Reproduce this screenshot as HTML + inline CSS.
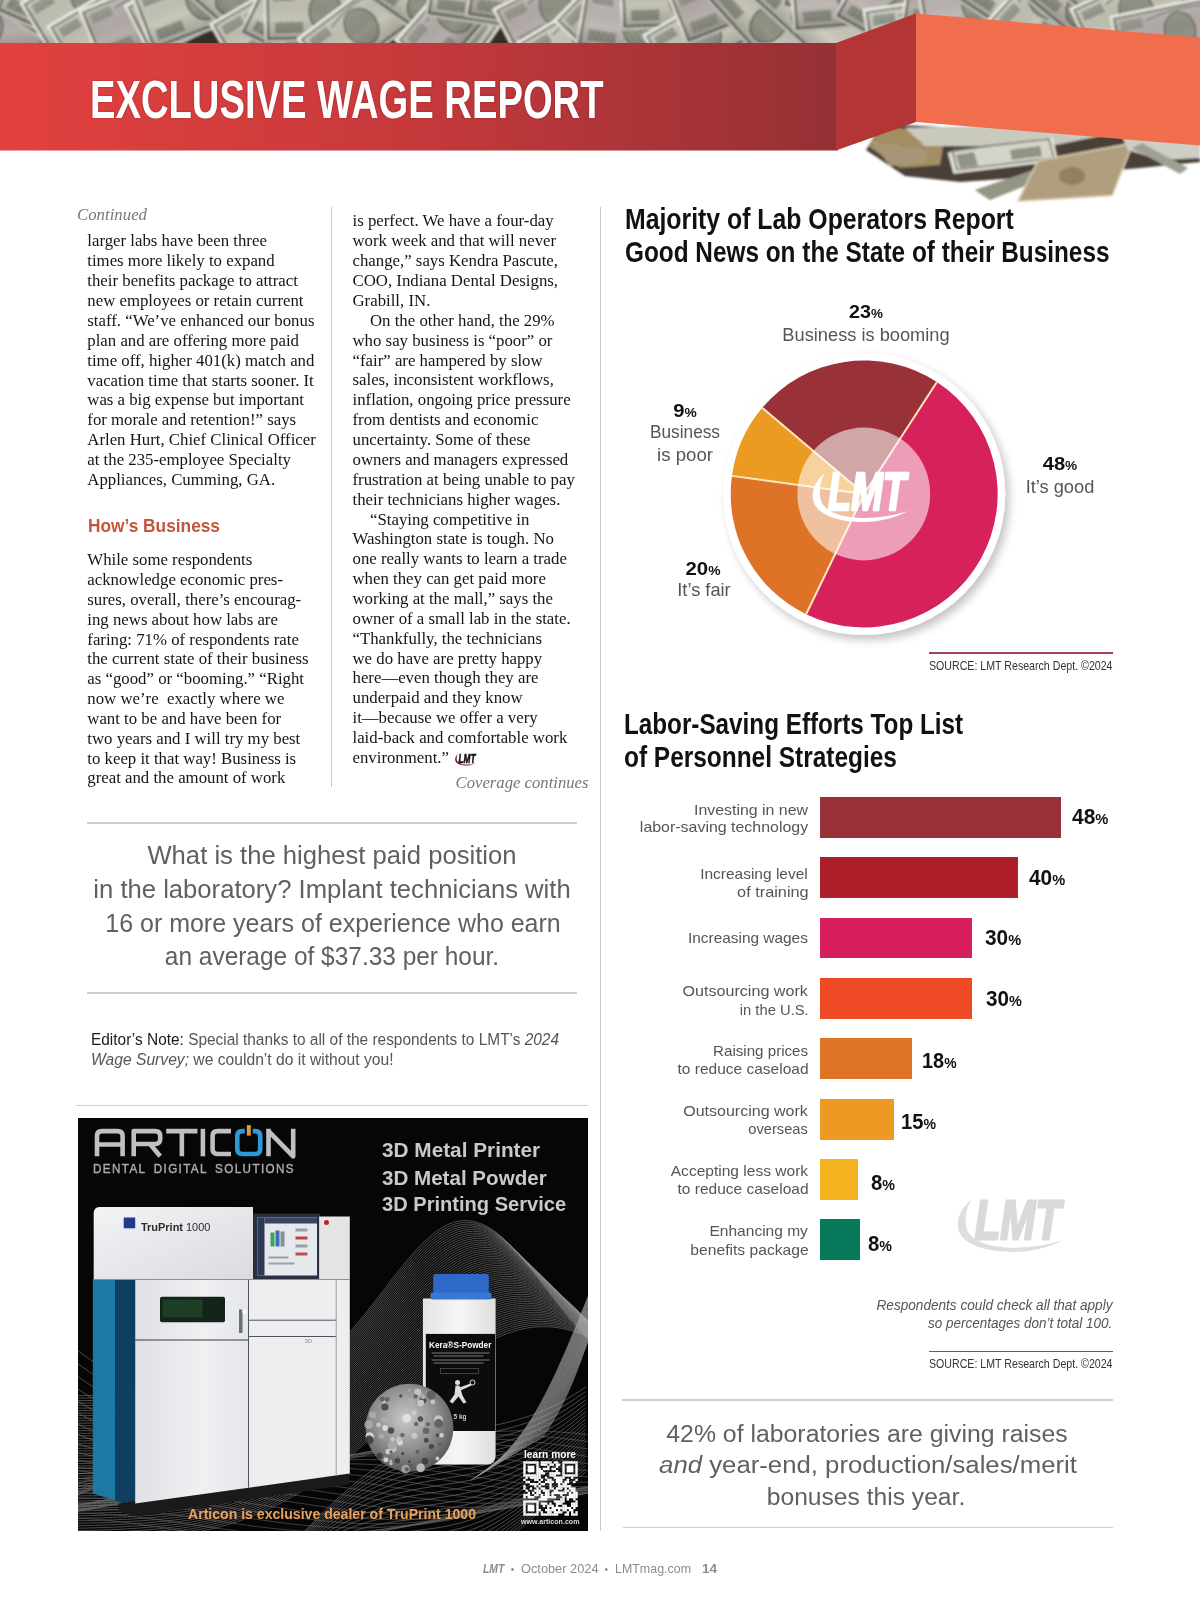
<!DOCTYPE html>
<html><head><meta charset="utf-8"><style>
html,body{margin:0;padding:0;}
body{width:1200px;height:1600px;position:relative;overflow:hidden;background:#fff;}
.t{position:absolute;white-space:pre;}
.S{font-family:"Liberation Sans", sans-serif;}
.R{font-family:"Liberation Serif", serif;}
.a{position:absolute;}
</style></head><body>
<svg class="a" style="left:0;top:0" width="1200" height="210" viewBox="0 0 1200 210">
<defs>
<linearGradient id="band" x1="0" x2="1" y1="0" y2="0">
<stop offset="0" stop-color="#e2413f"/><stop offset="0.45" stop-color="#c93a3c"/><stop offset="1" stop-color="#953035"/>
</linearGradient>
<filter id="mblur" x="-5%" y="-20%" width="110%" height="140%"><feGaussianBlur stdDeviation="0.9"/></filter>
<clipPath id="strip"><rect x="0" y="0" width="1200" height="60"/></clipPath>
<pattern id="eng" width="3" height="3" patternUnits="userSpaceOnUse" patternTransform="rotate(30)"><rect width="3" height="1" fill="#8f9283" fill-opacity="0.55"/></pattern>
<linearGradient id="shade" x1="0" x2="0" y1="0" y2="1"><stop offset="0" stop-color="#fff" stop-opacity="0.25"/><stop offset="0.6" stop-color="#000" stop-opacity="0"/><stop offset="1" stop-color="#000" stop-opacity="0.22"/></linearGradient>
<pattern id="eng2" width="2.2" height="2.2" patternUnits="userSpaceOnUse" patternTransform="rotate(-20)"><rect width="2.2" height="2.2" fill="#b6b7a9"/><rect width="2.2" height="1" fill="#5f6256"/></pattern>
<pattern id="eng3" width="2.5" height="2.5" patternUnits="userSpaceOnUse" patternTransform="rotate(15)"><rect width="2.5" height="2.5" fill="#c2b18e"/><rect width="2.5" height="0.9" fill="#6f5f43"/></pattern>
</defs>
<g clip-path="url(#strip)"><g filter="url(#mblur)"><rect x="0" y="0" width="1200" height="60" fill="#352e28"/><g transform="translate(-31.0 15.5) rotate(42.4)"><rect x="-66.8" y="-31.8" width="133.6" height="63.6" fill="#e8e7df"/><rect x="-62.8" y="-27.8" width="125.6" height="55.6" fill="#d8d7cb" stroke="#6f7264" stroke-width="2.5"/><rect x="-62.8" y="-27.8" width="125.6" height="55.6" fill="url(#eng)"/><ellipse cx="-6.7" cy="0" rx="17.2" ry="21.0" fill="url(#eng2)" stroke="#6f7264" stroke-width="1.8"/><rect x="38.8" y="-23.8" width="18" height="47.6" fill="url(#eng2)"/><rect x="-57.8" y="-23.8" width="22" height="10" fill="url(#eng2)"/><rect x="-55.8" y="11.8" width="28" height="11" fill="url(#eng2)"/><path d="M-31.8,-19.8 Q0,-29.8 31.8,-19.8" fill="none" stroke="#6f7264" stroke-width="1.5"/><rect x="-66.8" y="-31.8" width="133.6" height="63.6" fill="url(#shade)"/></g><g transform="translate(-5.2 25.8) rotate(-2.4)"><rect x="-71.9" y="-28.0" width="143.8" height="55.9" fill="#e8e7df"/><rect x="-67.9" y="-24.0" width="135.8" height="47.9" fill="#bfb5b5" stroke="#6f7264" stroke-width="2.5"/><rect x="-67.9" y="-24.0" width="135.8" height="47.9" fill="url(#eng)"/><ellipse cx="-7.2" cy="0" rx="15.1" ry="18.5" fill="url(#eng2)" stroke="#6f7264" stroke-width="1.8"/><rect x="43.9" y="-20.0" width="18" height="39.9" fill="url(#eng2)"/><rect x="-62.9" y="-20.0" width="22" height="10" fill="url(#eng2)"/><rect x="-60.9" y="8.0" width="28" height="11" fill="url(#eng2)"/><path d="M-36.9,-16.0 Q0,-26.0 36.9,-16.0" fill="none" stroke="#6f7264" stroke-width="1.5"/><rect x="-71.9" y="-28.0" width="143.8" height="55.9" fill="url(#shade)"/></g><g transform="translate(28.1 -4.2) rotate(31.0)"><rect x="-69.5" y="-30.5" width="139.0" height="61.0" fill="#e8e7df"/><rect x="-65.5" y="-26.5" width="131.0" height="53.0" fill="#d0cfc1" stroke="#6f7264" stroke-width="2.5"/><rect x="-65.5" y="-26.5" width="131.0" height="53.0" fill="url(#eng)"/><ellipse cx="-7.0" cy="0" rx="16.5" ry="20.1" fill="url(#eng2)" stroke="#6f7264" stroke-width="1.8"/><rect x="41.5" y="-22.5" width="18" height="45.0" fill="url(#eng2)"/><rect x="-60.5" y="-22.5" width="22" height="10" fill="url(#eng2)"/><rect x="-58.5" y="10.5" width="28" height="11" fill="url(#eng2)"/><path d="M-34.5,-18.5 Q0,-28.5 34.5,-18.5" fill="none" stroke="#6f7264" stroke-width="1.5"/><rect x="-69.5" y="-30.5" width="139.0" height="61.0" fill="url(#shade)"/></g><g transform="translate(60.9 11.0) rotate(23.9)"><rect x="-62.4" y="-27.6" width="124.7" height="55.2" fill="#e8e7df"/><rect x="-58.4" y="-23.6" width="116.7" height="47.2" fill="#d0cfc1" stroke="#6f7264" stroke-width="2.5"/><rect x="-58.4" y="-23.6" width="116.7" height="47.2" fill="url(#eng)"/><ellipse cx="-6.2" cy="0" rx="14.9" ry="18.2" fill="url(#eng2)" stroke="#6f7264" stroke-width="1.8"/><rect x="34.4" y="-19.6" width="18" height="39.2" fill="url(#eng2)"/><rect x="-53.4" y="-19.6" width="22" height="10" fill="url(#eng2)"/><rect x="-51.4" y="7.6" width="28" height="11" fill="url(#eng2)"/><path d="M-27.4,-15.6 Q0,-25.6 27.4,-15.6" fill="none" stroke="#6f7264" stroke-width="1.5"/><rect x="-62.4" y="-27.6" width="124.7" height="55.2" fill="url(#shade)"/></g><g transform="translate(94.6 -5.5) rotate(-31.0)"><rect x="-69.0" y="-31.4" width="138.0" height="62.8" fill="#e8e7df"/><rect x="-65.0" y="-27.4" width="130.0" height="54.8" fill="#cfd0c2" stroke="#6f7264" stroke-width="2.5"/><rect x="-65.0" y="-27.4" width="130.0" height="54.8" fill="url(#eng)"/><ellipse cx="-6.9" cy="0" rx="17.0" ry="20.7" fill="url(#eng2)" stroke="#6f7264" stroke-width="1.8"/><rect x="41.0" y="-23.4" width="18" height="46.8" fill="url(#eng2)"/><rect x="-60.0" y="-23.4" width="22" height="10" fill="url(#eng2)"/><rect x="-58.0" y="11.4" width="28" height="11" fill="url(#eng2)"/><path d="M-34.0,-19.4 Q0,-29.4 34.0,-19.4" fill="none" stroke="#6f7264" stroke-width="1.5"/><rect x="-69.0" y="-31.4" width="138.0" height="62.8" fill="url(#shade)"/></g><g transform="translate(121.5 16.8) rotate(-30.5)"><rect x="-69.6" y="-30.0" width="139.2" height="60.0" fill="#e8e7df"/><rect x="-65.6" y="-26.0" width="131.2" height="52.0" fill="#cfd0c2" stroke="#6f7264" stroke-width="2.5"/><rect x="-65.6" y="-26.0" width="131.2" height="52.0" fill="url(#eng)"/><ellipse cx="-7.0" cy="0" rx="16.2" ry="19.8" fill="url(#eng2)" stroke="#6f7264" stroke-width="1.8"/><rect x="41.6" y="-22.0" width="18" height="44.0" fill="url(#eng2)"/><rect x="-60.6" y="-22.0" width="22" height="10" fill="url(#eng2)"/><rect x="-58.6" y="10.0" width="28" height="11" fill="url(#eng2)"/><path d="M-34.6,-18.0 Q0,-28.0 34.6,-18.0" fill="none" stroke="#6f7264" stroke-width="1.5"/><rect x="-69.6" y="-30.0" width="139.2" height="60.0" fill="url(#shade)"/></g><g transform="translate(159.2 11.2) rotate(-22.2)"><rect x="-74.9" y="-31.7" width="149.9" height="63.4" fill="#e8e7df"/><rect x="-70.9" y="-27.7" width="141.9" height="55.4" fill="#bfb5b5" stroke="#6f7264" stroke-width="2.5"/><rect x="-70.9" y="-27.7" width="141.9" height="55.4" fill="url(#eng)"/><ellipse cx="-7.5" cy="0" rx="17.1" ry="20.9" fill="url(#eng2)" stroke="#6f7264" stroke-width="1.8"/><rect x="46.9" y="-23.7" width="18" height="47.4" fill="url(#eng2)"/><rect x="-65.9" y="-23.7" width="22" height="10" fill="url(#eng2)"/><rect x="-63.9" y="11.7" width="28" height="11" fill="url(#eng2)"/><path d="M-39.9,-19.7 Q0,-29.7 39.9,-19.7" fill="none" stroke="#6f7264" stroke-width="1.5"/><rect x="-74.9" y="-31.7" width="149.9" height="63.4" fill="url(#shade)"/></g><g transform="translate(191.2 5.2) rotate(-27.0)"><rect x="-60.4" y="-30.3" width="120.9" height="60.6" fill="#e8e7df"/><rect x="-56.4" y="-26.3" width="112.9" height="52.6" fill="#c9c1c0" stroke="#6f7264" stroke-width="2.5"/><rect x="-56.4" y="-26.3" width="112.9" height="52.6" fill="url(#eng)"/><ellipse cx="-6.0" cy="0" rx="16.4" ry="20.0" fill="url(#eng2)" stroke="#6f7264" stroke-width="1.8"/><rect x="32.4" y="-22.3" width="18" height="44.6" fill="url(#eng2)"/><rect x="-51.4" y="-22.3" width="22" height="10" fill="url(#eng2)"/><rect x="-49.4" y="10.3" width="28" height="11" fill="url(#eng2)"/><path d="M-25.4,-18.3 Q0,-28.3 25.4,-18.3" fill="none" stroke="#6f7264" stroke-width="1.5"/><rect x="-60.4" y="-30.3" width="120.9" height="60.6" fill="url(#shade)"/></g><g transform="translate(210.2 -3.5) rotate(-20.9)"><rect x="-74.4" y="-31.7" width="148.7" height="63.5" fill="#e8e7df"/><rect x="-70.4" y="-27.7" width="140.7" height="55.5" fill="#d3d3c6" stroke="#6f7264" stroke-width="2.5"/><rect x="-70.4" y="-27.7" width="140.7" height="55.5" fill="url(#eng)"/><ellipse cx="-7.4" cy="0" rx="17.1" ry="20.9" fill="url(#eng2)" stroke="#6f7264" stroke-width="1.8"/><rect x="46.4" y="-23.7" width="18" height="47.5" fill="url(#eng2)"/><rect x="-65.4" y="-23.7" width="22" height="10" fill="url(#eng2)"/><rect x="-63.4" y="11.7" width="28" height="11" fill="url(#eng2)"/><path d="M-39.4,-19.7 Q0,-29.7 39.4,-19.7" fill="none" stroke="#6f7264" stroke-width="1.5"/><rect x="-74.4" y="-31.7" width="148.7" height="63.5" fill="url(#shade)"/></g><g transform="translate(239.0 0.8) rotate(41.0)"><rect x="-65.6" y="-31.0" width="131.3" height="62.1" fill="#e8e7df"/><rect x="-61.6" y="-27.0" width="123.3" height="54.1" fill="#d8d7cb" stroke="#6f7264" stroke-width="2.5"/><rect x="-61.6" y="-27.0" width="123.3" height="54.1" fill="url(#eng)"/><ellipse cx="-6.6" cy="0" rx="16.8" ry="20.5" fill="url(#eng2)" stroke="#6f7264" stroke-width="1.8"/><rect x="37.6" y="-23.0" width="18" height="46.1" fill="url(#eng2)"/><rect x="-56.6" y="-23.0" width="22" height="10" fill="url(#eng2)"/><rect x="-54.6" y="11.0" width="28" height="11" fill="url(#eng2)"/><path d="M-30.6,-19.0 Q0,-29.0 30.6,-19.0" fill="none" stroke="#6f7264" stroke-width="1.5"/><rect x="-65.6" y="-31.0" width="131.3" height="62.1" fill="url(#shade)"/></g><g transform="translate(278.4 15.8) rotate(-30.2)"><rect x="-64.0" y="-27.9" width="128.1" height="55.9" fill="#e8e7df"/><rect x="-60.0" y="-23.9" width="120.1" height="47.9" fill="#d0cfc1" stroke="#6f7264" stroke-width="2.5"/><rect x="-60.0" y="-23.9" width="120.1" height="47.9" fill="url(#eng)"/><ellipse cx="-6.4" cy="0" rx="15.1" ry="18.4" fill="url(#eng2)" stroke="#6f7264" stroke-width="1.8"/><rect x="36.0" y="-19.9" width="18" height="39.9" fill="url(#eng2)"/><rect x="-55.0" y="-19.9" width="22" height="10" fill="url(#eng2)"/><rect x="-53.0" y="7.9" width="28" height="11" fill="url(#eng2)"/><path d="M-29.0,-15.9 Q0,-25.9 29.0,-15.9" fill="none" stroke="#6f7264" stroke-width="1.5"/><rect x="-64.0" y="-27.9" width="128.1" height="55.9" fill="url(#shade)"/></g><g transform="translate(307.7 32.5) rotate(25.8)"><rect x="-62.0" y="-31.0" width="124.0" height="62.1" fill="#e8e7df"/><rect x="-58.0" y="-27.0" width="116.0" height="54.1" fill="#d3d3c6" stroke="#6f7264" stroke-width="2.5"/><rect x="-58.0" y="-27.0" width="116.0" height="54.1" fill="url(#eng)"/><ellipse cx="-6.2" cy="0" rx="16.8" ry="20.5" fill="url(#eng2)" stroke="#6f7264" stroke-width="1.8"/><rect x="34.0" y="-23.0" width="18" height="46.1" fill="url(#eng2)"/><rect x="-53.0" y="-23.0" width="22" height="10" fill="url(#eng2)"/><rect x="-51.0" y="11.0" width="28" height="11" fill="url(#eng2)"/><path d="M-27.0,-19.0 Q0,-29.0 27.0,-19.0" fill="none" stroke="#6f7264" stroke-width="1.5"/><rect x="-62.0" y="-31.0" width="124.0" height="62.1" fill="url(#shade)"/></g><g transform="translate(332.2 11.5) rotate(-1.3)"><rect x="-68.4" y="-29.7" width="136.8" height="59.5" fill="#e8e7df"/><rect x="-64.4" y="-25.7" width="128.8" height="51.5" fill="#d0cfc1" stroke="#6f7264" stroke-width="2.5"/><rect x="-64.4" y="-25.7" width="128.8" height="51.5" fill="url(#eng)"/><ellipse cx="-6.8" cy="0" rx="16.1" ry="19.6" fill="url(#eng2)" stroke="#6f7264" stroke-width="1.8"/><rect x="40.4" y="-21.7" width="18" height="43.5" fill="url(#eng2)"/><rect x="-59.4" y="-21.7" width="22" height="10" fill="url(#eng2)"/><rect x="-57.4" y="9.7" width="28" height="11" fill="url(#eng2)"/><path d="M-33.4,-17.7 Q0,-27.7 33.4,-17.7" fill="none" stroke="#6f7264" stroke-width="1.5"/><rect x="-68.4" y="-29.7" width="136.8" height="59.5" fill="url(#shade)"/></g><g transform="translate(366.8 22.7) rotate(-36.9)"><rect x="-65.8" y="-29.5" width="131.5" height="58.9" fill="#e8e7df"/><rect x="-61.8" y="-25.5" width="123.5" height="50.9" fill="#d0cfc1" stroke="#6f7264" stroke-width="2.5"/><rect x="-61.8" y="-25.5" width="123.5" height="50.9" fill="url(#eng)"/><ellipse cx="-6.6" cy="0" rx="15.9" ry="19.5" fill="url(#eng2)" stroke="#6f7264" stroke-width="1.8"/><rect x="37.8" y="-21.5" width="18" height="42.9" fill="url(#eng2)"/><rect x="-56.8" y="-21.5" width="22" height="10" fill="url(#eng2)"/><rect x="-54.8" y="9.5" width="28" height="11" fill="url(#eng2)"/><path d="M-30.8,-17.5 Q0,-27.5 30.8,-17.5" fill="none" stroke="#6f7264" stroke-width="1.5"/><rect x="-65.8" y="-29.5" width="131.5" height="58.9" fill="url(#shade)"/></g><g transform="translate(413.8 -8.0) rotate(36.4)"><rect x="-64.6" y="-31.9" width="129.1" height="63.8" fill="#e8e7df"/><rect x="-60.6" y="-27.9" width="121.1" height="55.8" fill="#bfb5b5" stroke="#6f7264" stroke-width="2.5"/><rect x="-60.6" y="-27.9" width="121.1" height="55.8" fill="url(#eng)"/><ellipse cx="-6.5" cy="0" rx="17.2" ry="21.1" fill="url(#eng2)" stroke="#6f7264" stroke-width="1.8"/><rect x="36.6" y="-23.9" width="18" height="47.8" fill="url(#eng2)"/><rect x="-55.6" y="-23.9" width="22" height="10" fill="url(#eng2)"/><rect x="-53.6" y="11.9" width="28" height="11" fill="url(#eng2)"/><path d="M-29.6,-19.9 Q0,-29.9 29.6,-19.9" fill="none" stroke="#6f7264" stroke-width="1.5"/><rect x="-64.6" y="-31.9" width="129.1" height="63.8" fill="url(#shade)"/></g><g transform="translate(429.2 8.6) rotate(35.4)"><rect x="-68.7" y="-27.7" width="137.3" height="55.4" fill="#e8e7df"/><rect x="-64.7" y="-23.7" width="129.3" height="47.4" fill="#d0cfc1" stroke="#6f7264" stroke-width="2.5"/><rect x="-64.7" y="-23.7" width="129.3" height="47.4" fill="url(#eng)"/><ellipse cx="-6.9" cy="0" rx="15.0" ry="18.3" fill="url(#eng2)" stroke="#6f7264" stroke-width="1.8"/><rect x="40.7" y="-19.7" width="18" height="39.4" fill="url(#eng2)"/><rect x="-59.7" y="-19.7" width="22" height="10" fill="url(#eng2)"/><rect x="-57.7" y="7.7" width="28" height="11" fill="url(#eng2)"/><path d="M-33.7,-15.7 Q0,-25.7 33.7,-15.7" fill="none" stroke="#6f7264" stroke-width="1.5"/><rect x="-68.7" y="-27.7" width="137.3" height="55.4" fill="url(#shade)"/></g><g transform="translate(458.9 10.5) rotate(-49.0)"><rect x="-64.9" y="-29.0" width="129.9" height="58.0" fill="#e8e7df"/><rect x="-60.9" y="-25.0" width="121.9" height="50.0" fill="#bfb5b5" stroke="#6f7264" stroke-width="2.5"/><rect x="-60.9" y="-25.0" width="121.9" height="50.0" fill="url(#eng)"/><ellipse cx="-6.5" cy="0" rx="15.7" ry="19.1" fill="url(#eng2)" stroke="#6f7264" stroke-width="1.8"/><rect x="36.9" y="-21.0" width="18" height="42.0" fill="url(#eng2)"/><rect x="-55.9" y="-21.0" width="22" height="10" fill="url(#eng2)"/><rect x="-53.9" y="9.0" width="28" height="11" fill="url(#eng2)"/><path d="M-29.9,-17.0 Q0,-27.0 29.9,-17.0" fill="none" stroke="#6f7264" stroke-width="1.5"/><rect x="-64.9" y="-29.0" width="129.9" height="58.0" fill="url(#shade)"/></g><g transform="translate(488.5 -4.2) rotate(8.3)"><rect x="-60.2" y="-29.3" width="120.5" height="58.7" fill="#e8e7df"/><rect x="-56.2" y="-25.3" width="112.5" height="50.7" fill="#cfd0c2" stroke="#6f7264" stroke-width="2.5"/><rect x="-56.2" y="-25.3" width="112.5" height="50.7" fill="url(#eng)"/><ellipse cx="-6.0" cy="0" rx="15.8" ry="19.4" fill="url(#eng2)" stroke="#6f7264" stroke-width="1.8"/><rect x="32.2" y="-21.3" width="18" height="42.7" fill="url(#eng2)"/><rect x="-51.2" y="-21.3" width="22" height="10" fill="url(#eng2)"/><rect x="-49.2" y="9.3" width="28" height="11" fill="url(#eng2)"/><path d="M-25.2,-17.3 Q0,-27.3 25.2,-17.3" fill="none" stroke="#6f7264" stroke-width="1.5"/><rect x="-60.2" y="-29.3" width="120.5" height="58.7" fill="url(#shade)"/></g><g transform="translate(530.4 -2.7) rotate(8.7)"><rect x="-62.0" y="-29.4" width="124.1" height="58.9" fill="#e8e7df"/><rect x="-58.0" y="-25.4" width="116.1" height="50.9" fill="#bfb5b5" stroke="#6f7264" stroke-width="2.5"/><rect x="-58.0" y="-25.4" width="116.1" height="50.9" fill="url(#eng)"/><ellipse cx="-6.2" cy="0" rx="15.9" ry="19.4" fill="url(#eng2)" stroke="#6f7264" stroke-width="1.8"/><rect x="34.0" y="-21.4" width="18" height="42.9" fill="url(#eng2)"/><rect x="-53.0" y="-21.4" width="22" height="10" fill="url(#eng2)"/><rect x="-51.0" y="9.4" width="28" height="11" fill="url(#eng2)"/><path d="M-27.0,-17.4 Q0,-27.4 27.0,-17.4" fill="none" stroke="#6f7264" stroke-width="1.5"/><rect x="-62.0" y="-29.4" width="124.1" height="58.9" fill="url(#shade)"/></g><g transform="translate(561.5 5.1) rotate(-27.2)"><rect x="-63.7" y="-28.4" width="127.5" height="56.9" fill="#e8e7df"/><rect x="-59.7" y="-24.4" width="119.5" height="48.9" fill="#bfb5b5" stroke="#6f7264" stroke-width="2.5"/><rect x="-59.7" y="-24.4" width="119.5" height="48.9" fill="url(#eng)"/><ellipse cx="-6.4" cy="0" rx="15.4" ry="18.8" fill="url(#eng2)" stroke="#6f7264" stroke-width="1.8"/><rect x="35.7" y="-20.4" width="18" height="40.9" fill="url(#eng2)"/><rect x="-54.7" y="-20.4" width="22" height="10" fill="url(#eng2)"/><rect x="-52.7" y="8.4" width="28" height="11" fill="url(#eng2)"/><path d="M-28.7,-16.4 Q0,-26.4 28.7,-16.4" fill="none" stroke="#6f7264" stroke-width="1.5"/><rect x="-63.7" y="-28.4" width="127.5" height="56.9" fill="url(#shade)"/></g><g transform="translate(594.8 31.5) rotate(-30.3)"><rect x="-73.2" y="-30.5" width="146.5" height="61.0" fill="#e8e7df"/><rect x="-69.2" y="-26.5" width="138.5" height="53.0" fill="#d8d7cb" stroke="#6f7264" stroke-width="2.5"/><rect x="-69.2" y="-26.5" width="138.5" height="53.0" fill="url(#eng)"/><ellipse cx="-7.3" cy="0" rx="16.5" ry="20.1" fill="url(#eng2)" stroke="#6f7264" stroke-width="1.8"/><rect x="45.2" y="-22.5" width="18" height="45.0" fill="url(#eng2)"/><rect x="-64.2" y="-22.5" width="22" height="10" fill="url(#eng2)"/><rect x="-62.2" y="10.5" width="28" height="11" fill="url(#eng2)"/><path d="M-38.2,-18.5 Q0,-28.5 38.2,-18.5" fill="none" stroke="#6f7264" stroke-width="1.5"/><rect x="-73.2" y="-30.5" width="146.5" height="61.0" fill="url(#shade)"/></g><g transform="translate(619.4 -3.6) rotate(-46.1)"><rect x="-63.6" y="-31.0" width="127.2" height="62.0" fill="#e8e7df"/><rect x="-59.6" y="-27.0" width="119.2" height="54.0" fill="#c9c1c0" stroke="#6f7264" stroke-width="2.5"/><rect x="-59.6" y="-27.0" width="119.2" height="54.0" fill="url(#eng)"/><ellipse cx="-6.4" cy="0" rx="16.8" ry="20.5" fill="url(#eng2)" stroke="#6f7264" stroke-width="1.8"/><rect x="35.6" y="-23.0" width="18" height="46.0" fill="url(#eng2)"/><rect x="-54.6" y="-23.0" width="22" height="10" fill="url(#eng2)"/><rect x="-52.6" y="11.0" width="28" height="11" fill="url(#eng2)"/><path d="M-28.6,-19.0 Q0,-29.0 28.6,-19.0" fill="none" stroke="#6f7264" stroke-width="1.5"/><rect x="-63.6" y="-31.0" width="127.2" height="62.0" fill="url(#shade)"/></g><g transform="translate(647.1 26.6) rotate(9.6)"><rect x="-67.8" y="-32.1" width="135.6" height="64.3" fill="#e8e7df"/><rect x="-63.8" y="-28.1" width="127.6" height="56.3" fill="#c9c1c0" stroke="#6f7264" stroke-width="2.5"/><rect x="-63.8" y="-28.1" width="127.6" height="56.3" fill="url(#eng)"/><ellipse cx="-6.8" cy="0" rx="17.4" ry="21.2" fill="url(#eng2)" stroke="#6f7264" stroke-width="1.8"/><rect x="39.8" y="-24.1" width="18" height="48.3" fill="url(#eng2)"/><rect x="-58.8" y="-24.1" width="22" height="10" fill="url(#eng2)"/><rect x="-56.8" y="12.1" width="28" height="11" fill="url(#eng2)"/><path d="M-32.8,-20.1 Q0,-30.1 32.8,-20.1" fill="none" stroke="#6f7264" stroke-width="1.5"/><rect x="-67.8" y="-32.1" width="135.6" height="64.3" fill="url(#shade)"/></g><g transform="translate(692.5 -2.7) rotate(-2.1)"><rect x="-72.8" y="-30.6" width="145.6" height="61.1" fill="#e8e7df"/><rect x="-68.8" y="-26.6" width="137.6" height="53.1" fill="#d0cfc1" stroke="#6f7264" stroke-width="2.5"/><rect x="-68.8" y="-26.6" width="137.6" height="53.1" fill="url(#eng)"/><ellipse cx="-7.3" cy="0" rx="16.5" ry="20.2" fill="url(#eng2)" stroke="#6f7264" stroke-width="1.8"/><rect x="44.8" y="-22.6" width="18" height="45.1" fill="url(#eng2)"/><rect x="-63.8" y="-22.6" width="22" height="10" fill="url(#eng2)"/><rect x="-61.8" y="10.6" width="28" height="11" fill="url(#eng2)"/><path d="M-37.8,-18.6 Q0,-28.6 37.8,-18.6" fill="none" stroke="#6f7264" stroke-width="1.5"/><rect x="-72.8" y="-30.6" width="145.6" height="61.1" fill="url(#shade)"/></g><g transform="translate(709.6 30.5) rotate(-29.6)"><rect x="-61.0" y="-29.6" width="122.1" height="59.1" fill="#e8e7df"/><rect x="-57.0" y="-25.6" width="114.1" height="51.1" fill="#d3d3c6" stroke="#6f7264" stroke-width="2.5"/><rect x="-57.0" y="-25.6" width="114.1" height="51.1" fill="url(#eng)"/><ellipse cx="-6.1" cy="0" rx="16.0" ry="19.5" fill="url(#eng2)" stroke="#6f7264" stroke-width="1.8"/><rect x="33.0" y="-21.6" width="18" height="43.1" fill="url(#eng2)"/><rect x="-52.0" y="-21.6" width="22" height="10" fill="url(#eng2)"/><rect x="-50.0" y="9.6" width="28" height="11" fill="url(#eng2)"/><path d="M-26.0,-17.6 Q0,-27.6 26.0,-17.6" fill="none" stroke="#6f7264" stroke-width="1.5"/><rect x="-61.0" y="-29.6" width="122.1" height="59.1" fill="url(#shade)"/></g><g transform="translate(740.0 -6.0) rotate(-21.8)"><rect x="-68.6" y="-28.2" width="137.2" height="56.3" fill="#e8e7df"/><rect x="-64.6" y="-24.2" width="129.2" height="48.3" fill="#bfb5b5" stroke="#6f7264" stroke-width="2.5"/><rect x="-64.6" y="-24.2" width="129.2" height="48.3" fill="url(#eng)"/><ellipse cx="-6.9" cy="0" rx="15.2" ry="18.6" fill="url(#eng2)" stroke="#6f7264" stroke-width="1.8"/><rect x="40.6" y="-20.2" width="18" height="40.3" fill="url(#eng2)"/><rect x="-59.6" y="-20.2" width="22" height="10" fill="url(#eng2)"/><rect x="-57.6" y="8.2" width="28" height="11" fill="url(#eng2)"/><path d="M-33.6,-16.2 Q0,-26.2 33.6,-16.2" fill="none" stroke="#6f7264" stroke-width="1.5"/><rect x="-68.6" y="-28.2" width="137.2" height="56.3" fill="url(#shade)"/></g><g transform="translate(773.2 29.4) rotate(48.0)"><rect x="-71.0" y="-30.1" width="142.0" height="60.2" fill="#e8e7df"/><rect x="-67.0" y="-26.1" width="134.0" height="52.2" fill="#d0cfc1" stroke="#6f7264" stroke-width="2.5"/><rect x="-67.0" y="-26.1" width="134.0" height="52.2" fill="url(#eng)"/><ellipse cx="-7.1" cy="0" rx="16.3" ry="19.9" fill="url(#eng2)" stroke="#6f7264" stroke-width="1.8"/><rect x="43.0" y="-22.1" width="18" height="44.2" fill="url(#eng2)"/><rect x="-62.0" y="-22.1" width="22" height="10" fill="url(#eng2)"/><rect x="-60.0" y="10.1" width="28" height="11" fill="url(#eng2)"/><path d="M-36.0,-18.1 Q0,-28.1 36.0,-18.1" fill="none" stroke="#6f7264" stroke-width="1.5"/><rect x="-71.0" y="-30.1" width="142.0" height="60.2" fill="url(#shade)"/></g><g transform="translate(815.9 16.8) rotate(42.4)"><rect x="-73.7" y="-31.0" width="147.3" height="62.0" fill="#e8e7df"/><rect x="-69.7" y="-27.0" width="139.3" height="54.0" fill="#d8d7cb" stroke="#6f7264" stroke-width="2.5"/><rect x="-69.7" y="-27.0" width="139.3" height="54.0" fill="url(#eng)"/><ellipse cx="-7.4" cy="0" rx="16.7" ry="20.5" fill="url(#eng2)" stroke="#6f7264" stroke-width="1.8"/><rect x="45.7" y="-23.0" width="18" height="46.0" fill="url(#eng2)"/><rect x="-64.7" y="-23.0" width="22" height="10" fill="url(#eng2)"/><rect x="-62.7" y="11.0" width="28" height="11" fill="url(#eng2)"/><path d="M-38.7,-19.0 Q0,-29.0 38.7,-19.0" fill="none" stroke="#6f7264" stroke-width="1.5"/><rect x="-73.7" y="-31.0" width="147.3" height="62.0" fill="url(#shade)"/></g><g transform="translate(847.3 -7.1) rotate(13.6)"><rect x="-61.0" y="-29.1" width="122.0" height="58.1" fill="#e8e7df"/><rect x="-57.0" y="-25.1" width="114.0" height="50.1" fill="#d8d7cb" stroke="#6f7264" stroke-width="2.5"/><rect x="-57.0" y="-25.1" width="114.0" height="50.1" fill="url(#eng)"/><ellipse cx="-6.1" cy="0" rx="15.7" ry="19.2" fill="url(#eng2)" stroke="#6f7264" stroke-width="1.8"/><rect x="33.0" y="-21.1" width="18" height="42.1" fill="url(#eng2)"/><rect x="-52.0" y="-21.1" width="22" height="10" fill="url(#eng2)"/><rect x="-50.0" y="9.1" width="28" height="11" fill="url(#eng2)"/><path d="M-26.0,-17.1 Q0,-27.1 26.0,-17.1" fill="none" stroke="#6f7264" stroke-width="1.5"/><rect x="-61.0" y="-29.1" width="122.0" height="58.1" fill="url(#shade)"/></g><g transform="translate(861.7 -5.0) rotate(-4.7)"><rect x="-71.1" y="-32.0" width="142.1" height="64.0" fill="#e8e7df"/><rect x="-67.1" y="-28.0" width="134.1" height="56.0" fill="#c9c1c0" stroke="#6f7264" stroke-width="2.5"/><rect x="-67.1" y="-28.0" width="134.1" height="56.0" fill="url(#eng)"/><ellipse cx="-7.1" cy="0" rx="17.3" ry="21.1" fill="url(#eng2)" stroke="#6f7264" stroke-width="1.8"/><rect x="43.1" y="-24.0" width="18" height="48.0" fill="url(#eng2)"/><rect x="-62.1" y="-24.0" width="22" height="10" fill="url(#eng2)"/><rect x="-60.1" y="12.0" width="28" height="11" fill="url(#eng2)"/><path d="M-36.1,-20.0 Q0,-30.0 36.1,-20.0" fill="none" stroke="#6f7264" stroke-width="1.5"/><rect x="-71.1" y="-32.0" width="142.1" height="64.0" fill="url(#shade)"/></g><g transform="translate(904.7 21.6) rotate(29.3)"><rect x="-65.3" y="-30.9" width="130.6" height="61.9" fill="#e8e7df"/><rect x="-61.3" y="-26.9" width="122.6" height="53.9" fill="#c9c1c0" stroke="#6f7264" stroke-width="2.5"/><rect x="-61.3" y="-26.9" width="122.6" height="53.9" fill="url(#eng)"/><ellipse cx="-6.5" cy="0" rx="16.7" ry="20.4" fill="url(#eng2)" stroke="#6f7264" stroke-width="1.8"/><rect x="37.3" y="-22.9" width="18" height="45.9" fill="url(#eng2)"/><rect x="-56.3" y="-22.9" width="22" height="10" fill="url(#eng2)"/><rect x="-54.3" y="10.9" width="28" height="11" fill="url(#eng2)"/><path d="M-30.3,-18.9 Q0,-28.9 30.3,-18.9" fill="none" stroke="#6f7264" stroke-width="1.5"/><rect x="-65.3" y="-30.9" width="130.6" height="61.9" fill="url(#shade)"/></g><g transform="translate(939.0 28.6) rotate(-8.3)"><rect x="-73.0" y="-30.4" width="145.9" height="60.7" fill="#e8e7df"/><rect x="-69.0" y="-26.4" width="137.9" height="52.7" fill="#d3d3c6" stroke="#6f7264" stroke-width="2.5"/><rect x="-69.0" y="-26.4" width="137.9" height="52.7" fill="url(#eng)"/><ellipse cx="-7.3" cy="0" rx="16.4" ry="20.0" fill="url(#eng2)" stroke="#6f7264" stroke-width="1.8"/><rect x="45.0" y="-22.4" width="18" height="44.7" fill="url(#eng2)"/><rect x="-64.0" y="-22.4" width="22" height="10" fill="url(#eng2)"/><rect x="-62.0" y="10.4" width="28" height="11" fill="url(#eng2)"/><path d="M-38.0,-18.4 Q0,-28.4 38.0,-18.4" fill="none" stroke="#6f7264" stroke-width="1.5"/><rect x="-73.0" y="-30.4" width="145.9" height="60.7" fill="url(#shade)"/></g><g transform="translate(964.5 8.1) rotate(8.3)"><rect x="-61.1" y="-28.0" width="122.2" height="55.9" fill="#e8e7df"/><rect x="-57.1" y="-24.0" width="114.2" height="47.9" fill="#bfb5b5" stroke="#6f7264" stroke-width="2.5"/><rect x="-57.1" y="-24.0" width="114.2" height="47.9" fill="url(#eng)"/><ellipse cx="-6.1" cy="0" rx="15.1" ry="18.4" fill="url(#eng2)" stroke="#6f7264" stroke-width="1.8"/><rect x="33.1" y="-20.0" width="18" height="39.9" fill="url(#eng2)"/><rect x="-52.1" y="-20.0" width="22" height="10" fill="url(#eng2)"/><rect x="-50.1" y="8.0" width="28" height="11" fill="url(#eng2)"/><path d="M-26.1,-16.0 Q0,-26.0 26.1,-16.0" fill="none" stroke="#6f7264" stroke-width="1.5"/><rect x="-61.1" y="-28.0" width="122.2" height="55.9" fill="url(#shade)"/></g><g transform="translate(985.3 2.8) rotate(-8.4)"><rect x="-65.8" y="-31.2" width="131.7" height="62.4" fill="#e8e7df"/><rect x="-61.8" y="-27.2" width="123.7" height="54.4" fill="#c9c1c0" stroke="#6f7264" stroke-width="2.5"/><rect x="-61.8" y="-27.2" width="123.7" height="54.4" fill="url(#eng)"/><ellipse cx="-6.6" cy="0" rx="16.8" ry="20.6" fill="url(#eng2)" stroke="#6f7264" stroke-width="1.8"/><rect x="37.8" y="-23.2" width="18" height="46.4" fill="url(#eng2)"/><rect x="-56.8" y="-23.2" width="22" height="10" fill="url(#eng2)"/><rect x="-54.8" y="11.2" width="28" height="11" fill="url(#eng2)"/><path d="M-30.8,-19.2 Q0,-29.2 30.8,-19.2" fill="none" stroke="#6f7264" stroke-width="1.5"/><rect x="-65.8" y="-31.2" width="131.7" height="62.4" fill="url(#shade)"/></g><g transform="translate(1025.6 10.5) rotate(33.8)"><rect x="-67.8" y="-30.1" width="135.6" height="60.1" fill="#e8e7df"/><rect x="-63.8" y="-26.1" width="127.6" height="52.1" fill="#d3d3c6" stroke="#6f7264" stroke-width="2.5"/><rect x="-63.8" y="-26.1" width="127.6" height="52.1" fill="url(#eng)"/><ellipse cx="-6.8" cy="0" rx="16.2" ry="19.8" fill="url(#eng2)" stroke="#6f7264" stroke-width="1.8"/><rect x="39.8" y="-22.1" width="18" height="44.1" fill="url(#eng2)"/><rect x="-58.8" y="-22.1" width="22" height="10" fill="url(#eng2)"/><rect x="-56.8" y="10.1" width="28" height="11" fill="url(#eng2)"/><path d="M-32.8,-18.1 Q0,-28.1 32.8,-18.1" fill="none" stroke="#6f7264" stroke-width="1.5"/><rect x="-67.8" y="-30.1" width="135.6" height="60.1" fill="url(#shade)"/></g><g transform="translate(1051.2 -4.3) rotate(-47.8)"><rect x="-61.7" y="-31.4" width="123.4" height="62.8" fill="#e8e7df"/><rect x="-57.7" y="-27.4" width="115.4" height="54.8" fill="#d0cfc1" stroke="#6f7264" stroke-width="2.5"/><rect x="-57.7" y="-27.4" width="115.4" height="54.8" fill="url(#eng)"/><ellipse cx="-6.2" cy="0" rx="17.0" ry="20.7" fill="url(#eng2)" stroke="#6f7264" stroke-width="1.8"/><rect x="33.7" y="-23.4" width="18" height="46.8" fill="url(#eng2)"/><rect x="-52.7" y="-23.4" width="22" height="10" fill="url(#eng2)"/><rect x="-50.7" y="11.4" width="28" height="11" fill="url(#eng2)"/><path d="M-26.7,-19.4 Q0,-29.4 26.7,-19.4" fill="none" stroke="#6f7264" stroke-width="1.5"/><rect x="-61.7" y="-31.4" width="123.4" height="62.8" fill="url(#shade)"/></g><g transform="translate(1089.2 12.4) rotate(39.6)"><rect x="-64.5" y="-30.9" width="129.0" height="61.8" fill="#e8e7df"/><rect x="-60.5" y="-26.9" width="121.0" height="53.8" fill="#c9c1c0" stroke="#6f7264" stroke-width="2.5"/><rect x="-60.5" y="-26.9" width="121.0" height="53.8" fill="url(#eng)"/><ellipse cx="-6.5" cy="0" rx="16.7" ry="20.4" fill="url(#eng2)" stroke="#6f7264" stroke-width="1.8"/><rect x="36.5" y="-22.9" width="18" height="45.8" fill="url(#eng2)"/><rect x="-55.5" y="-22.9" width="22" height="10" fill="url(#eng2)"/><rect x="-53.5" y="10.9" width="28" height="11" fill="url(#eng2)"/><path d="M-29.5,-18.9 Q0,-28.9 29.5,-18.9" fill="none" stroke="#6f7264" stroke-width="1.5"/><rect x="-64.5" y="-30.9" width="129.0" height="61.8" fill="url(#shade)"/></g><g transform="translate(1111.1 -0.9) rotate(40.6)"><rect x="-74.0" y="-30.0" width="147.9" height="60.0" fill="#e8e7df"/><rect x="-70.0" y="-26.0" width="139.9" height="52.0" fill="#d0cfc1" stroke="#6f7264" stroke-width="2.5"/><rect x="-70.0" y="-26.0" width="139.9" height="52.0" fill="url(#eng)"/><ellipse cx="-7.4" cy="0" rx="16.2" ry="19.8" fill="url(#eng2)" stroke="#6f7264" stroke-width="1.8"/><rect x="46.0" y="-22.0" width="18" height="44.0" fill="url(#eng2)"/><rect x="-65.0" y="-22.0" width="22" height="10" fill="url(#eng2)"/><rect x="-63.0" y="10.0" width="28" height="11" fill="url(#eng2)"/><path d="M-39.0,-18.0 Q0,-28.0 39.0,-18.0" fill="none" stroke="#6f7264" stroke-width="1.5"/><rect x="-74.0" y="-30.0" width="147.9" height="60.0" fill="url(#shade)"/></g><g transform="translate(1142.8 9.0) rotate(-24.9)"><rect x="-66.5" y="-31.5" width="132.9" height="63.1" fill="#e8e7df"/><rect x="-62.5" y="-27.5" width="124.9" height="55.1" fill="#d0cfc1" stroke="#6f7264" stroke-width="2.5"/><rect x="-62.5" y="-27.5" width="124.9" height="55.1" fill="url(#eng)"/><ellipse cx="-6.6" cy="0" rx="17.0" ry="20.8" fill="url(#eng2)" stroke="#6f7264" stroke-width="1.8"/><rect x="38.5" y="-23.5" width="18" height="47.1" fill="url(#eng2)"/><rect x="-57.5" y="-23.5" width="22" height="10" fill="url(#eng2)"/><rect x="-55.5" y="11.5" width="28" height="11" fill="url(#eng2)"/><path d="M-31.5,-19.5 Q0,-29.5 31.5,-19.5" fill="none" stroke="#6f7264" stroke-width="1.5"/><rect x="-66.5" y="-31.5" width="132.9" height="63.1" fill="url(#shade)"/></g><g transform="translate(1187.3 29.0) rotate(-11.6)"><rect x="-73.8" y="-28.5" width="147.6" height="57.1" fill="#e8e7df"/><rect x="-69.8" y="-24.5" width="139.6" height="49.1" fill="#bfb5b5" stroke="#6f7264" stroke-width="2.5"/><rect x="-69.8" y="-24.5" width="139.6" height="49.1" fill="url(#eng)"/><ellipse cx="-7.4" cy="0" rx="15.4" ry="18.8" fill="url(#eng2)" stroke="#6f7264" stroke-width="1.8"/><rect x="45.8" y="-20.5" width="18" height="41.1" fill="url(#eng2)"/><rect x="-64.8" y="-20.5" width="22" height="10" fill="url(#eng2)"/><rect x="-62.8" y="8.5" width="28" height="11" fill="url(#eng2)"/><path d="M-38.8,-16.5 Q0,-26.5 38.8,-16.5" fill="none" stroke="#6f7264" stroke-width="1.5"/><rect x="-73.8" y="-28.5" width="147.6" height="57.1" fill="url(#shade)"/></g></g></g>
<g filter="url(#mblur)"><polygon points="866,150 882,124 1200,140 1200,162 1140,168 1060,175 960,182 905,176" fill="#4a4038"/><polygon points="868,146 884,126 945,134 940,165 900,168" fill="#a38d64"/><polygon points="872,142 930,150 925,163 890,166" fill="url(#eng3)"/><polygon points="905,128 1060,124 1130,130 1050,146 925,146" fill="#d6d5ca"/><polygon points="905,128 1060,124 1130,130 1050,146 925,146" fill="url(#eng)"/><polygon points="947.8,152.5 953.5,173.7 1058,161 1052.6,137" fill="#e3e2d8"/><polygon points="952,150 957,170 1054,158 1049,139" fill="url(#eng)" stroke="#6f7264" stroke-width="1.5"/><polygon points="956,155 960,168 978,166 974,152" fill="url(#eng2)"/><polygon points="1010,150 1040,146 1042,156 1012,160" fill="url(#eng2)"/><polygon points="975,190 1045,166 1060,172 990,200" fill="#9a9c86"/><polygon points="975,190 1045,166 1060,172 990,200" fill="url(#eng2)" opacity="0.6"/><polygon points="1018.6,200.7 1112,195 1132,144 1038.5,161" fill="#c5b28e" stroke="#e3d6bb" stroke-width="2.5"/><polygon points="1018.6,200.7 1112,195 1132,144 1038.5,161" fill="url(#eng3)" opacity="0.7"/><ellipse cx="1072" cy="176" rx="13" ry="9" fill="#7d6d50" fill-opacity="0.6"/><polygon points="1120,132 1200,140 1200,158 1160,160 1128,150" fill="#dcdbd3"/><polygon points="1120,132 1200,140 1200,158 1160,160 1128,150" fill="url(#eng)"/><polygon points="1132,148 1180,174 1188,168 1142,143" fill="#9da092"/></g>
<rect x="0" y="43" width="838" height="107.5" fill="url(#band)"/>
<polygon points="836,43 916,13.4 916,122 836,150.5" fill="#b33536"/>
<polygon points="916,13.4 1200,37.5 1200,145.6 916,122" fill="#f06e4d"/>
</svg>
<div class="a" style="left:330.5px;top:207px;width:1.5px;height:580px;background:#c9c9c9"></div>
<div class="a" style="left:599.5px;top:207px;width:1.5px;height:1324px;background:#c9c9c9"></div>
<div class="a" style="left:87px;top:822.3px;width:490px;height:1.5px;background:#cfcfcf"></div>
<div class="a" style="left:87px;top:992.3px;width:490px;height:1.5px;background:#cfcfcf"></div>
<div class="a" style="left:76px;top:1104.8px;width:512px;height:1.5px;background:#cfcfcf"></div>
<div class="a" style="left:622px;top:1399.3px;width:491px;height:1.5px;background:#cfcfcf"></div>
<div class="a" style="left:623px;top:1526.8px;width:490px;height:1.5px;background:#cfcfcf"></div>
<div class="a" style="left:929px;top:652px;width:184px;height:1.6px;background:#a3405a"></div>
<div class="a" style="left:929px;top:1350.5px;width:184px;height:1.6px;background:#a3405a"></div>
<svg class="a" style="left:0;top:0" width="1200" height="700" viewBox="0 0 1200 700">
<defs><filter id="sh" x="-20%" y="-20%" width="140%" height="140%"><feGaussianBlur in="SourceAlpha" stdDeviation="5"/><feOffset dx="4" dy="5"/><feComponentTransfer><feFuncA type="linear" slope="0.24"/></feComponentTransfer><feMerge><feMergeNode/><feMergeNode in="SourceGraphic"/></feMerge></filter></defs>
<circle cx="864.2" cy="494" r="141.0" fill="#fff" filter="url(#sh)"/>
<path d="M864.2,494 L936.91,382.04 A133.5,133.5 0 0 1 806.10,614.19 Z" fill="#d6215b"/><path d="M864.2,494 L806.10,614.19 A133.5,133.5 0 0 1 731.94,475.88 Z" fill="#de7328"/><path d="M864.2,494 L731.94,475.88 A133.5,133.5 0 0 1 762.23,407.83 Z" fill="#eb9a22"/><path d="M864.2,494 L762.23,407.83 A133.5,133.5 0 0 1 936.91,382.04 Z" fill="#983238"/>
<line x1="864.2" y1="494" x2="936.91" y2="382.04" stroke="#fbe7c0" stroke-width="2"/><line x1="864.2" y1="494" x2="806.10" y2="614.19" stroke="#fbe7c0" stroke-width="2"/><line x1="864.2" y1="494" x2="731.94" y2="475.88" stroke="#fbe7c0" stroke-width="2"/><line x1="864.2" y1="494" x2="762.23" y2="407.83" stroke="#fbe7c0" stroke-width="2"/>
<circle cx="863.8" cy="494" r="66.4" fill="#fff" fill-opacity="0.56"/>
<g transform="translate(812 473) scale(1.0000 1.0000)" opacity="1"><path d="M13,0 C3,8 -2,20 2,30 C8,44 30,49 50,49 C70,49 85,44 96,38 C84,42 68,45 52,45 C30,45 14,39 9.5,29 C6,19 8,8 13,0 Z" fill="#fff"/><text x="16" y="37" font-family="Liberation Sans" font-weight="700" font-style="italic" font-size="53" textLength="78" lengthAdjust="spacingAndGlyphs" fill="#fff" stroke="#fff" stroke-width="2.6" stroke-linejoin="round" transform="translate(0 0)">LMT</text></g>
</svg>
<div class="a" style="left:819.5px;top:797.0px;width:241.0px;height:40.7px;background:#983238"></div>
<div class="a" style="left:819.5px;top:857.3px;width:198.5px;height:40.7px;background:#ae1f2a"></div>
<div class="a" style="left:819.5px;top:917.8px;width:152.5px;height:40.7px;background:#d61f5b"></div>
<div class="a" style="left:819.5px;top:978.0px;width:152.5px;height:40.7px;background:#ef4b26"></div>
<div class="a" style="left:819.5px;top:1038.2px;width:92.8px;height:40.7px;background:#df7328"></div>
<div class="a" style="left:819.5px;top:1099.0px;width:74.4px;height:40.7px;background:#ec9a22"></div>
<div class="a" style="left:819.5px;top:1159.2px;width:38.9px;height:40.7px;background:#f5b320"></div>
<div class="a" style="left:819.5px;top:1219.4px;width:40.0px;height:40.7px;background:#077a5c"></div>
<svg class="a" style="left:0;top:0" width="1200" height="1600" viewBox="0 0 1200 1600"><g transform="translate(957 1200) scale(1.1042 1.0612)" opacity="1"><path d="M13,0 C3,8 -2,20 2,30 C8,44 30,49 50,49 C70,49 85,44 96,38 C84,42 68,45 52,45 C30,45 14,39 9.5,29 C6,19 8,8 13,0 Z" fill="#dedede"/><text x="16" y="37" font-family="Liberation Sans" font-weight="700" font-style="italic" font-size="53" textLength="78" lengthAdjust="spacingAndGlyphs" fill="#d9d9d9" stroke="#d9d9d9" stroke-width="2.6" stroke-linejoin="round" transform="translate(0 0)">LMT</text></g><g transform="translate(455 754) scale(0.2188 0.2347)" opacity="1"><path d="M13,0 C3,8 -2,20 2,30 C8,44 30,49 50,49 C70,49 85,44 96,38 C84,42 68,45 52,45 C30,45 14,39 9.5,29 C6,19 8,8 13,0 Z" fill="#7a1a30"/><text x="16" y="37" font-family="Liberation Sans" font-weight="700" font-style="italic" font-size="53" textLength="78" lengthAdjust="spacingAndGlyphs" fill="#111" stroke="#111" stroke-width="2.6" stroke-linejoin="round" transform="translate(0 0)">LMT</text></g></svg>
<svg class="a" style="left:77.5px;top:1117.5px" width="510" height="413" viewBox="77.5 1117.5 510 413">
<defs>
<clipPath id="adc"><rect x="77.5" y="1117.5" width="510" height="413"/></clipPath>
<linearGradient id="bodyg" x1="0" x2="1"><stop offset="0" stop-color="#dfe1e4"/><stop offset="0.6" stop-color="#eef0f2"/><stop offset="1" stop-color="#e4e6e9"/></linearGradient>
<linearGradient id="topg" x1="0" x2="1" y1="0" y2="1"><stop offset="0" stop-color="#f2f3f5"/><stop offset="1" stop-color="#d9dbde"/></linearGradient>
<radialGradient id="disc" cx="0.45" cy="0.4" r="0.6"><stop offset="0" stop-color="#c9c9c9"/><stop offset="0.6" stop-color="#8e8e8e"/><stop offset="1" stop-color="#5a5a5a"/></radialGradient>
<linearGradient id="bottleg" x1="0" x2="1"><stop offset="0" stop-color="#e4e4e2"/><stop offset="0.5" stop-color="#f6f6f4"/><stop offset="1" stop-color="#dededc"/></linearGradient>
</defs>
<rect x="77.5" y="1117.5" width="510" height="413" fill="#060606"/>
<g clip-path="url(#adc)" fill="none" stroke="#8a8a8a" stroke-width="0.7" stroke-opacity="0.75"><polyline points="77,1395.0 82,1395.0 87,1395.0 92,1395.0 97,1395.0 102,1395.0 107,1395.0 112,1395.0 117,1395.0 122,1395.0 127,1395.0 132,1395.0 137,1394.9 142,1394.9 147,1394.9 152,1394.9 157,1394.9 162,1394.8 167,1394.8 172,1394.7 177,1394.7 182,1394.6 187,1394.5 192,1394.4 197,1394.2 202,1394.1 207,1393.9 212,1393.6 217,1393.3 222,1393.0 227,1392.6 232,1392.1 237,1391.6 242,1390.9 247,1390.2 252,1389.3 257,1388.4 262,1387.2 267,1386.0 272,1384.5 277,1382.9 282,1381.1 287,1379.1 292,1376.8 297,1374.3 302,1371.5 307,1368.5 312,1365.2 317,1361.6 322,1357.7 327,1353.5 332,1349.1 337,1344.3 342,1339.3 347,1333.9 352,1328.4 357,1322.6 362,1316.5 367,1310.3 372,1304.0 377,1297.6 382,1291.1 387,1284.5 392,1278.0 397,1271.6 402,1265.4 407,1259.3 412,1253.5 417,1248.0 422,1242.8 427,1238.1 432,1233.8 437,1230.1 442,1226.9 447,1224.2 452,1222.2 457,1220.8 462,1220.1 467,1220.1 472,1220.6 477,1221.9 482,1223.8 487,1226.3 492,1229.4 497,1233.0 502,1237.2 507,1241.9 512,1246.9 517,1252.4 522,1258.1 527,1264.1 532,1270.4 537,1276.7 542,1283.2 547,1289.7 552,1296.3 557,1302.7 562,1309.1 567,1315.3 572,1321.4 577,1327.2 582,1332.8 587,1338.2 592,1343.3"/><polyline points="77,1397.5 82,1397.5 87,1397.5 92,1397.5 97,1397.5 102,1397.5 107,1397.5 112,1397.5 117,1397.5 122,1397.5 127,1397.5 132,1397.5 137,1397.5 142,1397.4 147,1397.4 152,1397.4 157,1397.4 162,1397.3 167,1397.3 172,1397.2 177,1397.2 182,1397.1 187,1397.0 192,1396.8 197,1396.7 202,1396.5 207,1396.3 212,1396.0 217,1395.7 222,1395.4 227,1394.9 232,1394.4 237,1393.9 242,1393.2 247,1392.4 252,1391.6 257,1390.6 262,1389.4 267,1388.1 272,1386.6 277,1385.0 282,1383.1 287,1381.1 292,1378.8 297,1376.3 302,1373.5 307,1370.4 312,1367.1 317,1363.5 322,1359.6 327,1355.5 332,1351.0 337,1346.3 342,1341.3 347,1336.0 352,1330.4 357,1324.7 362,1318.7 367,1312.6 372,1306.3 377,1299.9 382,1293.5 387,1287.0 392,1280.5 397,1274.2 402,1268.0 407,1261.9 412,1256.1 417,1250.6 422,1245.5 427,1240.7 432,1236.4 437,1232.6 442,1229.3 447,1226.6 452,1224.4 457,1222.9 462,1222.0 467,1221.8 472,1222.2 477,1223.3 482,1225.0 487,1227.3 492,1230.1 497,1233.6 502,1237.5 507,1242.0 512,1246.8 517,1252.1 522,1257.7 527,1263.6 532,1269.6 537,1275.9 542,1282.3 547,1288.7 552,1295.2 557,1301.6 562,1308.0 567,1314.3 572,1320.3 577,1326.3 582,1332.0 587,1337.4 592,1342.6"/><polyline points="77,1400.0 82,1400.0 87,1400.0 92,1400.0 97,1400.0 102,1400.0 107,1400.0 112,1400.0 117,1400.0 122,1400.0 127,1400.0 132,1400.0 137,1400.0 142,1400.0 147,1399.9 152,1399.9 157,1399.9 162,1399.8 167,1399.8 172,1399.7 177,1399.6 182,1399.5 187,1399.4 192,1399.3 197,1399.1 202,1398.9 207,1398.7 212,1398.4 217,1398.1 222,1397.7 227,1397.3 232,1396.8 237,1396.2 242,1395.5 247,1394.7 252,1393.8 257,1392.8 262,1391.6 267,1390.2 272,1388.7 277,1387.1 282,1385.2 287,1383.1 292,1380.8 297,1378.2 302,1375.4 307,1372.4 312,1369.1 317,1365.5 322,1361.6 327,1357.4 332,1353.0 337,1348.2 342,1343.3 347,1338.0 352,1332.5 357,1326.8 362,1320.9 367,1314.8 372,1308.6 377,1302.2 382,1295.8 387,1289.4 392,1283.1 397,1276.7 402,1270.6 407,1264.6 412,1258.8 417,1253.3 422,1248.1 427,1243.3 432,1239.0 437,1235.1 442,1231.7 447,1228.9 452,1226.7 457,1225.0 462,1224.0 467,1223.6 472,1223.8 477,1224.7 482,1226.2 487,1228.3 492,1231.0 497,1234.2 502,1237.9 507,1242.2 512,1246.9 517,1251.9 522,1257.3 527,1263.0 532,1269.0 537,1275.1 542,1281.4 547,1287.8 552,1294.2 557,1300.6 562,1307.0 567,1313.2 572,1319.3 577,1325.3 582,1331.1 587,1336.6 592,1341.9"/><polyline points="77,1402.6 82,1402.6 87,1402.6 92,1402.6 97,1402.5 102,1402.5 107,1402.5 112,1402.5 117,1402.5 122,1402.5 127,1402.5 132,1402.5 137,1402.5 142,1402.5 147,1402.4 152,1402.4 157,1402.4 162,1402.3 167,1402.3 172,1402.2 177,1402.1 182,1402.0 187,1401.9 192,1401.7 197,1401.6 202,1401.4 207,1401.1 212,1400.8 217,1400.5 222,1400.1 227,1399.6 232,1399.1 237,1398.5 242,1397.8 247,1396.9 252,1396.0 257,1394.9 262,1393.7 267,1392.4 272,1390.8 277,1389.1 282,1387.2 287,1385.1 292,1382.8 297,1380.2 302,1377.4 307,1374.3 312,1371.0 317,1367.4 322,1363.5 327,1359.4 332,1354.9 337,1350.2 342,1345.3 347,1340.0 352,1334.6 357,1328.9 362,1323.0 367,1317.0 372,1310.8 377,1304.6 382,1298.2 387,1291.9 392,1285.5 397,1279.3 402,1273.1 407,1267.2 412,1261.4 417,1255.9 422,1250.8 427,1245.9 432,1241.6 437,1237.6 442,1234.2 447,1231.3 452,1228.9 457,1227.2 462,1226.0 467,1225.4 472,1225.5 477,1226.2 482,1227.5 487,1229.4 492,1231.9 497,1234.9 502,1238.4 507,1242.5 512,1247.0 517,1251.8 522,1257.1 527,1262.6 532,1268.4 537,1274.5 542,1280.6 547,1286.9 552,1293.3 557,1299.6 562,1305.9 567,1312.2 572,1318.3 577,1324.3 582,1330.2 587,1335.8 592,1341.2"/><polyline points="77,1405.1 82,1405.1 87,1405.1 92,1405.1 97,1405.1 102,1405.1 107,1405.1 112,1405.1 117,1405.0 122,1405.0 127,1405.0 132,1405.0 137,1405.0 142,1405.0 147,1404.9 152,1404.9 157,1404.9 162,1404.8 167,1404.7 172,1404.7 177,1404.6 182,1404.5 187,1404.3 192,1404.2 197,1404.0 202,1403.8 207,1403.5 212,1403.2 217,1402.9 222,1402.4 227,1402.0 232,1401.4 237,1400.8 242,1400.0 247,1399.2 252,1398.2 257,1397.1 262,1395.9 267,1394.5 272,1392.9 277,1391.2 282,1389.3 287,1387.1 292,1384.8 297,1382.2 302,1379.4 307,1376.3 312,1372.9 317,1369.3 322,1365.5 327,1361.3 332,1356.9 337,1352.2 342,1347.3 347,1342.1 352,1336.7 357,1331.0 362,1325.2 367,1319.2 372,1313.1 377,1306.9 382,1300.6 387,1294.3 392,1288.0 397,1281.8 402,1275.7 407,1269.8 412,1264.0 417,1258.6 422,1253.4 427,1248.6 432,1244.1 437,1240.2 442,1236.7 447,1233.7 452,1231.2 457,1229.3 462,1228.0 467,1227.3 472,1227.2 477,1227.7 482,1228.9 487,1230.6 492,1232.8 497,1235.7 502,1239.0 507,1242.9 512,1247.1 517,1251.8 522,1256.9 527,1262.3 532,1268.0 537,1273.8 542,1279.9 547,1286.1 552,1292.4 557,1298.7 562,1304.9 567,1311.2 572,1317.3 577,1323.4 582,1329.2 587,1334.9 592,1340.4"/><polyline points="77,1407.6 82,1407.6 87,1407.6 92,1407.6 97,1407.6 102,1407.6 107,1407.6 112,1407.6 117,1407.6 122,1407.5 127,1407.5 132,1407.5 137,1407.5 142,1407.5 147,1407.4 152,1407.4 157,1407.4 162,1407.3 167,1407.2 172,1407.1 177,1407.1 182,1406.9 187,1406.8 192,1406.6 197,1406.4 202,1406.2 207,1405.9 212,1405.6 217,1405.2 222,1404.8 227,1404.3 232,1403.7 237,1403.0 242,1402.3 247,1401.4 252,1400.4 257,1399.3 262,1398.0 267,1396.6 272,1395.0 277,1393.3 282,1391.3 287,1389.2 292,1386.8 297,1384.2 302,1381.3 307,1378.2 312,1374.9 317,1371.3 322,1367.4 327,1363.3 332,1358.9 337,1354.2 342,1349.3 347,1344.1 352,1338.7 357,1333.2 362,1327.4 367,1321.5 372,1315.4 377,1309.2 382,1303.0 387,1296.7 392,1290.5 397,1284.3 402,1278.3 407,1272.4 412,1266.6 417,1261.2 422,1256.0 427,1251.2 432,1246.7 437,1242.7 442,1239.1 447,1236.1 452,1233.5 457,1231.5 462,1230.1 467,1229.3 472,1229.0 477,1229.3 482,1230.3 487,1231.8 492,1233.9 497,1236.5 502,1239.7 507,1243.3 512,1247.4 517,1251.9 522,1256.8 527,1262.0 532,1267.5 537,1273.3 542,1279.2 547,1285.3 552,1291.5 557,1297.7 562,1304.0 567,1310.2 572,1316.4 577,1322.4 582,1328.3 587,1334.1 592,1339.6"/><polyline points="77,1410.1 82,1410.1 87,1410.1 92,1410.1 97,1410.1 102,1410.1 107,1410.1 112,1410.1 117,1410.1 122,1410.1 127,1410.0 132,1410.0 137,1410.0 142,1410.0 147,1409.9 152,1409.9 157,1409.8 162,1409.8 167,1409.7 172,1409.6 177,1409.5 182,1409.4 187,1409.2 192,1409.1 197,1408.9 202,1408.6 207,1408.3 212,1408.0 217,1407.6 222,1407.1 227,1406.6 232,1406.0 237,1405.3 242,1404.5 247,1403.6 252,1402.6 257,1401.5 262,1400.2 267,1398.7 272,1397.1 277,1395.3 282,1393.4 287,1391.2 292,1388.8 297,1386.2 302,1383.3 307,1380.2 312,1376.8 317,1373.2 322,1369.4 327,1365.2 332,1360.8 337,1356.2 342,1351.3 347,1346.2 352,1340.8 357,1335.3 362,1329.6 367,1323.7 372,1317.7 377,1311.5 382,1305.4 387,1299.2 392,1293.0 397,1286.9 402,1280.8 407,1274.9 412,1269.3 417,1263.8 422,1258.6 427,1253.8 432,1249.3 437,1245.2 442,1241.6 447,1238.5 452,1235.8 457,1233.7 462,1232.2 467,1231.2 472,1230.8 477,1231.0 482,1231.8 487,1233.1 492,1235.0 497,1237.4 502,1240.4 507,1243.8 512,1247.8 517,1252.1 522,1256.8 527,1261.9 532,1267.2 537,1272.8 542,1278.6 547,1284.6 552,1290.7 557,1296.9 562,1303.1 567,1309.3 572,1315.4 577,1321.5 582,1327.4 587,1333.2 592,1338.8"/><polyline points="77,1412.6 82,1412.6 87,1412.6 92,1412.6 97,1412.6 102,1412.6 107,1412.6 112,1412.6 117,1412.6 122,1412.6 127,1412.6 132,1412.5 137,1412.5 142,1412.5 147,1412.4 152,1412.4 157,1412.3 162,1412.3 167,1412.2 172,1412.1 177,1412.0 182,1411.8 187,1411.7 192,1411.5 197,1411.3 202,1411.0 207,1410.7 212,1410.4 217,1409.9 222,1409.5 227,1408.9 232,1408.3 237,1407.6 242,1406.8 247,1405.9 252,1404.8 257,1403.6 262,1402.3 267,1400.9 272,1399.2 277,1397.4 282,1395.4 287,1393.2 292,1390.8 297,1388.1 302,1385.3 307,1382.2 312,1378.8 317,1375.2 322,1371.3 327,1367.2 332,1362.8 337,1358.2 342,1353.3 347,1348.2 352,1342.9 357,1337.4 362,1331.7 367,1325.9 372,1319.9 377,1313.9 382,1307.7 387,1301.6 392,1295.5 397,1289.4 402,1283.4 407,1277.5 412,1271.9 417,1266.4 422,1261.2 427,1256.4 432,1251.9 437,1247.8 442,1244.1 447,1240.9 452,1238.2 457,1236.0 462,1234.3 467,1233.2 472,1232.7 477,1232.7 482,1233.3 487,1234.5 492,1236.2 497,1238.4 502,1241.2 507,1244.5 512,1248.2 517,1252.3 522,1256.9 527,1261.8 532,1267.0 537,1272.4 542,1278.1 547,1284.0 552,1290.0 557,1296.1 562,1302.2 567,1308.4 572,1314.5 577,1320.6 582,1326.5 587,1332.3 592,1338.0"/><polyline points="77,1415.2 82,1415.1 87,1415.1 92,1415.1 97,1415.1 102,1415.1 107,1415.1 112,1415.1 117,1415.1 122,1415.1 127,1415.1 132,1415.0 137,1415.0 142,1415.0 147,1414.9 152,1414.9 157,1414.8 162,1414.8 167,1414.7 172,1414.6 177,1414.4 182,1414.3 187,1414.1 192,1413.9 197,1413.7 202,1413.4 207,1413.1 212,1412.7 217,1412.3 222,1411.8 227,1411.2 232,1410.6 237,1409.9 242,1409.0 247,1408.1 252,1407.0 257,1405.8 262,1404.5 267,1403.0 272,1401.3 277,1399.5 282,1397.4 287,1395.2 292,1392.8 297,1390.1 302,1387.2 307,1384.1 312,1380.7 317,1377.1 322,1373.3 327,1369.2 332,1364.8 337,1360.2 342,1355.3 347,1350.3 352,1345.0 357,1339.5 362,1333.9 367,1328.1 372,1322.2 377,1316.2 382,1310.1 387,1304.0 392,1297.9 397,1291.9 402,1285.9 407,1280.1 412,1274.5 417,1269.0 422,1263.9 427,1259.0 432,1254.5 437,1250.3 442,1246.6 447,1243.3 452,1240.5 457,1238.2 462,1236.4 467,1235.2 472,1234.5 477,1234.4 482,1234.9 487,1235.9 492,1237.4 497,1239.5 502,1242.1 507,1245.1 512,1248.7 517,1252.7 522,1257.0 527,1261.8 532,1266.8 537,1272.1 542,1277.7 547,1283.4 552,1289.3 557,1295.3 562,1301.4 567,1307.5 572,1313.6 577,1319.7 582,1325.6 587,1331.5 592,1337.2"/><polyline points="77,1417.7 82,1417.7 87,1417.7 92,1417.7 97,1417.7 102,1417.6 107,1417.6 112,1417.6 117,1417.6 122,1417.6 127,1417.6 132,1417.5 137,1417.5 142,1417.5 147,1417.4 152,1417.4 157,1417.3 162,1417.2 167,1417.1 172,1417.0 177,1416.9 182,1416.7 187,1416.6 192,1416.3 197,1416.1 202,1415.8 207,1415.5 212,1415.1 217,1414.6 222,1414.1 227,1413.5 232,1412.9 237,1412.1 242,1411.3 247,1410.3 252,1409.2 257,1408.0 262,1406.6 267,1405.1 272,1403.4 277,1401.5 282,1399.5 287,1397.2 292,1394.8 297,1392.1 302,1389.2 307,1386.1 312,1382.7 317,1379.1 322,1375.2 327,1371.1 332,1366.8 337,1362.2 342,1357.4 347,1352.3 352,1347.1 357,1341.7 362,1336.1 367,1330.3 372,1324.5 377,1318.5 382,1312.5 387,1306.4 392,1300.4 397,1294.4 402,1288.5 407,1282.7 412,1277.0 417,1271.6 422,1266.5 427,1261.6 432,1257.0 437,1252.9 442,1249.1 447,1245.8 452,1242.9 457,1240.5 462,1238.6 467,1237.3 472,1236.5 477,1236.2 482,1236.5 487,1237.3 492,1238.7 497,1240.6 502,1243.0 507,1245.9 512,1249.3 517,1253.1 522,1257.3 527,1261.8 532,1266.7 537,1271.9 542,1277.3 547,1282.9 552,1288.7 557,1294.7 562,1300.7 567,1306.7 572,1312.8 577,1318.8 582,1324.7 587,1330.6 592,1336.3"/><polyline points="77,1420.2 82,1420.2 87,1420.2 92,1420.2 97,1420.2 102,1420.2 107,1420.1 112,1420.1 117,1420.1 122,1420.1 127,1420.1 132,1420.0 137,1420.0 142,1420.0 147,1419.9 152,1419.9 157,1419.8 162,1419.7 167,1419.6 172,1419.5 177,1419.4 182,1419.2 187,1419.0 192,1418.8 197,1418.5 202,1418.2 207,1417.9 212,1417.4 217,1417.0 222,1416.5 227,1415.8 232,1415.2 237,1414.4 242,1413.5 247,1412.5 252,1411.4 257,1410.1 262,1408.7 267,1407.2 272,1405.5 277,1403.6 282,1401.5 287,1399.3 292,1396.8 297,1394.1 302,1391.2 307,1388.0 312,1384.7 317,1381.0 322,1377.2 327,1373.1 332,1368.8 337,1364.2 342,1359.4 347,1354.4 352,1349.2 357,1343.8 362,1338.2 367,1332.5 372,1326.7 377,1320.8 382,1314.8 387,1308.8 392,1302.8 397,1296.9 402,1291.0 407,1285.2 412,1279.6 417,1274.2 422,1269.1 427,1264.2 432,1259.6 437,1255.4 442,1251.6 447,1248.2 452,1245.3 457,1242.8 462,1240.8 467,1239.3 472,1238.4 477,1238.0 482,1238.2 487,1238.8 492,1240.0 497,1241.8 502,1244.0 507,1246.7 512,1249.9 517,1253.5 522,1257.6 527,1261.9 532,1266.7 537,1271.7 542,1277.0 547,1282.5 552,1288.2 557,1294.0 562,1299.9 567,1305.9 572,1311.9 577,1317.9 582,1323.9 587,1329.8 592,1335.5"/><polyline points="77,1422.7 82,1422.7 87,1422.7 92,1422.7 97,1422.7 102,1422.7 107,1422.7 112,1422.6 117,1422.6 122,1422.6 127,1422.6 132,1422.6 137,1422.5 142,1422.5 147,1422.4 152,1422.4 157,1422.3 162,1422.2 167,1422.1 172,1421.9 177,1421.8 182,1421.6 187,1421.4 192,1421.2 197,1420.9 202,1420.6 207,1420.2 212,1419.8 217,1419.3 222,1418.8 227,1418.1 232,1417.4 237,1416.6 242,1415.7 247,1414.7 252,1413.6 257,1412.3 262,1410.9 267,1409.3 272,1407.6 277,1405.7 282,1403.6 287,1401.3 292,1398.8 297,1396.1 302,1393.2 307,1390.0 312,1386.6 317,1383.0 322,1379.2 327,1375.1 332,1370.8 337,1366.2 342,1361.4 347,1356.5 352,1351.3 357,1345.9 362,1340.4 367,1334.8 372,1329.0 377,1323.1 382,1317.2 387,1311.2 392,1305.3 397,1299.3 402,1293.5 407,1287.8 412,1282.2 417,1276.8 422,1271.7 427,1266.8 432,1262.2 437,1258.0 442,1254.1 447,1250.7 452,1247.6 457,1245.1 462,1243.0 467,1241.5 472,1240.4 477,1239.9 482,1239.9 487,1240.4 492,1241.4 497,1243.0 502,1245.1 507,1247.6 512,1250.6 517,1254.1 522,1257.9 527,1262.2 532,1266.7 537,1271.6 542,1276.8 547,1282.1 552,1287.7 557,1293.5 562,1299.3 567,1305.2 572,1311.2 577,1317.1 582,1323.1 587,1328.9 592,1334.7"/><polyline points="77,1425.2 82,1425.2 87,1425.2 92,1425.2 97,1425.2 102,1425.2 107,1425.2 112,1425.2 117,1425.1 122,1425.1 127,1425.1 132,1425.1 137,1425.0 142,1425.0 147,1424.9 152,1424.8 157,1424.8 162,1424.7 167,1424.5 172,1424.4 177,1424.2 182,1424.1 187,1423.8 192,1423.6 197,1423.3 202,1423.0 207,1422.6 212,1422.2 217,1421.7 222,1421.1 227,1420.4 232,1419.7 237,1418.9 242,1417.9 247,1416.9 252,1415.7 257,1414.4 262,1413.0 267,1411.4 272,1409.6 277,1407.7 282,1405.6 287,1403.3 292,1400.8 297,1398.1 302,1395.1 307,1392.0 312,1388.6 317,1385.0 322,1381.1 327,1377.1 332,1372.8 337,1368.2 342,1363.5 347,1358.5 352,1353.4 357,1348.1 362,1342.6 367,1337.0 372,1331.2 377,1325.4 382,1319.5 387,1313.6 392,1307.7 397,1301.8 402,1296.0 407,1290.3 412,1284.8 417,1279.4 422,1274.2 427,1269.4 432,1264.8 437,1260.5 442,1256.6 447,1253.1 452,1250.0 457,1247.4 462,1245.2 467,1243.6 472,1242.4 477,1241.8 482,1241.6 487,1242.0 492,1242.9 497,1244.3 502,1246.2 507,1248.6 512,1251.4 517,1254.7 522,1258.4 527,1262.4 532,1266.9 537,1271.6 542,1276.6 547,1281.9 552,1287.3 557,1292.9 562,1298.7 567,1304.5 572,1310.4 577,1316.4 582,1322.3 587,1328.1 592,1333.9"/><polyline points="77,1427.7 82,1427.7 87,1427.7 92,1427.7 97,1427.7 102,1427.7 107,1427.7 112,1427.7 117,1427.6 122,1427.6 127,1427.6 132,1427.6 137,1427.5 142,1427.5 147,1427.4 152,1427.3 157,1427.2 162,1427.1 167,1427.0 172,1426.9 177,1426.7 182,1426.5 187,1426.3 192,1426.0 197,1425.7 202,1425.4 207,1425.0 212,1424.5 217,1424.0 222,1423.4 227,1422.7 232,1422.0 237,1421.1 242,1420.2 247,1419.1 252,1417.9 257,1416.6 262,1415.1 267,1413.5 272,1411.7 277,1409.8 282,1407.6 287,1405.3 292,1402.8 297,1400.1 302,1397.1 307,1393.9 312,1390.6 317,1386.9 322,1383.1 327,1379.0 332,1374.8 337,1370.2 342,1365.5 347,1360.6 352,1355.5 357,1350.2 362,1344.8 367,1339.2 372,1333.5 377,1327.7 382,1321.9 387,1316.0 392,1310.1 397,1304.3 402,1298.5 407,1292.8 412,1287.3 417,1282.0 422,1276.8 427,1271.9 432,1267.3 437,1263.1 442,1259.1 447,1255.6 452,1252.4 457,1249.7 462,1247.5 467,1245.7 472,1244.4 477,1243.7 482,1243.4 487,1243.6 492,1244.4 497,1245.6 502,1247.4 507,1249.6 512,1252.3 517,1255.4 522,1258.9 527,1262.8 532,1267.1 537,1271.6 542,1276.5 547,1281.6 552,1287.0 557,1292.5 562,1298.2 567,1303.9 572,1309.8 577,1315.6 582,1321.5 587,1327.3 592,1333.1"/><polyline points="77,1430.3 82,1430.2 87,1430.2 92,1430.2 97,1430.2 102,1430.2 107,1430.2 112,1430.2 117,1430.2 122,1430.1 127,1430.1 132,1430.0 137,1430.0 142,1429.9 147,1429.9 152,1429.8 157,1429.7 162,1429.6 167,1429.5 172,1429.3 177,1429.1 182,1428.9 187,1428.7 192,1428.4 197,1428.1 202,1427.7 207,1427.3 212,1426.8 217,1426.3 222,1425.7 227,1425.0 232,1424.2 237,1423.3 242,1422.4 247,1421.3 252,1420.1 257,1418.7 262,1417.2 267,1415.6 272,1413.8 277,1411.8 282,1409.7 287,1407.3 292,1404.8 297,1402.0 302,1399.1 307,1395.9 312,1392.5 317,1388.9 322,1385.1 327,1381.0 332,1376.8 337,1372.3 342,1367.6 347,1362.7 352,1357.6 357,1352.3 362,1346.9 367,1341.4 372,1335.8 377,1330.0 382,1324.2 387,1318.4 392,1312.6 397,1306.8 402,1301.0 407,1295.4 412,1289.9 417,1284.5 422,1279.4 427,1274.5 432,1269.9 437,1265.6 442,1261.6 447,1258.0 452,1254.9 457,1252.1 462,1249.8 467,1247.9 472,1246.5 477,1245.6 482,1245.2 487,1245.3 492,1245.9 497,1247.0 502,1248.6 507,1250.7 512,1253.2 517,1256.1 522,1259.5 527,1263.2 532,1267.3 537,1271.8 542,1276.5 547,1281.5 552,1286.7 557,1292.1 562,1297.7 567,1303.3 572,1309.1 577,1314.9 582,1320.8 587,1326.6 592,1332.4"/><polyline points="77,1432.8 82,1432.8 87,1432.8 92,1432.7 97,1432.7 102,1432.7 107,1432.7 112,1432.7 117,1432.7 122,1432.6 127,1432.6 132,1432.5 137,1432.5 142,1432.4 147,1432.4 152,1432.3 157,1432.2 162,1432.0 167,1431.9 172,1431.7 177,1431.6 182,1431.3 187,1431.1 192,1430.8 197,1430.5 202,1430.1 207,1429.7 212,1429.2 217,1428.6 222,1428.0 227,1427.3 232,1426.5 237,1425.6 242,1424.6 247,1423.5 252,1422.2 257,1420.9 262,1419.3 267,1417.7 272,1415.9 277,1413.9 282,1411.7 287,1409.3 292,1406.8 297,1404.0 302,1401.1 307,1397.9 312,1394.5 317,1390.9 322,1387.1 327,1383.0 332,1378.8 337,1374.3 342,1369.6 347,1364.7 352,1359.7 357,1354.5 362,1349.1 367,1343.6 372,1338.0 377,1332.3 382,1326.6 387,1320.8 392,1315.0 397,1309.2 402,1303.5 407,1297.9 412,1292.4 417,1287.1 422,1282.0 427,1277.1 432,1272.5 437,1268.2 442,1264.2 447,1260.5 452,1257.3 457,1254.4 462,1252.0 467,1250.1 472,1248.6 477,1247.6 482,1247.1 487,1247.0 492,1247.5 497,1248.5 502,1249.9 507,1251.8 512,1254.1 517,1256.9 522,1260.1 527,1263.7 532,1267.7 537,1271.9 542,1276.5 547,1281.4 552,1286.5 557,1291.8 562,1297.2 567,1302.8 572,1308.5 577,1314.3 582,1320.1 587,1325.9 592,1331.6"/><polyline points="77,1435.3 82,1435.3 87,1435.3 92,1435.3 97,1435.2 102,1435.2 107,1435.2 112,1435.2 117,1435.2 122,1435.1 127,1435.1 132,1435.0 137,1435.0 142,1434.9 147,1434.8 152,1434.7 157,1434.6 162,1434.5 167,1434.4 172,1434.2 177,1434.0 182,1433.8 187,1433.5 192,1433.2 197,1432.9 202,1432.5 207,1432.0 212,1431.5 217,1430.9 222,1430.3 227,1429.5 232,1428.7 237,1427.8 242,1426.8 247,1425.6 252,1424.4 257,1423.0 262,1421.5 267,1419.8 272,1417.9 277,1415.9 282,1413.7 287,1411.4 292,1408.8 297,1406.0 302,1403.1 307,1399.9 312,1396.5 317,1392.9 322,1389.1 327,1385.0 332,1380.8 337,1376.3 342,1371.7 347,1366.8 352,1361.8 357,1356.6 362,1351.3 367,1345.8 372,1340.3 377,1334.6 382,1328.9 387,1323.1 392,1317.4 397,1311.7 402,1306.0 407,1300.4 412,1295.0 417,1289.7 422,1284.6 427,1279.7 432,1275.0 437,1270.7 442,1266.7 447,1263.0 452,1259.7 457,1256.8 462,1254.3 467,1252.3 472,1250.7 477,1249.6 482,1249.0 487,1248.8 492,1249.1 497,1249.9 502,1251.2 507,1253.0 512,1255.2 517,1257.8 522,1260.8 527,1264.3 532,1268.1 537,1272.2 542,1276.6 547,1281.4 552,1286.3 557,1291.5 562,1296.9 567,1302.4 572,1308.0 577,1313.7 582,1319.4 587,1325.2 592,1330.9"/><polyline points="77,1437.8 82,1437.8 87,1437.8 92,1437.8 97,1437.8 102,1437.7 107,1437.7 112,1437.7 117,1437.7 122,1437.6 127,1437.6 132,1437.5 137,1437.5 142,1437.4 147,1437.3 152,1437.2 157,1437.1 162,1437.0 167,1436.8 172,1436.6 177,1436.4 182,1436.2 187,1435.9 192,1435.6 197,1435.2 202,1434.8 207,1434.4 212,1433.8 217,1433.2 222,1432.6 227,1431.8 232,1431.0 237,1430.0 242,1429.0 247,1427.8 252,1426.5 257,1425.1 262,1423.6 267,1421.9 272,1420.0 277,1418.0 282,1415.8 287,1413.4 292,1410.8 297,1408.0 302,1405.0 307,1401.9 312,1398.5 317,1394.9 322,1391.0 327,1387.0 332,1382.8 337,1378.3 342,1373.7 347,1368.9 352,1363.9 357,1358.8 362,1353.5 367,1348.0 372,1342.5 377,1336.9 382,1331.2 387,1325.5 392,1319.8 397,1314.1 402,1308.5 407,1302.9 412,1297.5 417,1292.2 422,1287.1 427,1282.2 432,1277.6 437,1273.2 442,1269.2 447,1265.5 452,1262.1 457,1259.2 462,1256.6 467,1254.5 472,1252.8 477,1251.6 482,1250.9 487,1250.6 492,1250.8 497,1251.5 502,1252.6 507,1254.2 512,1256.2 517,1258.7 522,1261.6 527,1264.9 532,1268.5 537,1272.5 542,1276.8 547,1281.4 552,1286.2 557,1291.3 562,1296.6 567,1302.0 572,1307.5 577,1313.1 582,1318.8 587,1324.5 592,1330.2"/><polyline points="77,1440.3 82,1440.3 87,1440.3 92,1440.3 97,1440.3 102,1440.2 107,1440.2 112,1440.2 117,1440.2 122,1440.1 127,1440.1 132,1440.0 137,1440.0 142,1439.9 147,1439.8 152,1439.7 157,1439.6 162,1439.4 167,1439.3 172,1439.1 177,1438.8 182,1438.6 187,1438.3 192,1438.0 197,1437.6 202,1437.2 207,1436.7 212,1436.1 217,1435.5 222,1434.8 227,1434.1 232,1433.2 237,1432.3 242,1431.2 247,1430.0 252,1428.7 257,1427.3 262,1425.7 267,1424.0 272,1422.1 277,1420.0 282,1417.8 287,1415.4 292,1412.8 297,1410.0 302,1407.0 307,1403.8 312,1400.4 317,1396.8 322,1393.0 327,1389.0 332,1384.8 337,1380.4 342,1375.8 347,1371.0 352,1366.0 357,1360.9 362,1355.6 367,1350.3 372,1344.8 377,1339.2 382,1333.6 387,1327.9 392,1322.2 397,1316.6 402,1311.0 407,1305.4 412,1300.0 417,1294.8 422,1289.7 427,1284.8 432,1280.2 437,1275.8 442,1271.7 447,1268.0 452,1264.6 457,1261.6 462,1259.0 467,1256.8 472,1255.0 477,1253.7 482,1252.8 487,1252.4 492,1252.5 497,1253.0 502,1254.0 507,1255.5 512,1257.4 517,1259.7 522,1262.4 527,1265.5 532,1269.0 537,1272.9 542,1277.0 547,1281.5 552,1286.2 557,1291.2 562,1296.3 567,1301.6 572,1307.1 577,1312.6 582,1318.2 587,1323.9 592,1329.6"/><polyline points="77,1442.8 82,1442.8 87,1442.8 92,1442.8 97,1442.8 102,1442.8 107,1442.7 112,1442.7 117,1442.7 122,1442.6 127,1442.6 132,1442.5 137,1442.4 142,1442.4 147,1442.3 152,1442.1 157,1442.0 162,1441.9 167,1441.7 172,1441.5 177,1441.3 182,1441.0 187,1440.7 192,1440.4 197,1440.0 202,1439.5 207,1439.0 212,1438.5 217,1437.8 222,1437.1 227,1436.3 232,1435.4 237,1434.5 242,1433.4 247,1432.2 252,1430.8 257,1429.4 262,1427.8 267,1426.0 272,1424.1 277,1422.1 282,1419.8 287,1417.4 292,1414.8 297,1412.0 302,1409.0 307,1405.8 312,1402.4 317,1398.8 322,1395.0 327,1391.0 332,1386.8 337,1382.4 342,1377.8 347,1373.1 352,1368.1 357,1363.0 362,1357.8 367,1352.5 372,1347.0 377,1341.5 382,1335.9 387,1330.3 392,1324.6 397,1319.0 402,1313.4 407,1307.9 412,1302.6 417,1297.3 422,1292.2 427,1287.4 432,1282.7 437,1278.3 442,1274.2 447,1270.5 452,1267.0 457,1264.0 462,1261.3 467,1259.0 472,1257.2 477,1255.8 482,1254.8 487,1254.3 492,1254.2 497,1254.6 502,1255.5 507,1256.8 512,1258.6 517,1260.7 522,1263.3 527,1266.3 532,1269.6 537,1273.3 542,1277.4 547,1281.7 552,1286.3 557,1291.1 562,1296.1 567,1301.3 572,1306.7 577,1312.1 582,1317.7 587,1323.3 592,1328.9"/><polyline points="77,1445.3 82,1445.3 87,1445.3 92,1445.3 97,1445.3 102,1445.3 107,1445.2 112,1445.2 117,1445.2 122,1445.1 127,1445.1 132,1445.0 137,1444.9 142,1444.8 147,1444.7 152,1444.6 157,1444.5 162,1444.3 167,1444.1 172,1443.9 177,1443.7 182,1443.4 187,1443.1 192,1442.7 197,1442.3 202,1441.9 207,1441.4 212,1440.8 217,1440.1 222,1439.4 227,1438.6 232,1437.7 237,1436.7 242,1435.6 247,1434.3 252,1433.0 257,1431.5 262,1429.9 267,1428.1 272,1426.2 277,1424.1 282,1421.9 287,1419.4 292,1416.8 297,1414.0 302,1411.0 307,1407.8 312,1404.4 317,1400.8 322,1397.0 327,1393.0 332,1388.8 337,1384.5 342,1379.9 347,1375.1 352,1370.2 357,1365.2 362,1360.0 367,1354.7 372,1349.3 377,1343.8 382,1338.2 387,1332.6 392,1327.0 397,1321.4 402,1315.9 407,1310.4 412,1305.1 417,1299.8 422,1294.8 427,1289.9 432,1285.3 437,1280.9 442,1276.8 447,1273.0 452,1269.5 457,1266.4 462,1263.6 467,1261.3 472,1259.4 477,1257.9 482,1256.8 487,1256.2 492,1256.0 497,1256.3 502,1257.0 507,1258.2 512,1259.8 517,1261.8 522,1264.2 527,1267.1 532,1270.3 537,1273.8 542,1277.7 547,1281.9 552,1286.4 557,1291.1 562,1296.0 567,1301.1 572,1306.3 577,1311.7 582,1317.2 587,1322.8 592,1328.4"/><polyline points="77,1447.9 82,1447.8 87,1447.8 92,1447.8 97,1447.8 102,1447.8 107,1447.7 112,1447.7 117,1447.7 122,1447.6 127,1447.5 132,1447.5 137,1447.4 142,1447.3 147,1447.2 152,1447.1 157,1446.9 162,1446.8 167,1446.6 172,1446.3 177,1446.1 182,1445.8 187,1445.5 192,1445.1 197,1444.7 202,1444.2 207,1443.7 212,1443.1 217,1442.4 222,1441.7 227,1440.8 232,1439.9 237,1438.9 242,1437.8 247,1436.5 252,1435.1 257,1433.6 262,1432.0 267,1430.2 272,1428.3 277,1426.2 282,1423.9 287,1421.5 292,1418.8 297,1416.0 302,1413.0 307,1409.8 312,1406.4 317,1402.8 322,1399.0 327,1395.0 332,1390.9 337,1386.5 342,1381.9 347,1377.2 352,1372.4 357,1367.3 362,1362.2 367,1356.9 372,1351.5 377,1346.0 382,1340.5 387,1335.0 392,1329.4 397,1323.9 402,1318.4 407,1312.9 412,1307.6 417,1302.4 422,1297.3 427,1292.5 432,1287.8 437,1283.4 442,1279.3 447,1275.4 452,1271.9 457,1268.8 462,1266.0 467,1263.6 472,1261.6 477,1260.0 482,1258.8 487,1258.1 492,1257.8 497,1258.0 502,1258.6 507,1259.6 512,1261.1 517,1263.0 522,1265.2 527,1267.9 532,1271.0 537,1274.4 542,1278.1 547,1282.2 552,1286.5 557,1291.1 562,1295.9 567,1300.9 572,1306.1 577,1311.4 582,1316.8 587,1322.3 592,1327.8"/><polyline points="77,1450.4 82,1450.4 87,1450.3 92,1450.3 97,1450.3 102,1450.3 107,1450.2 112,1450.2 117,1450.2 122,1450.1 127,1450.0 132,1450.0 137,1449.9 142,1449.8 147,1449.7 152,1449.5 157,1449.4 162,1449.2 167,1449.0 172,1448.8 177,1448.5 182,1448.2 187,1447.9 192,1447.5 197,1447.0 202,1446.6 207,1446.0 212,1445.4 217,1444.7 222,1443.9 227,1443.1 232,1442.1 237,1441.1 242,1439.9 247,1438.7 252,1437.3 257,1435.8 262,1434.1 267,1432.3 272,1430.3 277,1428.2 282,1425.9 287,1423.5 292,1420.8 297,1418.0 302,1415.0 307,1411.8 312,1408.4 317,1404.8 322,1401.0 327,1397.1 332,1392.9 337,1388.5 342,1384.0 347,1379.3 352,1374.5 357,1369.5 362,1364.3 367,1359.1 372,1353.8 377,1348.3 382,1342.8 387,1337.3 392,1331.8 397,1326.3 402,1320.8 407,1315.4 412,1310.1 417,1304.9 422,1299.9 427,1295.0 432,1290.4 437,1285.9 442,1281.8 447,1277.9 452,1274.4 457,1271.2 462,1268.3 467,1265.9 472,1263.8 477,1262.1 482,1260.9 487,1260.0 492,1259.6 497,1259.7 502,1260.2 507,1261.1 512,1262.4 517,1264.1 522,1266.3 527,1268.8 532,1271.8 537,1275.0 542,1278.6 547,1282.5 552,1286.7 557,1291.2 562,1295.9 567,1300.8 572,1305.8 577,1311.1 582,1316.4 587,1321.8 592,1327.3"/><polyline points="77,1452.9 82,1452.9 87,1452.8 92,1452.8 97,1452.8 102,1452.8 107,1452.7 112,1452.7 117,1452.6 122,1452.6 127,1452.5 132,1452.4 137,1452.3 142,1452.2 147,1452.1 152,1452.0 157,1451.8 162,1451.6 167,1451.4 172,1451.2 177,1450.9 182,1450.6 187,1450.2 192,1449.8 197,1449.4 202,1448.9 207,1448.3 212,1447.7 217,1447.0 222,1446.2 227,1445.3 232,1444.4 237,1443.3 242,1442.1 247,1440.8 252,1439.4 257,1437.9 262,1436.2 267,1434.4 272,1432.4 277,1430.3 282,1428.0 287,1425.5 292,1422.8 297,1420.0 302,1417.0 307,1413.8 312,1410.4 317,1406.8 322,1403.0 327,1399.1 332,1394.9 337,1390.6 342,1386.1 347,1381.4 352,1376.6 357,1371.6 362,1366.5 367,1361.3 372,1356.0 377,1350.6 382,1345.2 387,1339.7 392,1334.2 397,1328.7 402,1323.3 407,1317.9 412,1312.6 417,1307.4 422,1302.4 427,1297.5 432,1292.9 437,1288.5 442,1284.3 447,1280.4 452,1276.9 457,1273.6 462,1270.7 467,1268.2 472,1266.0 477,1264.3 482,1262.9 487,1262.0 492,1261.5 497,1261.4 502,1261.8 507,1262.6 512,1263.8 517,1265.4 522,1267.4 527,1269.8 532,1272.6 537,1275.7 542,1279.2 547,1282.9 552,1287.0 557,1291.3 562,1295.9 567,1300.7 572,1305.7 577,1310.8 582,1316.0 587,1321.4 592,1326.8"/><polyline points="77,1455.4 82,1455.4 87,1455.4 92,1455.3 97,1455.3 102,1455.3 107,1455.2 112,1455.2 117,1455.1 122,1455.1 127,1455.0 132,1454.9 137,1454.8 142,1454.7 147,1454.6 152,1454.4 157,1454.3 162,1454.1 167,1453.8 172,1453.6 177,1453.3 182,1453.0 187,1452.6 192,1452.2 197,1451.7 202,1451.2 207,1450.6 212,1450.0 217,1449.3 222,1448.5 227,1447.6 232,1446.6 237,1445.5 242,1444.3 247,1443.0 252,1441.6 257,1440.0 262,1438.3 267,1436.5 272,1434.5 277,1432.3 282,1430.0 287,1427.5 292,1424.9 297,1422.0 302,1419.0 307,1415.8 312,1412.4 317,1408.8 322,1405.0 327,1401.1 332,1396.9 337,1392.6 342,1388.1 347,1383.5 352,1378.7 357,1373.8 362,1368.7 367,1363.5 372,1358.2 377,1352.9 382,1347.5 387,1342.0 392,1336.6 397,1331.1 402,1325.7 407,1320.4 412,1315.1 417,1309.9 422,1304.9 427,1300.1 432,1295.4 437,1291.0 442,1286.8 447,1282.9 452,1279.3 457,1276.0 462,1273.1 467,1270.5 472,1268.3 477,1266.4 482,1265.0 487,1264.0 492,1263.4 497,1263.2 502,1263.4 507,1264.1 512,1265.2 517,1266.7 522,1268.5 527,1270.8 532,1273.4 537,1276.4 542,1279.8 547,1283.4 552,1287.4 557,1291.6 562,1296.0 567,1300.7 572,1305.6 577,1310.6 582,1315.8 587,1321.0 592,1326.4"/><polyline points="77,1457.9 82,1457.9 87,1457.9 92,1457.8 97,1457.8 102,1457.8 107,1457.7 112,1457.7 117,1457.6 122,1457.6 127,1457.5 132,1457.4 137,1457.3 142,1457.2 147,1457.0 152,1456.9 157,1456.7 162,1456.5 167,1456.3 172,1456.0 177,1455.7 182,1455.4 187,1455.0 192,1454.6 197,1454.1 202,1453.5 207,1452.9 212,1452.3 217,1451.5 222,1450.7 227,1449.8 232,1448.8 237,1447.7 242,1446.5 247,1445.1 252,1443.7 257,1442.1 262,1440.4 267,1438.5 272,1436.5 277,1434.4 282,1432.0 287,1429.5 292,1426.9 297,1424.0 302,1421.0 307,1417.8 312,1414.4 317,1410.8 322,1407.1 327,1403.1 332,1399.0 337,1394.7 342,1390.2 347,1385.6 352,1380.8 357,1375.9 362,1370.9 367,1365.7 372,1360.5 377,1355.2 382,1349.8 387,1344.4 392,1338.9 397,1333.5 402,1328.1 407,1322.8 412,1317.6 417,1312.4 422,1307.4 427,1302.6 432,1298.0 437,1293.5 442,1289.3 447,1285.4 452,1281.8 457,1278.5 462,1275.5 467,1272.8 472,1270.5 477,1268.6 482,1267.1 487,1266.0 492,1265.3 497,1265.0 502,1265.1 507,1265.7 512,1266.6 517,1268.0 522,1269.7 527,1271.9 532,1274.4 537,1277.2 542,1280.4 547,1283.9 552,1287.7 557,1291.8 562,1296.2 567,1300.7 572,1305.5 577,1310.4 582,1315.5 587,1320.7 592,1326.0"/><polyline points="77,1460.4 82,1460.4 87,1460.4 92,1460.3 97,1460.3 102,1460.3 107,1460.2 112,1460.2 117,1460.1 122,1460.0 127,1460.0 132,1459.9 137,1459.8 142,1459.6 147,1459.5 152,1459.3 157,1459.1 162,1458.9 167,1458.7 172,1458.4 177,1458.1 182,1457.7 187,1457.4 192,1456.9 197,1456.4 202,1455.9 207,1455.2 212,1454.6 217,1453.8 222,1453.0 227,1452.0 232,1451.0 237,1449.9 242,1448.6 247,1447.3 252,1445.8 257,1444.2 262,1442.5 267,1440.6 272,1438.6 277,1436.4 282,1434.1 287,1431.6 292,1428.9 297,1426.0 302,1423.0 307,1419.8 312,1416.4 317,1412.8 322,1409.1 327,1405.1 332,1401.0 337,1396.7 342,1392.3 347,1387.7 352,1382.9 357,1378.1 362,1373.0 367,1367.9 372,1362.7 377,1357.4 382,1352.1 387,1346.7 392,1341.3 397,1335.9 402,1330.6 407,1325.3 412,1320.1 417,1314.9 422,1310.0 427,1305.1 432,1300.5 437,1296.1 442,1291.9 447,1287.9 452,1284.3 457,1280.9 462,1277.8 467,1275.1 472,1272.8 477,1270.8 482,1269.2 487,1268.0 492,1267.2 497,1266.8 502,1266.9 507,1267.3 512,1268.1 517,1269.3 522,1271.0 527,1273.0 532,1275.3 537,1278.1 542,1281.1 547,1284.5 552,1288.2 557,1292.2 562,1296.4 567,1300.8 572,1305.5 577,1310.3 582,1315.3 587,1320.4 592,1325.7"/><polyline points="77,1462.9 82,1462.9 87,1462.9 92,1462.8 97,1462.8 102,1462.8 107,1462.7 112,1462.7 117,1462.6 122,1462.5 127,1462.4 132,1462.3 137,1462.2 142,1462.1 147,1461.9 152,1461.8 157,1461.6 162,1461.3 167,1461.1 172,1460.8 177,1460.5 182,1460.1 187,1459.7 192,1459.3 197,1458.7 202,1458.2 207,1457.5 212,1456.8 217,1456.1 222,1455.2 227,1454.3 232,1453.2 237,1452.1 242,1450.8 247,1449.4 252,1448.0 257,1446.3 262,1444.6 267,1442.7 272,1440.7 277,1438.5 282,1436.1 287,1433.6 292,1430.9 297,1428.0 302,1425.0 307,1421.8 312,1418.4 317,1414.8 322,1411.1 327,1407.2 332,1403.1 337,1398.8 342,1394.4 347,1389.8 352,1385.1 357,1380.2 362,1375.2 367,1370.1 372,1365.0 377,1359.7 382,1354.4 387,1349.1 392,1343.7 397,1338.3 402,1333.0 407,1327.7 412,1322.5 417,1317.4 422,1312.5 427,1307.7 432,1303.0 437,1298.6 442,1294.4 447,1290.4 452,1286.7 457,1283.3 462,1280.2 467,1277.5 472,1275.1 477,1273.0 482,1271.4 487,1270.1 492,1269.2 497,1268.7 502,1268.6 507,1268.9 512,1269.6 517,1270.7 522,1272.2 527,1274.1 532,1276.3 537,1278.9 542,1281.9 547,1285.1 552,1288.7 557,1292.5 562,1296.6 567,1301.0 572,1305.5 577,1310.3 582,1315.2 587,1320.2 592,1325.4"/><polyline points="77,1465.4 82,1465.4 87,1465.4 92,1465.3 97,1465.3 102,1465.3 107,1465.2 112,1465.2 117,1465.1 122,1465.0 127,1464.9 132,1464.8 137,1464.7 142,1464.5 147,1464.4 152,1464.2 157,1464.0 162,1463.8 167,1463.5 172,1463.2 177,1462.9 182,1462.5 187,1462.1 192,1461.6 197,1461.1 202,1460.5 207,1459.8 212,1459.1 217,1458.3 222,1457.4 227,1456.5 232,1455.4 237,1454.3 242,1453.0 247,1451.6 252,1450.1 257,1448.5 262,1446.7 267,1444.8 272,1442.7 277,1440.5 282,1438.1 287,1435.6 292,1432.9 297,1430.1 302,1427.0 307,1423.8 312,1420.4 317,1416.8 322,1413.1 327,1409.2 332,1405.1 337,1400.9 342,1396.4 347,1391.9 352,1387.2 357,1382.4 362,1377.4 367,1372.3 372,1367.2 377,1362.0 382,1356.7 387,1351.4 392,1346.1 397,1340.7 402,1335.4 407,1330.2 412,1325.0 417,1319.9 422,1315.0 427,1310.2 432,1305.5 437,1301.1 442,1296.9 447,1292.9 452,1289.2 457,1285.8 462,1282.6 467,1279.8 472,1277.4 477,1275.3 482,1273.5 487,1272.2 492,1271.2 497,1270.6 502,1270.4 507,1270.6 512,1271.2 517,1272.2 522,1273.6 527,1275.3 532,1277.4 537,1279.9 542,1282.7 547,1285.8 552,1289.3 557,1293.0 562,1297.0 567,1301.2 572,1305.6 577,1310.3 582,1315.1 587,1320.0 592,1325.1"/><polyline points="77,1467.9 82,1467.9 87,1467.9 92,1467.8 97,1467.8 102,1467.8 107,1467.7 112,1467.6 117,1467.6 122,1467.5 127,1467.4 132,1467.3 137,1467.1 142,1467.0 147,1466.8 152,1466.6 157,1466.4 162,1466.2 167,1465.9 172,1465.6 177,1465.3 182,1464.9 187,1464.4 192,1463.9 197,1463.4 202,1462.8 207,1462.1 212,1461.4 217,1460.6 222,1459.7 227,1458.7 232,1457.6 237,1456.4 242,1455.1 247,1453.7 252,1452.2 257,1450.6 262,1448.8 267,1446.9 272,1444.8 277,1442.6 282,1440.2 287,1437.6 292,1434.9 297,1432.1 302,1429.0 307,1425.8 312,1422.4 317,1418.9 322,1415.1 327,1411.2 332,1407.1 337,1402.9 342,1398.5 347,1394.0 352,1389.3 357,1384.5 362,1379.6 367,1374.6 372,1369.4 377,1364.3 382,1359.0 387,1353.7 392,1348.4 397,1343.1 402,1337.9 407,1332.6 412,1327.5 417,1322.4 422,1317.5 427,1312.7 432,1308.1 437,1303.6 442,1299.4 447,1295.4 452,1291.7 457,1288.2 462,1285.0 467,1282.2 472,1279.7 477,1277.5 482,1275.7 487,1274.3 492,1273.2 497,1272.5 502,1272.2 507,1272.3 512,1272.8 517,1273.7 522,1274.9 527,1276.5 532,1278.5 537,1280.9 542,1283.5 547,1286.6 552,1289.9 557,1293.5 562,1297.3 567,1301.4 572,1305.8 577,1310.3 582,1315.0 587,1319.9 592,1324.9"/><polyline points="77,1470.4 82,1470.4 87,1470.4 92,1470.3 97,1470.3 102,1470.3 107,1470.2 112,1470.1 117,1470.0 122,1470.0 127,1469.9 132,1469.7 137,1469.6 142,1469.4 147,1469.3 152,1469.1 157,1468.8 162,1468.6 167,1468.3 172,1468.0 177,1467.6 182,1467.2 187,1466.8 192,1466.3 197,1465.7 202,1465.1 207,1464.4 212,1463.7 217,1462.8 222,1461.9 227,1460.9 232,1459.8 237,1458.6 242,1457.3 247,1455.9 252,1454.3 257,1452.7 262,1450.9 267,1448.9 272,1446.8 277,1444.6 282,1442.2 287,1439.7 292,1437.0 297,1434.1 302,1431.0 307,1427.8 312,1424.4 317,1420.9 322,1417.2 327,1413.3 332,1409.2 337,1405.0 342,1400.6 347,1396.1 352,1391.4 357,1386.7 362,1381.8 367,1376.8 372,1371.7 377,1366.5 382,1361.3 387,1356.1 392,1350.8 397,1345.5 402,1340.3 407,1335.1 412,1330.0 417,1324.9 422,1320.0 427,1315.2 432,1310.6 437,1306.1 442,1301.9 447,1297.9 452,1294.1 457,1290.7 462,1287.5 467,1284.6 472,1282.0 477,1279.8 482,1277.9 487,1276.4 492,1275.2 497,1274.4 502,1274.1 507,1274.0 512,1274.4 517,1275.2 522,1276.3 527,1277.8 532,1279.7 537,1281.9 542,1284.5 547,1287.3 552,1290.5 557,1294.0 562,1297.7 567,1301.7 572,1306.0 577,1310.4 582,1315.0 587,1319.8 592,1324.7"/><polyline points="77,1472.9 82,1472.9 87,1472.9 92,1472.8 97,1472.8 102,1472.7 107,1472.7 112,1472.6 117,1472.5 122,1472.4 127,1472.3 132,1472.2 137,1472.1 142,1471.9 147,1471.7 152,1471.5 157,1471.3 162,1471.0 167,1470.7 172,1470.4 177,1470.0 182,1469.6 187,1469.1 192,1468.6 197,1468.0 202,1467.4 207,1466.7 212,1465.9 217,1465.1 222,1464.1 227,1463.1 232,1462.0 237,1460.8 242,1459.5 247,1458.0 252,1456.5 257,1454.8 262,1453.0 267,1451.0 272,1448.9 277,1446.7 282,1444.3 287,1441.7 292,1439.0 297,1436.1 302,1433.1 307,1429.8 312,1426.5 317,1422.9 322,1419.2 327,1415.3 332,1411.2 337,1407.0 342,1402.7 347,1398.2 352,1393.6 357,1388.8 362,1383.9 367,1379.0 372,1373.9 377,1368.8 382,1363.6 387,1358.4 392,1353.1 397,1347.9 402,1342.7 407,1337.5 412,1332.4 417,1327.4 422,1322.5 427,1317.7 432,1313.1 437,1308.7 442,1304.4 447,1300.4 452,1296.6 457,1293.1 462,1289.9 467,1286.9 472,1284.3 477,1282.0 482,1280.1 487,1278.5 492,1277.3 497,1276.4 502,1275.9 507,1275.8 512,1276.1 517,1276.7 522,1277.7 527,1279.1 532,1280.9 537,1283.0 542,1285.4 547,1288.2 552,1291.2 557,1294.6 562,1298.2 567,1302.1 572,1306.2 577,1310.5 582,1315.1 587,1319.8 592,1324.6"/><polyline points="77,1475.5 82,1475.4 87,1475.4 92,1475.3 97,1475.3 102,1475.2 107,1475.2 112,1475.1 117,1475.0 122,1474.9 127,1474.8 132,1474.7 137,1474.5 142,1474.3 147,1474.1 152,1473.9 157,1473.7 162,1473.4 167,1473.1 172,1472.8 177,1472.4 182,1471.9 187,1471.5 192,1470.9 197,1470.3 202,1469.7 207,1469.0 212,1468.2 217,1467.3 222,1466.4 227,1465.3 232,1464.2 237,1463.0 242,1461.6 247,1460.2 252,1458.6 257,1456.9 262,1455.0 267,1453.1 272,1451.0 277,1448.7 282,1446.3 287,1443.7 292,1441.0 297,1438.1 302,1435.1 307,1431.9 312,1428.5 317,1424.9 322,1421.2 327,1417.3 332,1413.3 337,1409.1 342,1404.8 347,1400.3 352,1395.7 357,1391.0 362,1386.1 367,1381.2 372,1376.1 377,1371.1 382,1365.9 387,1360.7 392,1355.5 397,1350.3 402,1345.1 407,1340.0 412,1334.9 417,1329.9 422,1325.0 427,1320.2 432,1315.6 437,1311.2 442,1306.9 447,1302.9 452,1299.1 457,1295.5 462,1292.3 467,1289.3 472,1286.6 477,1284.3 482,1282.3 487,1280.6 492,1279.3 497,1278.4 502,1277.8 507,1277.6 512,1277.8 517,1278.3 522,1279.2 527,1280.5 532,1282.1 537,1284.1 542,1286.4 547,1289.0 552,1292.0 557,1295.2 562,1298.7 567,1302.5 572,1306.5 577,1310.7 582,1315.2 587,1319.8 592,1324.5"/><polyline points="77,1478.0 82,1477.9 87,1477.9 92,1477.8 97,1477.8 102,1477.7 107,1477.6 112,1477.6 117,1477.5 122,1477.4 127,1477.2 132,1477.1 137,1477.0 142,1476.8 147,1476.6 152,1476.3 157,1476.1 162,1475.8 167,1475.5 172,1475.1 177,1474.7 182,1474.3 187,1473.8 192,1473.3 197,1472.7 202,1472.0 207,1471.3 212,1470.5 217,1469.6 222,1468.6 227,1467.5 232,1466.4 237,1465.1 242,1463.8 247,1462.3 252,1460.7 257,1459.0 262,1457.1 267,1455.2 272,1453.0 277,1450.8 282,1448.3 287,1445.8 292,1443.0 297,1440.1 302,1437.1 307,1433.9 312,1430.5 317,1426.9 322,1423.2 327,1419.4 332,1415.4 337,1411.2 342,1406.9 347,1402.4 352,1397.8 357,1393.1 362,1388.3 367,1383.4 372,1378.4 377,1373.3 382,1368.2 387,1363.0 392,1357.9 397,1352.7 402,1347.5 407,1342.4 412,1337.3 417,1332.4 422,1327.5 427,1322.7 432,1318.1 437,1313.7 442,1309.4 447,1305.4 452,1301.6 457,1298.0 462,1294.7 467,1291.7 472,1289.0 477,1286.6 482,1284.5 487,1282.8 492,1281.4 497,1280.4 502,1279.7 507,1279.4 512,1279.5 517,1279.9 522,1280.7 527,1281.9 532,1283.4 537,1285.3 542,1287.4 547,1290.0 552,1292.8 557,1295.9 562,1299.3 567,1303.0 572,1306.9 577,1311.0 582,1315.3 587,1319.8 592,1324.5"/><polyline points="77,1480.5 82,1480.4 87,1480.4 92,1480.3 97,1480.3 102,1480.2 107,1480.1 112,1480.0 117,1479.9 122,1479.8 127,1479.7 132,1479.6 137,1479.4 142,1479.2 147,1479.0 152,1478.8 157,1478.5 162,1478.2 167,1477.9 172,1477.5 177,1477.1 182,1476.6 187,1476.1 192,1475.6 197,1475.0 202,1474.3 207,1473.5 212,1472.7 217,1471.8 222,1470.8 227,1469.7 232,1468.6 237,1467.3 242,1465.9 247,1464.4 252,1462.8 257,1461.1 262,1459.2 267,1457.2 272,1455.1 277,1452.8 282,1450.4 287,1447.8 292,1445.1 297,1442.2 302,1439.1 307,1435.9 312,1432.5 317,1429.0 322,1425.3 327,1421.4 332,1417.4 337,1413.2 342,1408.9 347,1404.5 352,1399.9 357,1395.3 362,1390.5 367,1385.6 372,1380.6 377,1375.6 382,1370.5 387,1365.4 392,1360.2 397,1355.1 402,1349.9 407,1344.8 412,1339.8 417,1334.8 422,1330.0 427,1325.2 432,1320.6 437,1316.2 442,1311.9 447,1307.9 452,1304.0 457,1300.4 462,1297.1 467,1294.1 472,1291.3 477,1288.9 482,1286.7 487,1285.0 492,1283.5 497,1282.4 502,1281.6 507,1281.3 512,1281.2 517,1281.6 522,1282.3 527,1283.3 532,1284.7 537,1286.5 542,1288.5 547,1290.9 552,1293.6 557,1296.6 562,1299.9 567,1303.5 572,1307.3 577,1311.3 582,1315.5 587,1319.9 592,1324.5"/><polyline points="77,1483.0 82,1482.9 87,1482.9 92,1482.8 97,1482.8 102,1482.7 107,1482.6 112,1482.5 117,1482.4 122,1482.3 127,1482.2 132,1482.0 137,1481.8 142,1481.6 147,1481.4 152,1481.2 157,1480.9 162,1480.6 167,1480.3 172,1479.9 177,1479.5 182,1479.0 187,1478.5 192,1477.9 197,1477.3 202,1476.6 207,1475.8 212,1475.0 217,1474.0 222,1473.0 227,1471.9 232,1470.8 237,1469.5 242,1468.1 247,1466.6 252,1464.9 257,1463.2 262,1461.3 267,1459.3 272,1457.2 277,1454.9 282,1452.4 287,1449.8 292,1447.1 297,1444.2 302,1441.1 307,1437.9 312,1434.5 317,1431.0 322,1427.3 327,1423.5 332,1419.5 337,1415.3 342,1411.0 347,1406.6 352,1402.1 357,1397.4 362,1392.7 367,1387.8 372,1382.8 377,1377.8 382,1372.8 387,1367.7 392,1362.6 397,1357.4 402,1352.3 407,1347.2 412,1342.2 417,1337.3 422,1332.4 427,1327.7 432,1323.1 437,1318.7 442,1314.4 447,1310.4 452,1306.5 457,1302.9 462,1299.5 467,1296.5 472,1293.7 477,1291.2 482,1289.0 487,1287.1 492,1285.6 497,1284.4 502,1283.6 507,1283.1 512,1283.0 517,1283.2 522,1283.8 527,1284.8 532,1286.1 537,1287.7 542,1289.7 547,1291.9 552,1294.5 557,1297.4 562,1300.6 567,1304.0 572,1307.7 577,1311.6 582,1315.8 587,1320.1 592,1324.6"/><polyline points="77,1485.5 82,1485.4 87,1485.4 92,1485.3 97,1485.2 102,1485.2 107,1485.1 112,1485.0 117,1484.9 122,1484.8 127,1484.6 132,1484.5 137,1484.3 142,1484.1 147,1483.9 152,1483.6 157,1483.3 162,1483.0 167,1482.6 172,1482.3 177,1481.8 182,1481.3 187,1480.8 192,1480.2 197,1479.6 202,1478.9 207,1478.1 212,1477.2 217,1476.3 222,1475.3 227,1474.1 232,1472.9 237,1471.6 242,1470.2 247,1468.7 252,1467.1 257,1465.3 262,1463.4 267,1461.4 272,1459.2 277,1456.9 282,1454.5 287,1451.9 292,1449.1 297,1446.2 302,1443.1 307,1439.9 312,1436.6 317,1433.0 322,1429.3 327,1425.5 332,1421.5 337,1417.4 342,1413.1 347,1408.7 352,1404.2 357,1399.6 362,1394.8 367,1390.0 372,1385.1 377,1380.1 382,1375.1 387,1370.0 392,1364.9 397,1359.8 402,1354.7 407,1349.7 412,1344.7 417,1339.7 422,1334.9 427,1330.2 432,1325.6 437,1321.2 442,1316.9 447,1312.8 452,1309.0 457,1305.4 462,1302.0 467,1298.9 472,1296.0 477,1293.5 482,1291.2 487,1289.3 492,1287.7 497,1286.5 502,1285.6 507,1285.0 512,1284.8 517,1284.9 522,1285.4 527,1286.3 532,1287.5 537,1289.0 542,1290.8 547,1293.0 552,1295.5 557,1298.2 562,1301.3 567,1304.6 572,1308.2 577,1312.0 582,1316.0 587,1320.3 592,1324.7"/><polyline points="77,1488.0 82,1487.9 87,1487.9 92,1487.8 97,1487.7 102,1487.7 107,1487.6 112,1487.5 117,1487.3 122,1487.2 127,1487.1 132,1486.9 137,1486.7 142,1486.5 147,1486.3 152,1486.0 157,1485.7 162,1485.4 167,1485.0 172,1484.6 177,1484.2 182,1483.7 187,1483.1 192,1482.5 197,1481.9 202,1481.1 207,1480.3 212,1479.5 217,1478.5 222,1477.5 227,1476.3 232,1475.1 237,1473.8 242,1472.4 247,1470.8 252,1469.2 257,1467.4 262,1465.5 267,1463.4 272,1461.3 277,1459.0 282,1456.5 287,1453.9 292,1451.1 297,1448.2 302,1445.2 307,1442.0 312,1438.6 317,1435.1 322,1431.4 327,1427.6 332,1423.6 337,1419.5 342,1415.2 347,1410.8 352,1406.3 357,1401.7 362,1397.0 367,1392.2 372,1387.3 377,1382.4 382,1377.3 387,1372.3 392,1367.2 397,1362.2 402,1357.1 407,1352.1 412,1347.1 417,1342.2 422,1337.4 427,1332.7 432,1328.1 437,1323.7 442,1319.4 447,1315.3 452,1311.5 457,1307.8 462,1304.4 467,1301.3 472,1298.4 477,1295.8 482,1293.5 487,1291.5 492,1289.9 497,1288.6 502,1287.6 507,1286.9 512,1286.6 517,1286.7 522,1287.1 527,1287.8 532,1288.9 537,1290.3 542,1292.0 547,1294.1 552,1296.5 557,1299.1 562,1302.1 567,1305.3 572,1308.7 577,1312.5 582,1316.4 587,1320.5 592,1324.8"/><polyline points="77,1490.5 82,1490.4 87,1490.3 92,1490.3 97,1490.2 102,1490.1 107,1490.0 112,1489.9 117,1489.8 122,1489.7 127,1489.5 132,1489.3 137,1489.2 142,1488.9 147,1488.7 152,1488.4 157,1488.1 162,1487.8 167,1487.4 172,1487.0 177,1486.5 182,1486.0 187,1485.4 192,1484.8 197,1484.2 202,1483.4 207,1482.6 212,1481.7 217,1480.7 222,1479.7 227,1478.5 232,1477.3 237,1476.0 242,1474.5 247,1473.0 252,1471.3 257,1469.5 262,1467.6 267,1465.5 272,1463.3 277,1461.0 282,1458.5 287,1455.9 292,1453.2 297,1450.3 302,1447.2 307,1444.0 312,1440.6 317,1437.1 322,1433.4 327,1429.6 332,1425.7 337,1421.6 342,1417.3 347,1413.0 352,1408.5 357,1403.9 362,1399.2 367,1394.4 372,1389.5 377,1384.6 382,1379.6 387,1374.6 392,1369.6 397,1364.5 402,1359.5 407,1354.5 412,1349.5 417,1344.7 422,1339.8 427,1335.2 432,1330.6 437,1326.2 442,1321.9 447,1317.8 452,1313.9 457,1310.3 462,1306.8 467,1303.7 472,1300.7 477,1298.1 482,1295.8 487,1293.8 492,1292.0 497,1290.6 502,1289.6 507,1288.9 512,1288.5 517,1288.4 522,1288.7 527,1289.4 532,1290.3 537,1291.6 542,1293.3 547,1295.2 552,1297.5 557,1300.0 562,1302.9 567,1306.0 572,1309.3 577,1312.9 582,1316.8 587,1320.8 592,1325.0"/><polyline points="77,1492.9 82,1492.9 87,1492.8 92,1492.8 97,1492.7 102,1492.6 107,1492.5 112,1492.4 117,1492.3 122,1492.1 127,1492.0 132,1491.8 137,1491.6 142,1491.4 147,1491.1 152,1490.8 157,1490.5 162,1490.2 167,1489.8 172,1489.3 177,1488.9 182,1488.3 187,1487.8 192,1487.1 197,1486.4 202,1485.7 207,1484.8 212,1483.9 217,1483.0 222,1481.9 227,1480.7 232,1479.5 237,1478.1 242,1476.7 247,1475.1 252,1473.4 257,1471.6 262,1469.7 267,1467.6 272,1465.4 277,1463.1 282,1460.6 287,1458.0 292,1455.2 297,1452.3 302,1449.2 307,1446.0 312,1442.6 317,1439.1 322,1435.5 327,1431.7 332,1427.7 337,1423.6 342,1419.4 347,1415.1 352,1410.6 357,1406.0 362,1401.4 367,1396.6 372,1391.8 377,1386.9 382,1381.9 387,1376.9 392,1371.9 397,1366.9 402,1361.9 407,1356.9 412,1352.0 417,1347.1 422,1342.3 427,1337.6 432,1333.1 437,1328.6 442,1324.4 447,1320.3 452,1316.4 457,1312.7 462,1309.3 467,1306.1 472,1303.1 477,1300.4 482,1298.1 487,1296.0 492,1294.2 497,1292.7 502,1291.6 507,1290.8 512,1290.3 517,1290.2 522,1290.4 527,1290.9 532,1291.8 537,1293.0 542,1294.5 547,1296.4 552,1298.5 557,1301.0 562,1303.7 567,1306.7 572,1310.0 577,1313.5 582,1317.2 587,1321.1 592,1325.3"/><polyline points="77,1495.4 82,1495.4 87,1495.3 92,1495.3 97,1495.2 102,1495.1 107,1495.0 112,1494.9 117,1494.7 122,1494.6 127,1494.4 132,1494.2 137,1494.0 142,1493.8 147,1493.5 152,1493.2 157,1492.9 162,1492.5 167,1492.1 172,1491.7 177,1491.2 182,1490.7 187,1490.1 192,1489.4 197,1488.7 202,1487.9 207,1487.1 212,1486.2 217,1485.2 222,1484.1 227,1482.9 232,1481.6 237,1480.3 242,1478.8 247,1477.2 252,1475.5 257,1473.7 262,1471.7 267,1469.7 272,1467.5 277,1465.1 282,1462.6 287,1460.0 292,1457.2 297,1454.3 302,1451.3 307,1448.0 312,1444.7 317,1441.2 322,1437.5 327,1433.7 332,1429.8 337,1425.7 342,1421.5 347,1417.2 352,1412.7 357,1408.2 362,1403.5 367,1398.8 372,1394.0 377,1389.1 382,1384.2 387,1379.2 392,1374.2 397,1369.2 402,1364.3 407,1359.3 412,1354.4 417,1349.5 422,1344.8 427,1340.1 432,1335.5 437,1331.1 442,1326.9 447,1322.8 452,1318.9 457,1315.2 462,1311.7 467,1308.5 472,1305.5 477,1302.8 482,1300.4 487,1298.2 492,1296.4 497,1294.9 502,1293.7 507,1292.8 512,1292.2 517,1292.0 522,1292.1 527,1292.6 532,1293.3 537,1294.4 542,1295.9 547,1297.6 552,1299.6 557,1302.0 562,1304.6 567,1307.5 572,1310.6 577,1314.0 582,1317.7 587,1321.5 592,1325.5"/><polyline points="77,1497.9 82,1497.9 87,1497.8 92,1497.7 97,1497.6 102,1497.6 107,1497.4 112,1497.3 117,1497.2 122,1497.0 127,1496.9 132,1496.7 137,1496.4 142,1496.2 147,1495.9 152,1495.6 157,1495.3 162,1494.9 167,1494.5 172,1494.0 177,1493.5 182,1493.0 187,1492.4 192,1491.7 197,1491.0 202,1490.2 207,1489.4 212,1488.4 217,1487.4 222,1486.3 227,1485.1 232,1483.8 237,1482.4 242,1480.9 247,1479.3 252,1477.6 257,1475.8 262,1473.8 267,1471.7 272,1469.5 277,1467.2 282,1464.7 287,1462.0 292,1459.3 297,1456.4 302,1453.3 307,1450.1 312,1446.7 317,1443.2 322,1439.6 327,1435.8 332,1431.9 337,1427.8 342,1423.6 347,1419.3 352,1414.9 357,1410.4 362,1405.7 367,1401.0 372,1396.2 377,1391.4 382,1386.5 387,1381.5 392,1376.6 397,1371.6 402,1366.6 407,1361.7 412,1356.8 417,1352.0 422,1347.2 427,1342.6 432,1338.0 437,1333.6 442,1329.3 447,1325.2 452,1321.3 457,1317.6 462,1314.1 467,1310.9 472,1307.9 477,1305.1 482,1302.6 487,1300.5 492,1298.6 497,1297.0 502,1295.7 507,1294.8 512,1294.1 517,1293.8 522,1293.9 527,1294.2 532,1294.9 537,1295.9 542,1297.2 547,1298.8 552,1300.8 557,1303.0 562,1305.5 567,1308.3 572,1311.4 577,1314.7 582,1318.2 587,1321.9 592,1325.9"/><polyline points="77,1500.4 82,1500.4 87,1500.3 92,1500.2 97,1500.1 102,1500.0 107,1499.9 112,1499.8 117,1499.6 122,1499.5 127,1499.3 132,1499.1 137,1498.9 142,1498.6 147,1498.3 152,1498.0 157,1497.7 162,1497.3 167,1496.9 172,1496.4 177,1495.9 182,1495.3 187,1494.7 192,1494.0 197,1493.3 202,1492.5 207,1491.6 212,1490.6 217,1489.6 222,1488.5 227,1487.3 232,1486.0 237,1484.6 242,1483.1 247,1481.5 252,1479.7 257,1477.9 262,1475.9 267,1473.8 272,1471.6 277,1469.2 282,1466.7 287,1464.1 292,1461.3 297,1458.4 302,1455.3 307,1452.1 312,1448.8 317,1445.3 322,1441.6 327,1437.8 332,1433.9 337,1429.9 342,1425.7 347,1421.4 352,1417.0 357,1412.5 362,1407.9 367,1403.2 372,1398.5 377,1393.6 382,1388.8 387,1383.8 392,1378.9 397,1374.0 402,1369.0 407,1364.1 412,1359.2 417,1354.4 422,1349.7 427,1345.0 432,1340.5 437,1336.1 442,1331.8 447,1327.7 452,1323.8 457,1320.1 462,1316.6 467,1313.3 472,1310.3 477,1307.5 482,1305.0 487,1302.7 492,1300.8 497,1299.1 502,1297.8 507,1296.8 512,1296.1 517,1295.7 522,1295.6 527,1295.9 532,1296.5 537,1297.4 542,1298.6 547,1300.1 552,1302.0 557,1304.1 562,1306.5 567,1309.2 572,1312.1 577,1315.3 582,1318.7 587,1322.4 592,1326.2"/><polyline points="77,1502.9 82,1502.9 87,1502.8 92,1502.7 97,1502.6 102,1502.5 107,1502.4 112,1502.2 117,1502.1 122,1501.9 127,1501.7 132,1501.5 137,1501.3 142,1501.0 147,1500.7 152,1500.4 157,1500.0 162,1499.7 167,1499.2 172,1498.7 177,1498.2 182,1497.6 187,1497.0 192,1496.3 197,1495.6 202,1494.7 207,1493.8 212,1492.9 217,1491.8 222,1490.7 227,1489.5 232,1488.2 237,1486.7 242,1485.2 247,1483.6 252,1481.8 257,1480.0 262,1478.0 267,1475.9 272,1473.6 277,1471.3 282,1468.8 287,1466.1 292,1463.3 297,1460.4 302,1457.4 307,1454.1 312,1450.8 317,1447.3 322,1443.7 327,1439.9 332,1436.0 337,1432.0 342,1427.8 347,1423.5 352,1419.2 357,1414.7 362,1410.1 367,1405.4 372,1400.7 377,1395.9 382,1391.0 387,1386.1 392,1381.2 397,1376.3 402,1371.4 407,1366.5 412,1361.7 417,1356.9 422,1352.1 427,1347.5 432,1343.0 437,1338.6 442,1334.3 447,1330.2 452,1326.3 457,1322.5 462,1319.0 467,1315.7 472,1312.6 477,1309.8 482,1307.3 487,1305.0 492,1303.0 497,1301.3 502,1299.9 507,1298.8 512,1298.0 517,1297.5 522,1297.4 527,1297.6 532,1298.1 537,1298.9 542,1300.0 547,1301.4 552,1303.2 557,1305.2 562,1307.5 567,1310.1 572,1312.9 577,1316.0 582,1319.3 587,1322.9 592,1326.6"/><polyline points="77,1505.4 82,1505.3 87,1505.3 92,1505.2 97,1505.1 102,1505.0 107,1504.8 112,1504.7 117,1504.5 122,1504.4 127,1504.2 132,1503.9 137,1503.7 142,1503.4 147,1503.1 152,1502.8 157,1502.4 162,1502.0 167,1501.6 172,1501.1 177,1500.5 182,1499.9 187,1499.3 192,1498.6 197,1497.8 202,1497.0 207,1496.1 212,1495.1 217,1494.0 222,1492.9 227,1491.7 232,1490.3 237,1488.9 242,1487.3 247,1485.7 252,1483.9 257,1482.1 262,1480.1 267,1478.0 272,1475.7 277,1473.3 282,1470.8 287,1468.2 292,1465.4 297,1462.5 302,1459.4 307,1456.2 312,1452.8 317,1449.3 322,1445.7 327,1442.0 332,1438.1 337,1434.1 342,1429.9 347,1425.7 352,1421.3 357,1416.8 362,1412.3 367,1407.6 372,1402.9 377,1398.1 382,1393.3 387,1388.4 392,1383.6 397,1378.7 402,1373.8 407,1368.9 412,1364.1 417,1359.3 422,1354.6 427,1350.0 432,1345.4 437,1341.0 442,1336.8 447,1332.7 452,1328.7 457,1325.0 462,1321.4 467,1318.1 472,1315.0 477,1312.2 482,1309.6 487,1307.3 492,1305.2 497,1303.4 502,1302.0 507,1300.8 512,1300.0 517,1299.4 522,1299.2 527,1299.3 532,1299.7 537,1300.4 542,1301.4 547,1302.8 552,1304.4 557,1306.3 562,1308.5 567,1311.0 572,1313.8 577,1316.8 582,1320.0 587,1323.4 592,1327.1"/><polyline points="77,1507.9 82,1507.8 87,1507.7 92,1507.6 97,1507.5 102,1507.4 107,1507.3 112,1507.1 117,1507.0 122,1506.8 127,1506.6 132,1506.4 137,1506.1 142,1505.8 147,1505.5 152,1505.2 157,1504.8 162,1504.4 167,1503.9 172,1503.4 177,1502.9 182,1502.3 187,1501.6 192,1500.9 197,1500.1 202,1499.2 207,1498.3 212,1497.3 217,1496.2 222,1495.1 227,1493.8 232,1492.5 237,1491.0 242,1489.5 247,1487.8 252,1486.1 257,1484.2 262,1482.2 267,1480.0 272,1477.8 277,1475.4 282,1472.9 287,1470.2 292,1467.4 297,1464.5 302,1461.4 307,1458.2 312,1454.9 317,1451.4 322,1447.8 327,1444.0 332,1440.1 337,1436.1 342,1432.0 347,1427.8 352,1423.4 357,1419.0 362,1414.4 367,1409.8 372,1405.1 377,1400.4 382,1395.6 387,1390.7 392,1385.9 397,1381.0 402,1376.1 407,1371.3 412,1366.5 417,1361.7 422,1357.0 427,1352.4 432,1347.9 437,1343.5 442,1339.2 447,1335.1 452,1331.2 457,1327.4 462,1323.9 467,1320.5 472,1317.4 477,1314.5 482,1311.9 487,1309.5 492,1307.4 497,1305.6 502,1304.1 507,1302.9 512,1302.0 517,1301.3 522,1301.0 527,1301.0 532,1301.4 537,1302.0 542,1302.9 547,1304.2 552,1305.7 557,1307.5 562,1309.6 567,1312.0 572,1314.6 577,1317.5 582,1320.7 587,1324.0 592,1327.6"/><polyline points="77,1510.4 82,1510.3 87,1510.2 92,1510.1 97,1510.0 102,1509.9 107,1509.7 112,1509.6 117,1509.4 122,1509.2 127,1509.0 132,1508.8 137,1508.5 142,1508.2 147,1507.9 152,1507.6 157,1507.2 162,1506.7 167,1506.3 172,1505.8 177,1505.2 182,1504.6 187,1503.9 192,1503.2 197,1502.4 202,1501.5 207,1500.6 212,1499.5 217,1498.5 222,1497.3 227,1496.0 232,1494.6 237,1493.2 242,1491.6 247,1489.9 252,1488.2 257,1486.3 262,1484.2 267,1482.1 272,1479.8 277,1477.4 282,1474.9 287,1472.3 292,1469.5 297,1466.5 302,1463.5 307,1460.3 312,1456.9 317,1453.4 322,1449.8 327,1446.1 332,1442.2 337,1438.2 342,1434.1 347,1429.9 352,1425.6 357,1421.1 362,1416.6 367,1412.0 372,1407.4 377,1402.6 382,1397.8 387,1393.0 392,1388.2 397,1383.3 402,1378.5 407,1373.7 412,1368.9 417,1364.1 422,1359.5 427,1354.9 432,1350.4 437,1346.0 442,1341.7 447,1337.6 452,1333.7 457,1329.9 462,1326.3 467,1323.0 472,1319.8 477,1316.9 482,1314.2 487,1311.8 492,1309.7 497,1307.8 502,1306.2 507,1304.9 512,1304.0 517,1303.3 522,1302.9 527,1302.8 532,1303.0 537,1303.6 542,1304.4 547,1305.6 552,1307.0 557,1308.7 562,1310.7 567,1313.0 572,1315.6 577,1318.4 582,1321.4 587,1324.7 592,1328.1"/><polyline points="77,1512.9 82,1512.8 87,1512.7 92,1512.6 97,1512.5 102,1512.3 107,1512.2 112,1512.0 117,1511.9 122,1511.7 127,1511.4 132,1511.2 137,1510.9 142,1510.6 147,1510.3 152,1509.9 157,1509.5 162,1509.1 167,1508.6 172,1508.1 177,1507.5 182,1506.9 187,1506.2 192,1505.4 197,1504.6 202,1503.7 207,1502.8 212,1501.8 217,1500.7 222,1499.5 227,1498.2 232,1496.8 237,1495.3 242,1493.7 247,1492.1 252,1490.3 257,1488.4 262,1486.3 267,1484.2 272,1481.9 277,1479.5 282,1477.0 287,1474.3 292,1471.5 297,1468.6 302,1465.5 307,1462.3 312,1459.0 317,1455.5 322,1451.9 327,1448.2 332,1444.3 337,1440.3 342,1436.2 347,1432.0 352,1427.7 357,1423.3 362,1418.8 367,1414.2 372,1409.6 377,1404.9 382,1400.1 387,1395.3 392,1390.5 397,1385.7 402,1380.9 407,1376.1 412,1371.3 417,1366.6 422,1361.9 427,1357.3 432,1352.8 437,1348.4 442,1344.2 447,1340.1 452,1336.1 457,1332.3 462,1328.8 467,1325.4 472,1322.2 477,1319.3 482,1316.6 487,1314.1 492,1311.9 497,1310.0 502,1308.4 507,1307.0 512,1306.0 517,1305.2 522,1304.8 527,1304.6 532,1304.7 537,1305.2 542,1306.0 547,1307.0 552,1308.3 557,1310.0 562,1311.9 567,1314.1 572,1316.5 577,1319.2 582,1322.2 587,1325.3 592,1328.7"/><polyline points="77,1515.3 82,1515.3 87,1515.2 92,1515.1 97,1514.9 102,1514.8 107,1514.7 112,1514.5 117,1514.3 122,1514.1 127,1513.9 132,1513.6 137,1513.3 142,1513.0 147,1512.7 152,1512.3 157,1511.9 162,1511.4 167,1511.0 172,1510.4 177,1509.8 182,1509.2 187,1508.5 192,1507.7 197,1506.9 202,1506.0 207,1505.0 212,1504.0 217,1502.9 222,1501.6 227,1500.3 232,1499.0 237,1497.5 242,1495.9 247,1494.2 252,1492.4 257,1490.4 262,1488.4 267,1486.2 272,1484.0 277,1481.6 282,1479.0 287,1476.3 292,1473.5 297,1470.6 302,1467.5 307,1464.3 312,1461.0 317,1457.5 322,1454.0 327,1450.2 332,1446.4 337,1442.4 342,1438.3 347,1434.1 352,1429.9 357,1425.5 362,1421.0 367,1416.4 372,1411.8 377,1407.1 382,1402.4 387,1397.6 392,1392.8 397,1388.0 402,1383.2 407,1378.4 412,1373.7 417,1369.0 422,1364.3 427,1359.7 432,1355.3 437,1350.9 442,1346.6 447,1342.5 452,1338.6 457,1334.8 462,1331.2 467,1327.8 472,1324.6 477,1321.6 482,1318.9 487,1316.4 492,1314.2 497,1312.2 502,1310.5 507,1309.1 512,1308.0 517,1307.2 522,1306.6 527,1306.4 532,1306.5 537,1306.8 542,1307.5 547,1308.5 552,1309.7 557,1311.3 562,1313.1 567,1315.2 572,1317.5 577,1320.1 582,1323.0 587,1326.0 592,1329.3"/><polyline points="77,1517.8 82,1517.7 87,1517.6 92,1517.5 97,1517.4 102,1517.3 107,1517.1 112,1516.9 117,1516.7 122,1516.5 127,1516.3 132,1516.0 137,1515.7 142,1515.4 147,1515.1 152,1514.7 157,1514.3 162,1513.8 167,1513.3 172,1512.7 177,1512.1 182,1511.5 187,1510.8 192,1510.0 197,1509.1 202,1508.2 207,1507.3 212,1506.2 217,1505.1 222,1503.8 227,1502.5 232,1501.1 237,1499.6 242,1498.0 247,1496.3 252,1494.5 257,1492.5 262,1490.5 267,1488.3 272,1486.0 277,1483.6 282,1481.1 287,1478.4 292,1475.6 297,1472.7 302,1469.6 307,1466.4 312,1463.1 317,1459.6 322,1456.0 327,1452.3 332,1448.5 337,1444.5 342,1440.4 347,1436.3 352,1432.0 357,1427.6 362,1423.2 367,1418.6 372,1414.0 377,1409.4 382,1404.7 387,1399.9 392,1395.1 397,1390.4 402,1385.6 407,1380.8 412,1376.1 417,1371.4 422,1366.7 427,1362.2 432,1357.7 437,1353.4 442,1349.1 447,1345.0 452,1341.0 457,1337.2 462,1333.6 467,1330.2 472,1327.0 477,1324.0 482,1321.2 487,1318.7 492,1316.4 497,1314.4 502,1312.7 507,1311.2 512,1310.0 517,1309.1 522,1308.5 527,1308.2 532,1308.2 537,1308.5 542,1309.1 547,1310.0 552,1311.1 557,1312.6 562,1314.3 567,1316.3 572,1318.5 577,1321.0 582,1323.8 587,1326.8 592,1330.0"/><polyline points="77,1520.3 82,1520.2 87,1520.1 92,1520.0 97,1519.9 102,1519.7 107,1519.5 112,1519.4 117,1519.2 122,1518.9 127,1518.7 132,1518.4 137,1518.1 142,1517.8 147,1517.4 152,1517.1 157,1516.6 162,1516.1 167,1515.6 172,1515.1 177,1514.4 182,1513.8 187,1513.0 192,1512.3 197,1511.4 202,1510.5 207,1509.5 212,1508.4 217,1507.3 222,1506.0 227,1504.7 232,1503.3 237,1501.8 242,1500.1 247,1498.4 252,1496.6 257,1494.6 262,1492.6 267,1490.4 272,1488.1 277,1485.7 282,1483.1 287,1480.4 292,1477.6 297,1474.7 302,1471.6 307,1468.4 312,1465.1 317,1461.7 322,1458.1 327,1454.4 332,1450.6 337,1446.6 342,1442.6 347,1438.4 352,1434.1 357,1429.8 362,1425.4 367,1420.8 372,1416.3 377,1411.6 382,1406.9 387,1402.2 392,1397.4 397,1392.7 402,1387.9 407,1383.2 412,1378.5 417,1373.8 422,1369.2 427,1364.6 432,1360.2 437,1355.8 442,1351.6 447,1347.5 452,1343.5 457,1339.7 462,1336.1 467,1332.6 472,1329.4 477,1326.4 482,1323.6 487,1321.0 492,1318.7 497,1316.6 502,1314.9 507,1313.3 512,1312.1 517,1311.1 522,1310.5 527,1310.1 532,1310.0 537,1310.2 542,1310.7 547,1311.5 552,1312.6 557,1313.9 562,1315.5 567,1317.4 572,1319.6 577,1322.0 582,1324.7 587,1327.6 592,1330.7"/><polyline points="77,1522.8 82,1522.7 87,1522.6 92,1522.4 97,1522.3 102,1522.2 107,1522.0 112,1521.8 117,1521.6 122,1521.4 127,1521.1 132,1520.8 137,1520.5 142,1520.2 147,1519.8 152,1519.4 157,1519.0 162,1518.5 167,1518.0 172,1517.4 177,1516.7 182,1516.1 187,1515.3 192,1514.5 197,1513.7 202,1512.7 207,1511.7 212,1510.6 217,1509.5 222,1508.2 227,1506.9 232,1505.4 237,1503.9 242,1502.3 247,1500.5 252,1498.7 257,1496.7 262,1494.7 267,1492.5 272,1490.2 277,1487.7 282,1485.2 287,1482.5 292,1479.7 297,1476.7 302,1473.7 307,1470.5 312,1467.2 317,1463.7 322,1460.1 327,1456.5 332,1452.6 337,1448.7 342,1444.7 347,1440.5 352,1436.3 357,1431.9 362,1427.5 367,1423.0 372,1418.5 377,1413.9 382,1409.2 387,1404.5 392,1399.8 397,1395.0 402,1390.3 407,1385.6 412,1380.9 417,1376.2 422,1371.6 427,1367.1 432,1362.6 437,1358.3 442,1354.0 447,1349.9 452,1346.0 457,1342.1 462,1338.5 467,1335.1 472,1331.8 477,1328.8 482,1325.9 487,1323.3 492,1321.0 497,1318.9 502,1317.0 507,1315.5 512,1314.2 517,1313.2 522,1312.4 527,1312.0 532,1311.8 537,1311.9 542,1312.3 547,1313.0 552,1314.0 557,1315.3 562,1316.8 567,1318.6 572,1320.7 577,1323.0 582,1325.6 587,1328.4 592,1331.4"/><polyline points="77,1525.3 82,1525.2 87,1525.0 92,1524.9 97,1524.8 102,1524.6 107,1524.4 112,1524.2 117,1524.0 122,1523.8 127,1523.5 132,1523.2 137,1522.9 142,1522.6 147,1522.2 152,1521.8 157,1521.3 162,1520.8 167,1520.3 172,1519.7 177,1519.1 182,1518.4 187,1517.6 192,1516.8 197,1515.9 202,1515.0 207,1513.9 212,1512.8 217,1511.6 222,1510.4 227,1509.0 232,1507.6 237,1506.0 242,1504.4 247,1502.6 252,1500.8 257,1498.8 262,1496.7 267,1494.5 272,1492.2 277,1489.8 282,1487.2 287,1484.5 292,1481.7 297,1478.8 302,1475.7 307,1472.5 312,1469.2 317,1465.8 322,1462.2 327,1458.5 332,1454.7 337,1450.8 342,1446.8 347,1442.7 352,1438.4 357,1434.1 362,1429.7 367,1425.2 372,1420.7 377,1416.1 382,1411.5 387,1406.8 392,1402.1 397,1397.3 402,1392.6 407,1387.9 412,1383.2 417,1378.6 422,1374.0 427,1369.5 432,1365.1 437,1360.7 442,1356.5 447,1352.4 452,1348.4 457,1344.6 462,1340.9 467,1337.5 472,1334.2 477,1331.1 482,1328.3 487,1325.7 492,1323.3 497,1321.1 502,1319.2 507,1317.6 512,1316.3 517,1315.2 522,1314.4 527,1313.9 532,1313.6 537,1313.7 542,1314.0 547,1314.6 552,1315.5 557,1316.7 562,1318.1 567,1319.9 572,1321.8 577,1324.1 582,1326.5 587,1329.2 592,1332.2"/><polyline points="77,1527.7 82,1527.6 87,1527.5 92,1527.4 97,1527.2 102,1527.1 107,1526.9 112,1526.7 117,1526.5 122,1526.2 127,1525.9 132,1525.6 137,1525.3 142,1525.0 147,1524.6 152,1524.1 157,1523.7 162,1523.2 167,1522.6 172,1522.0 177,1521.4 182,1520.6 187,1519.9 192,1519.0 197,1518.1 202,1517.2 207,1516.1 212,1515.0 217,1513.8 222,1512.6 227,1511.2 232,1509.7 237,1508.2 242,1506.5 247,1504.7 252,1502.9 257,1500.9 262,1498.8 267,1496.6 272,1494.3 277,1491.9 282,1489.3 287,1486.6 292,1483.8 297,1480.8 302,1477.8 307,1474.6 312,1471.3 317,1467.8 322,1464.3 327,1460.6 332,1456.8 337,1452.9 342,1448.9 347,1444.8 352,1440.6 357,1436.3 362,1431.9 367,1427.4 372,1422.9 377,1418.3 382,1413.7 387,1409.1 392,1404.4 397,1399.7 402,1395.0 407,1390.3 412,1385.6 417,1381.0 422,1376.4 427,1371.9 432,1367.5 437,1363.2 442,1358.9 447,1354.8 452,1350.9 457,1347.0 462,1343.4 467,1339.9 472,1336.6 477,1333.5 482,1330.6 487,1328.0 492,1325.5 497,1323.4 502,1321.4 507,1319.8 512,1318.3 517,1317.2 522,1316.3 527,1315.8 532,1315.4 537,1315.4 542,1315.7 547,1316.2 552,1317.0 557,1318.1 562,1319.5 567,1321.1 572,1323.0 577,1325.1 582,1327.5 587,1330.1 592,1333.0"/><polyline points="77,1530.2 82,1530.1 87,1530.0 92,1529.8 97,1529.7 102,1529.5 107,1529.3 112,1529.1 117,1528.9 122,1528.6 127,1528.3 132,1528.0 137,1527.7 142,1527.3 147,1526.9 152,1526.5 157,1526.0 162,1525.5 167,1524.9 172,1524.3 177,1523.7 182,1522.9 187,1522.1 192,1521.3 197,1520.4 202,1519.4 207,1518.4 212,1517.2 217,1516.0 222,1514.7 227,1513.3 232,1511.9 237,1510.3 242,1508.6 247,1506.9 252,1505.0 257,1503.0 262,1500.9 267,1498.7 272,1496.4 277,1493.9 282,1491.3 287,1488.7 292,1485.8 297,1482.9 302,1479.8 307,1476.6 312,1473.3 317,1469.9 322,1466.4 327,1462.7 332,1458.9 337,1455.0 342,1451.0 347,1446.9 352,1442.7 357,1438.4 362,1434.1 367,1429.6 372,1425.1 377,1420.6 382,1416.0 387,1411.3 392,1406.7 397,1402.0 402,1397.3 407,1392.7 412,1388.0 417,1383.4 422,1378.8 427,1374.3 432,1369.9 437,1365.6 442,1361.4 447,1357.3 452,1353.3 457,1349.5 462,1345.8 467,1342.3 472,1339.0 477,1335.9 482,1333.0 487,1330.3 492,1327.8 497,1325.6 502,1323.6 507,1321.9 512,1320.5 517,1319.3 522,1318.3 527,1317.7 532,1317.3 537,1317.2 542,1317.4 547,1317.8 552,1318.6 557,1319.6 562,1320.9 567,1322.4 572,1324.2 577,1326.2 582,1328.5 587,1331.1 592,1333.8"/><polyline points="77,1532.7 82,1532.6 87,1532.4 92,1532.3 97,1532.1 102,1531.9 107,1531.7 112,1531.5 117,1531.3 122,1531.0 127,1530.8 132,1530.4 137,1530.1 142,1529.7 147,1529.3 152,1528.9 157,1528.4 162,1527.8 167,1527.3 172,1526.6 177,1525.9 182,1525.2 187,1524.4 192,1523.6 197,1522.6 202,1521.6 207,1520.6 212,1519.4 217,1518.2 222,1516.9 227,1515.5 232,1514.0 237,1512.4 242,1510.8 247,1509.0 252,1507.1 257,1505.1 262,1503.0 267,1500.8 272,1498.4 277,1496.0 282,1493.4 287,1490.7 292,1487.9 297,1484.9 302,1481.9 307,1478.7 312,1475.4 317,1472.0 322,1468.4 327,1464.8 332,1461.0 337,1457.1 342,1453.1 347,1449.0 352,1444.9 357,1440.6 362,1436.3 367,1431.8 372,1427.4 377,1422.8 382,1418.2 387,1413.6 392,1409.0 397,1404.3 402,1399.7 407,1395.0 412,1390.4 417,1385.8 422,1381.3 427,1376.8 432,1372.4 437,1368.0 442,1363.8 447,1359.7 452,1355.8 457,1351.9 462,1348.2 467,1344.7 472,1341.4 477,1338.3 482,1335.4 487,1332.6 492,1330.1 497,1327.9 502,1325.9 507,1324.1 512,1322.6 517,1321.3 522,1320.3 527,1319.6 532,1319.2 537,1319.0 542,1319.1 547,1319.5 552,1320.1 557,1321.1 562,1322.3 567,1323.7 572,1325.4 577,1327.4 582,1329.6 587,1332.0 592,1334.7"/><polyline points="77,1535.1 82,1535.0 87,1534.9 92,1534.7 97,1534.6 102,1534.4 107,1534.2 112,1534.0 117,1533.7 122,1533.4 127,1533.2 132,1532.8 137,1532.5 142,1532.1 147,1531.7 152,1531.2 157,1530.7 162,1530.2 167,1529.6 172,1528.9 177,1528.2 182,1527.5 187,1526.7 192,1525.8 197,1524.9 202,1523.9 207,1522.8 212,1521.6 217,1520.4 222,1519.1 227,1517.7 232,1516.2 237,1514.6 242,1512.9 247,1511.1 252,1509.2 257,1507.2 262,1505.1 267,1502.8 272,1500.5 277,1498.0 282,1495.5 287,1492.8 292,1489.9 297,1487.0 302,1483.9 307,1480.8 312,1477.5 317,1474.0 322,1470.5 327,1466.8 332,1463.1 337,1459.2 342,1455.2 347,1451.2 352,1447.0 357,1442.8 362,1438.4 367,1434.0 372,1429.6 377,1425.1 382,1420.5 387,1415.9 392,1411.3 397,1406.6 402,1402.0 407,1397.4 412,1392.8 417,1388.2 422,1383.7 427,1379.2 432,1374.8 437,1370.5 442,1366.3 447,1362.2 452,1358.2 457,1354.4 462,1350.7 467,1347.2 472,1343.8 477,1340.7 482,1337.7 487,1335.0 492,1332.4 497,1330.1 502,1328.1 507,1326.3 512,1324.7 517,1323.4 522,1322.4 527,1321.6 532,1321.1 537,1320.8 542,1320.9 547,1321.2 552,1321.7 557,1322.6 562,1323.7 567,1325.0 572,1326.7 577,1328.5 582,1330.7 587,1333.0 592,1335.6"/><polyline points="77,1537.6 82,1537.5 87,1537.3 92,1537.2 97,1537.0 102,1536.8 107,1536.6 112,1536.4 117,1536.1 122,1535.9 127,1535.6 132,1535.2 137,1534.9 142,1534.5 147,1534.0 152,1533.6 157,1533.0 162,1532.5 167,1531.9 172,1531.2 177,1530.5 182,1529.8 187,1528.9 192,1528.1 197,1527.1 202,1526.1 207,1525.0 212,1523.8 217,1522.6 222,1521.2 227,1519.8 232,1518.3 237,1516.7 242,1515.0 247,1513.2 252,1511.3 257,1509.3 262,1507.2 267,1504.9 272,1502.6 277,1500.1 282,1497.5 287,1494.8 292,1492.0 297,1489.1 302,1486.0 307,1482.8 312,1479.5 317,1476.1 322,1472.6 327,1468.9 332,1465.2 337,1461.3 342,1457.4 347,1453.3 352,1449.2 357,1444.9 362,1440.6 367,1436.2 372,1431.8 377,1427.3 382,1422.8 387,1418.2 392,1413.6 397,1409.0 402,1404.3 407,1399.7 412,1395.1 417,1390.6 422,1386.1 427,1381.6 432,1377.2 437,1372.9 442,1368.7 447,1364.6 452,1360.6 457,1356.8 462,1353.1 467,1349.6 472,1346.2 477,1343.1 482,1340.1 487,1337.3 492,1334.8 497,1332.4 502,1330.3 507,1328.5 512,1326.8 517,1325.5 522,1324.4 527,1323.5 532,1323.0 537,1322.7 542,1322.6 547,1322.8 552,1323.3 557,1324.1 562,1325.1 567,1326.4 572,1328.0 577,1329.7 582,1331.8 587,1334.0 592,1336.5"/><polyline points="77,1540.1 82,1539.9 87,1539.8 92,1539.6 97,1539.5 102,1539.3 107,1539.0 112,1538.8 117,1538.5 122,1538.3 127,1537.9 132,1537.6 137,1537.2 142,1536.8 147,1536.4 152,1535.9 157,1535.4 162,1534.8 167,1534.2 172,1533.5 177,1532.8 182,1532.0 187,1531.2 192,1530.3 197,1529.3 202,1528.3 207,1527.2 212,1526.0 217,1524.8 222,1523.4 227,1522.0 232,1520.5 237,1518.8 242,1517.1 247,1515.3 252,1513.4 257,1511.4 262,1509.2 267,1507.0 272,1504.6 277,1502.2 282,1499.6 287,1496.9 292,1494.1 297,1491.1 302,1488.1 307,1484.9 312,1481.6 317,1478.2 322,1474.6 327,1471.0 332,1467.3 337,1463.4 342,1459.5 347,1455.4 352,1451.3 357,1447.1 362,1442.8 367,1438.4 372,1434.0 377,1429.5 382,1425.0 387,1420.5 392,1415.9 397,1411.3 402,1406.7 407,1402.1 412,1397.5 417,1393.0 422,1388.5 427,1384.0 432,1379.6 437,1375.3 442,1371.1 447,1367.1 452,1363.1 457,1359.2 462,1355.5 467,1352.0 472,1348.6 477,1345.4 482,1342.4 487,1339.7 492,1337.1 497,1334.7 502,1332.6 507,1330.7 512,1329.0 517,1327.6 522,1326.4 527,1325.5 532,1324.9 537,1324.5 542,1324.4 547,1324.6 552,1325.0 557,1325.7 562,1326.6 567,1327.8 572,1329.3 577,1331.0 582,1332.9 587,1335.1 592,1337.5"/><polyline points="77,1542.5 82,1542.4 87,1542.2 92,1542.1 97,1541.9 102,1541.7 107,1541.5 112,1541.2 117,1541.0 122,1540.7 127,1540.3 132,1540.0 137,1539.6 142,1539.2 147,1538.7 152,1538.2 157,1537.7 162,1537.1 167,1536.5 172,1535.8 177,1535.1 182,1534.3 187,1533.5 192,1532.6 197,1531.6 202,1530.5 207,1529.4 212,1528.2 217,1526.9 222,1525.6 227,1524.1 232,1522.6 237,1521.0 242,1519.2 247,1517.4 252,1515.5 257,1513.5 262,1511.3 267,1509.1 272,1506.7 277,1504.2 282,1501.6 287,1498.9 292,1496.1 297,1493.2 302,1490.1 307,1486.9 312,1483.6 317,1480.2 322,1476.7 327,1473.1 332,1469.4 337,1465.5 342,1461.6 347,1457.6 352,1453.5 357,1449.3 362,1445.0 367,1440.6 372,1436.2 377,1431.8 382,1427.3 387,1422.7 392,1418.2 397,1413.6 402,1409.0 407,1404.4 412,1399.9 417,1395.3 422,1390.9 427,1386.4 432,1382.1 437,1377.8 442,1373.6 447,1369.5 452,1365.5 457,1361.7 462,1358.0 467,1354.4 472,1351.0 477,1347.8 482,1344.8 487,1342.0 492,1339.4 497,1337.0 502,1334.8 507,1332.9 512,1331.2 517,1329.7 522,1328.5 527,1327.5 532,1326.8 537,1326.4 542,1326.2 547,1326.3 552,1326.6 557,1327.2 562,1328.1 567,1329.2 572,1330.6 577,1332.2 582,1334.1 587,1336.2 592,1338.5"/><polyline points="290,1545.0 295,1539.8 300,1534.7 305,1529.5 310,1524.4 315,1519.4 320,1514.4 325,1509.5 330,1504.7 335,1500.1 340,1495.5 345,1491.1 350,1486.8 355,1482.6 360,1478.6 365,1474.8 370,1471.1 375,1467.6 380,1464.3 385,1461.1 390,1458.1 395,1455.3 400,1452.7 405,1450.2 410,1447.9 415,1445.7 420,1443.7 425,1441.8 430,1440.1 435,1438.5 440,1437.0 445,1435.7 450,1434.4 455,1433.2 460,1432.0 465,1430.9 470,1429.9 475,1428.8 480,1427.8 485,1426.8 490,1425.8 495,1424.7 500,1423.6 505,1422.4 510,1421.1 515,1419.8 520,1418.3 525,1416.8 530,1415.1 535,1413.3 540,1411.4 545,1409.3 550,1407.0 555,1404.6 560,1402.0 565,1399.3 570,1396.4 575,1393.3 580,1390.0 585,1386.6"/><polyline points="290,1546.2 295,1541.1 300,1536.0 305,1530.9 310,1525.9 315,1520.9 320,1516.1 325,1511.3 330,1506.7 335,1502.1 340,1497.7 345,1493.4 350,1489.3 355,1485.3 360,1481.5 365,1477.9 370,1474.4 375,1471.1 380,1467.9 385,1465.0 390,1462.2 395,1459.6 400,1457.1 405,1454.8 410,1452.7 415,1450.7 420,1448.9 425,1447.2 430,1445.6 435,1444.1 440,1442.8 445,1441.5 450,1440.3 455,1439.2 460,1438.2 465,1437.1 470,1436.1 475,1435.2 480,1434.2 485,1433.2 490,1432.1 495,1431.0 500,1429.9 505,1428.6 510,1427.3 515,1425.9 520,1424.4 525,1422.8 530,1421.0 535,1419.1 540,1417.0 545,1414.8 550,1412.5 555,1409.9 560,1407.2 565,1404.3 570,1401.3 575,1398.0 580,1394.6 585,1391.1"/><polyline points="290,1547.4 295,1542.3 300,1537.3 305,1532.3 310,1527.4 315,1522.6 320,1517.8 325,1513.2 330,1508.7 335,1504.3 340,1500.1 345,1496.0 350,1492.0 355,1488.2 360,1484.6 365,1481.1 370,1477.8 375,1474.7 380,1471.8 385,1469.0 390,1466.4 395,1464.0 400,1461.7 405,1459.6 410,1457.7 415,1455.8 420,1454.2 425,1452.6 430,1451.2 435,1449.9 440,1448.6 445,1447.5 450,1446.4 455,1445.3 460,1444.3 465,1443.4 470,1442.4 475,1441.5 480,1440.5 485,1439.5 490,1438.4 495,1437.3 500,1436.1 505,1434.8 510,1433.5 515,1432.0 520,1430.4 525,1428.6 530,1426.8 535,1424.7 540,1422.6 545,1420.2 550,1417.7 555,1415.1 560,1412.2 565,1409.2 570,1406.0 575,1402.6 580,1399.1 585,1395.4"/><polyline points="290,1548.7 295,1543.6 300,1538.7 305,1533.8 310,1529.0 315,1524.3 320,1519.7 325,1515.2 330,1510.8 335,1506.6 340,1502.5 345,1498.6 350,1494.8 355,1491.2 360,1487.8 365,1484.5 370,1481.4 375,1478.5 380,1475.8 385,1473.2 390,1470.8 395,1468.6 400,1466.5 405,1464.5 410,1462.8 415,1461.1 420,1459.6 425,1458.2 430,1456.9 435,1455.7 440,1454.5 445,1453.5 450,1452.5 455,1451.5 460,1450.6 465,1449.6 470,1448.7 475,1447.7 480,1446.8 485,1445.7 490,1444.7 495,1443.5 500,1442.3 505,1440.9 510,1439.5 515,1437.9 520,1436.2 525,1434.4 530,1432.4 535,1430.2 540,1427.9 545,1425.5 550,1422.8 555,1420.0 560,1417.1 565,1413.9 570,1410.6 575,1407.1 580,1403.4 585,1399.6"/><polyline points="290,1549.9 295,1545.0 300,1540.1 305,1535.4 310,1530.7 315,1526.1 320,1521.6 325,1517.3 330,1513.1 335,1509.0 340,1505.1 345,1501.4 350,1497.8 355,1494.4 360,1491.2 365,1488.1 370,1485.2 375,1482.5 380,1479.9 385,1477.5 390,1475.3 395,1473.3 400,1471.4 405,1469.6 410,1468.0 415,1466.5 420,1465.1 425,1463.8 430,1462.6 435,1461.5 440,1460.5 445,1459.5 450,1458.6 455,1457.7 460,1456.8 465,1455.9 470,1455.0 475,1454.0 480,1453.0 485,1452.0 490,1450.8 495,1449.6 500,1448.3 505,1446.9 510,1445.4 515,1443.7 520,1441.9 525,1440.0 530,1437.9 535,1435.6 540,1433.2 545,1430.6 550,1427.8 555,1424.9 560,1421.7 565,1418.4 570,1415.0 575,1411.4 580,1407.6 585,1403.6"/><polyline points="290,1551.3 295,1546.4 300,1541.7 305,1537.0 310,1532.5 315,1528.0 320,1523.7 325,1519.5 330,1515.5 335,1511.6 340,1507.9 345,1504.4 350,1501.0 355,1497.7 360,1494.7 365,1491.8 370,1489.1 375,1486.6 380,1484.2 385,1482.0 390,1480.0 395,1478.1 400,1476.4 405,1474.8 410,1473.3 415,1472.0 420,1470.7 425,1469.5 430,1468.5 435,1467.5 440,1466.5 445,1465.6 450,1464.7 455,1463.9 460,1463.0 465,1462.1 470,1461.2 475,1460.2 480,1459.2 485,1458.1 490,1456.9 495,1455.7 500,1454.3 505,1452.8 510,1451.2 515,1449.4 520,1447.5 525,1445.4 530,1443.2 535,1440.8 540,1438.2 545,1435.5 550,1432.6 555,1429.5 560,1426.3 565,1422.8 570,1419.2 575,1415.5 580,1411.6 585,1407.5"/><polyline points="290,1552.7 295,1547.9 300,1543.3 305,1538.8 310,1534.4 315,1530.1 320,1525.9 325,1521.9 330,1518.1 335,1514.4 340,1510.8 345,1507.5 350,1504.3 355,1501.2 360,1498.4 365,1495.7 370,1493.2 375,1490.9 380,1488.7 385,1486.7 390,1484.8 395,1483.1 400,1481.5 405,1480.1 410,1478.8 415,1477.5 420,1476.4 425,1475.4 430,1474.4 435,1473.5 440,1472.6 445,1471.7 450,1470.9 455,1470.0 460,1469.2 465,1468.3 470,1467.4 475,1466.4 480,1465.3 485,1464.2 490,1463.0 495,1461.6 500,1460.1 505,1458.6 510,1456.8 515,1454.9 520,1452.9 525,1450.7 530,1448.4 535,1445.8 540,1443.1 545,1440.3 550,1437.2 555,1434.0 560,1430.6 565,1427.1 570,1423.4 575,1419.5 580,1415.5 585,1411.3"/><polyline points="290,1554.1 295,1549.5 300,1545.0 305,1540.6 310,1536.4 315,1532.2 320,1528.3 325,1524.4 330,1520.7 335,1517.2 340,1513.9 345,1510.7 350,1507.7 355,1504.9 360,1502.2 365,1499.8 370,1497.4 375,1495.3 380,1493.3 385,1491.5 390,1489.8 395,1488.2 400,1486.8 405,1485.5 410,1484.3 415,1483.2 420,1482.2 425,1481.2 430,1480.3 435,1479.5 440,1478.7 445,1477.9 450,1477.0 455,1476.2 460,1475.4 465,1474.5 470,1473.5 475,1472.5 480,1471.4 485,1470.2 490,1468.9 495,1467.4 500,1465.9 505,1464.2 510,1462.3 515,1460.4 520,1458.2 525,1455.9 530,1453.4 535,1450.7 540,1447.9 545,1444.9 550,1441.7 555,1438.4 560,1434.8 565,1431.2 570,1427.3 575,1423.3 580,1419.2 585,1414.9"/><polyline points="290,1555.7 295,1551.2 300,1546.8 305,1542.6 310,1538.5 315,1534.5 320,1530.7 325,1527.1 330,1523.6 335,1520.3 340,1517.1 345,1514.1 350,1511.3 355,1508.7 360,1506.3 365,1504.0 370,1501.8 375,1499.9 380,1498.1 385,1496.4 390,1494.9 395,1493.5 400,1492.2 405,1491.0 410,1489.9 415,1488.9 420,1488.0 425,1487.2 430,1486.3 435,1485.5 440,1484.8 445,1484.0 450,1483.2 455,1482.4 460,1481.5 465,1480.6 470,1479.6 475,1478.5 480,1477.3 485,1476.1 490,1474.7 495,1473.2 500,1471.5 505,1469.7 510,1467.7 515,1465.6 520,1463.3 525,1460.9 530,1458.3 535,1455.5 540,1452.5 545,1449.3 550,1446.0 555,1442.6 560,1438.9 565,1435.1 570,1431.2 575,1427.1 580,1422.8 585,1418.5"/><polyline points="290,1557.3 295,1553.0 300,1548.8 305,1544.7 310,1540.8 315,1537.0 320,1533.3 325,1529.9 330,1526.6 335,1523.5 340,1520.5 345,1517.7 350,1515.1 355,1512.7 360,1510.4 365,1508.3 370,1506.4 375,1504.6 380,1502.9 385,1501.4 390,1500.1 395,1498.8 400,1497.7 405,1496.6 410,1495.6 415,1494.8 420,1493.9 425,1493.1 430,1492.4 435,1491.6 440,1490.9 445,1490.1 450,1489.3 455,1488.5 460,1487.6 465,1486.6 470,1485.6 475,1484.5 480,1483.2 485,1481.9 490,1480.4 495,1478.7 500,1477.0 505,1475.0 510,1473.0 515,1470.7 520,1468.3 525,1465.7 530,1463.0 535,1460.0 540,1456.9 545,1453.6 550,1450.2 555,1446.6 560,1442.8 565,1438.9 570,1434.8 575,1430.7 580,1426.3 585,1421.9"/><polyline points="290,1559.1 295,1554.9 300,1550.8 305,1546.9 310,1543.2 315,1539.6 320,1536.1 325,1532.8 330,1529.7 335,1526.8 340,1524.0 345,1521.5 350,1519.1 355,1516.8 360,1514.7 365,1512.8 370,1511.1 375,1509.4 380,1508.0 385,1506.6 390,1505.4 395,1504.3 400,1503.2 405,1502.3 410,1501.4 415,1500.6 420,1499.8 425,1499.1 430,1498.4 435,1497.7 440,1496.9 445,1496.2 450,1495.4 455,1494.5 460,1493.6 465,1492.6 470,1491.5 475,1490.3 480,1489.0 485,1487.5 490,1485.9 495,1484.2 500,1482.3 505,1480.3 510,1478.0 515,1475.7 520,1473.1 525,1470.4 530,1467.5 535,1464.4 540,1461.2 545,1457.8 550,1454.2 555,1450.5 560,1446.6 565,1442.6 570,1438.4 575,1434.1 580,1429.7 585,1425.2"/><polyline points="290,1560.9 295,1556.9 300,1553.0 305,1549.3 310,1545.7 315,1542.3 320,1539.0 325,1536.0 330,1533.0 335,1530.3 340,1527.8 345,1525.4 350,1523.1 355,1521.1 360,1519.2 365,1517.5 370,1515.9 375,1514.4 380,1513.1 385,1511.9 390,1510.8 395,1509.8 400,1508.9 405,1508.0 410,1507.3 415,1506.5 420,1505.8 425,1505.1 430,1504.4 435,1503.7 440,1503.0 445,1502.2 450,1501.4 455,1500.5 460,1499.5 465,1498.5 470,1497.3 475,1496.0 480,1494.6 485,1493.0 490,1491.4 495,1489.5 500,1487.5 505,1485.3 510,1483.0 515,1480.5 520,1477.8 525,1474.9 530,1471.9 535,1468.7 540,1465.3 545,1461.8 550,1458.1 555,1454.2 560,1450.3 565,1446.1 570,1441.9 575,1437.5 580,1433.0 585,1428.5"/><polyline points="290,1562.9 295,1559.1 300,1555.3 305,1551.8 310,1548.4 315,1545.2 320,1542.1 325,1539.2 330,1536.5 335,1534.0 340,1531.6 345,1529.4 350,1527.4 355,1525.5 360,1523.8 365,1522.2 370,1520.8 375,1519.5 380,1518.3 385,1517.3 390,1516.3 395,1515.4 400,1514.6 405,1513.8 410,1513.1 415,1512.4 420,1511.8 425,1511.1 430,1510.5 435,1509.8 440,1509.0 445,1508.2 450,1507.4 455,1506.4 460,1505.4 465,1504.3 470,1503.0 475,1501.6 480,1500.1 485,1498.5 490,1496.6 495,1494.7 500,1492.5 505,1490.2 510,1487.7 515,1485.1 520,1482.3 525,1479.3 530,1476.1 535,1472.8 540,1469.3 545,1465.6 550,1461.8 555,1457.9 560,1453.8 565,1449.6 570,1445.2 575,1440.8 580,1436.2 585,1431.6"/><polyline points="290,1565.0 295,1561.4 300,1557.8 305,1554.4 310,1551.2 315,1548.2 320,1545.4 325,1542.7 330,1540.2 335,1537.8 340,1535.6 345,1533.6 350,1531.8 355,1530.1 360,1528.5 365,1527.1 370,1525.9 375,1524.7 380,1523.7 385,1522.7 390,1521.9 395,1521.1 400,1520.4 405,1519.7 410,1519.0 415,1518.4 420,1517.8 425,1517.1 430,1516.5 435,1515.8 440,1515.0 445,1514.2 450,1513.3 455,1512.3 460,1511.2 465,1509.9 470,1508.6 475,1507.1 480,1505.5 485,1503.7 490,1501.8 495,1499.7 500,1497.4 505,1495.0 510,1492.4 515,1489.6 520,1486.6 525,1483.5 530,1480.2 535,1476.7 540,1473.1 545,1469.3 550,1465.4 555,1461.4 560,1457.2 565,1452.9 570,1448.5 575,1444.0 580,1439.4 585,1434.7"/><polyline points="290,1567.3 295,1563.8 300,1560.4 305,1557.3 310,1554.3 315,1551.4 320,1548.8 325,1546.3 330,1543.9 335,1541.8 340,1539.8 345,1538.0 350,1536.3 355,1534.8 360,1533.4 365,1532.2 370,1531.0 375,1530.0 380,1529.1 385,1528.3 390,1527.5 395,1526.8 400,1526.2 405,1525.5 410,1524.9 415,1524.3 420,1523.7 425,1523.1 430,1522.4 435,1521.7 440,1520.9 445,1520.0 450,1519.1 455,1518.0 460,1516.8 465,1515.5 470,1514.1 475,1512.5 480,1510.7 485,1508.8 490,1506.8 495,1504.5 500,1502.1 505,1499.6 510,1496.8 515,1493.9 520,1490.8 525,1487.5 530,1484.1 535,1480.5 540,1476.8 545,1472.9 550,1468.9 555,1464.7 560,1460.5 565,1456.1 570,1451.6 575,1447.1 580,1442.5 585,1437.8"/><polyline points="290,1569.7 295,1566.4 300,1563.2 305,1560.2 310,1557.4 315,1554.8 320,1552.3 325,1550.0 330,1547.9 335,1545.9 340,1544.1 345,1542.5 350,1541.0 355,1539.6 360,1538.4 365,1537.3 370,1536.3 375,1535.4 380,1534.6 385,1533.9 390,1533.2 395,1532.6 400,1532.0 405,1531.4 410,1530.9 415,1530.3 420,1529.7 425,1529.0 430,1528.3 435,1527.6 440,1526.7 445,1525.8 450,1524.8 455,1523.6 460,1522.4 465,1520.9 470,1519.4 475,1517.7 480,1515.8 485,1513.8 490,1511.6 495,1509.2 500,1506.7 505,1504.0 510,1501.1 515,1498.0 520,1494.8 525,1491.4 530,1487.9 535,1484.2 540,1480.3 545,1476.4 550,1472.2 555,1468.0 560,1463.7 565,1459.2 570,1454.7 575,1450.1 580,1445.5 585,1440.8"/><polyline points="290,1572.2 295,1569.1 300,1566.2 305,1563.4 310,1560.7 315,1558.3 320,1556.0 325,1553.9 330,1552.0 335,1550.2 340,1548.6 345,1547.1 350,1545.8 355,1544.6 360,1543.5 365,1542.5 370,1541.7 375,1540.9 380,1540.2 385,1539.6 390,1539.0 395,1538.4 400,1537.9 405,1537.3 410,1536.8 415,1536.2 420,1535.6 425,1534.9 430,1534.2 435,1533.4 440,1532.5 445,1531.5 450,1530.4 455,1529.1 460,1527.8 465,1526.2 470,1524.6 475,1522.8 480,1520.8 485,1518.6 490,1516.3 495,1513.8 500,1511.1 505,1508.3 510,1505.2 515,1502.0 520,1498.7 525,1495.2 530,1491.5 535,1487.7 540,1483.8 545,1479.7 550,1475.5 555,1471.2 560,1466.8 565,1462.3 570,1457.7 575,1453.1 580,1448.5 585,1443.8"/><polyline points="290,1575.0 295,1572.0 300,1569.2 305,1566.6 310,1564.2 315,1562.0 320,1559.9 325,1558.0 330,1556.2 335,1554.6 340,1553.2 345,1551.9 350,1550.7 355,1549.7 360,1548.7 365,1547.9 370,1547.1 375,1546.4 380,1545.8 385,1545.3 390,1544.7 395,1544.2 400,1543.7 405,1543.2 410,1542.7 415,1542.1 420,1541.5 425,1540.8 430,1540.0 435,1539.1 440,1538.2 445,1537.1 450,1535.9 455,1534.5 460,1533.0 465,1531.4 470,1529.6 475,1527.7 480,1525.6 485,1523.3 490,1520.8 495,1518.2 500,1515.3 505,1512.4 510,1509.2 515,1505.9 520,1502.4 525,1498.8 530,1495.0 535,1491.1 540,1487.1 545,1482.9 550,1478.6 555,1474.3 560,1469.8 565,1465.3 570,1460.7 575,1456.1 580,1451.4 585,1446.8"/><polyline points="290,1577.8 295,1575.1 300,1572.5 305,1570.1 310,1567.9 315,1565.8 320,1563.9 325,1562.2 330,1560.6 335,1559.2 340,1557.9 345,1556.8 350,1555.7 355,1554.8 360,1554.0 365,1553.3 370,1552.6 375,1552.1 380,1551.5 385,1551.0 390,1550.5 395,1550.0 400,1549.6 405,1549.1 410,1548.5 415,1547.9 420,1547.3 425,1546.5 430,1545.7 435,1544.8 440,1543.7 445,1542.5 450,1541.2 455,1539.8 460,1538.2 465,1536.4 470,1534.5 475,1532.4 480,1530.2 485,1527.8 490,1525.2 495,1522.4 500,1519.4 505,1516.3 510,1513.0 515,1509.6 520,1506.0 525,1502.3 530,1498.4 535,1494.4 540,1490.3 545,1486.0 550,1481.7 555,1477.3 560,1472.8 565,1468.2 570,1463.6 575,1459.0 580,1454.4 585,1449.7"/><polyline points="290,1580.8 295,1578.3 300,1575.9 305,1573.7 310,1571.7 315,1569.8 320,1568.1 325,1566.6 330,1565.2 335,1563.9 340,1562.8 345,1561.8 350,1560.9 355,1560.1 360,1559.4 365,1558.8 370,1558.2 375,1557.7 380,1557.2 385,1556.8 390,1556.3 395,1555.9 400,1555.4 405,1554.9 410,1554.3 415,1553.7 420,1553.0 425,1552.2 430,1551.3 435,1550.3 440,1549.1 445,1547.9 450,1546.5 455,1544.9 460,1543.2 465,1541.3 470,1539.3 475,1537.0 480,1534.7 485,1532.1 490,1529.4 495,1526.4 500,1523.4 505,1520.1 510,1516.7 515,1513.2 520,1509.5 525,1505.6 530,1501.6 535,1497.5 540,1493.3 545,1489.0 550,1484.7 555,1480.2 560,1475.7 565,1471.1 570,1466.5 575,1461.9 580,1457.3 585,1452.7"/><polyline points="290,1584.0 295,1581.7 300,1579.5 305,1577.5 310,1575.6 315,1573.9 320,1572.4 325,1571.0 330,1569.8 335,1568.7 340,1567.7 345,1566.9 350,1566.1 355,1565.4 360,1564.8 365,1564.3 370,1563.8 375,1563.4 380,1563.0 385,1562.5 390,1562.1 395,1561.7 400,1561.2 405,1560.7 410,1560.1 415,1559.4 420,1558.6 425,1557.8 430,1556.8 435,1555.7 440,1554.5 445,1553.1 450,1551.6 455,1549.9 460,1548.0 465,1546.0 470,1543.8 475,1541.5 480,1539.0 485,1536.3 490,1533.4 495,1530.4 500,1527.1 505,1523.8 510,1520.3 515,1516.6 520,1512.8 525,1508.8 530,1504.8 535,1500.6 540,1496.3 545,1492.0 550,1487.6 555,1483.1 560,1478.6 565,1474.0 570,1469.4 575,1464.8 580,1460.3 585,1455.7"/><polyline points="290,1587.3 295,1585.2 300,1583.2 305,1581.4 310,1579.7 315,1578.2 320,1576.9 325,1575.7 330,1574.6 335,1573.6 340,1572.8 345,1572.1 350,1571.4 355,1570.9 360,1570.4 365,1569.9 370,1569.5 375,1569.1 380,1568.7 385,1568.3 390,1567.9 395,1567.4 400,1566.9 405,1566.4 410,1565.7 415,1565.0 420,1564.2 425,1563.2 430,1562.2 435,1561.0 440,1559.6 445,1558.2 450,1556.5 455,1554.7 460,1552.7 465,1550.6 470,1548.3 475,1545.8 480,1543.1 485,1540.3 490,1537.3 495,1534.1 500,1530.8 505,1527.3 510,1523.7 515,1519.9 520,1516.0 525,1512.0 530,1507.8 535,1503.6 540,1499.3 545,1494.9 550,1490.4 555,1485.9 560,1481.4 565,1476.8 570,1472.3 575,1467.8 580,1463.2 585,1458.8"/><polyline points="290,1590.8 295,1588.9 300,1587.1 305,1585.5 310,1584.0 315,1582.6 320,1581.5 325,1580.4 330,1579.5 335,1578.7 340,1578.0 345,1577.4 350,1576.8 355,1576.3 360,1575.9 365,1575.5 370,1575.2 375,1574.8 380,1574.4 385,1574.0 390,1573.6 395,1573.2 400,1572.6 405,1572.0 410,1571.3 415,1570.5 420,1569.6 425,1568.6 430,1567.4 435,1566.1 440,1564.7 445,1563.1 450,1561.3 455,1559.4 460,1557.3 465,1555.0 470,1552.5 475,1549.9 480,1547.1 485,1544.1 490,1541.0 495,1537.7 500,1534.3 505,1530.7 510,1526.9 515,1523.1 520,1519.1 525,1515.0 530,1510.8 535,1506.5 540,1502.1 545,1497.7 550,1493.2 555,1488.7 560,1484.2 565,1479.7 570,1475.2 575,1470.7 580,1466.3 585,1461.9"/><polyline points="290,1594.5 295,1592.7 300,1591.1 305,1589.7 310,1588.4 315,1587.2 320,1586.2 325,1585.3 330,1584.5 335,1583.8 340,1583.2 345,1582.7 350,1582.3 355,1581.9 360,1581.5 365,1581.2 370,1580.8 375,1580.5 380,1580.1 385,1579.8 390,1579.3 395,1578.8 400,1578.3 405,1577.6 410,1576.8 415,1576.0 420,1575.0 425,1573.8 430,1572.6 435,1571.2 440,1569.6 445,1567.9 450,1566.0 455,1563.9 460,1561.6 465,1559.2 470,1556.6 475,1553.9 480,1550.9 485,1547.8 490,1544.6 495,1541.2 500,1537.6 505,1533.9 510,1530.1 515,1526.1 520,1522.1 525,1517.9 530,1513.6 535,1509.3 540,1504.9 545,1500.5 550,1496.0 555,1491.5 560,1487.0 565,1482.6 570,1478.1 575,1473.7 580,1469.3 585,1465.0"/><polyline points="290,1598.3 295,1596.7 300,1595.3 305,1594.0 310,1592.9 315,1591.9 320,1591.0 325,1590.2 330,1589.6 335,1589.0 340,1588.5 345,1588.1 350,1587.7 355,1587.4 360,1587.1 365,1586.8 370,1586.5 375,1586.2 380,1585.8 385,1585.4 390,1585.0 395,1584.4 400,1583.8 405,1583.1 410,1582.2 415,1581.3 420,1580.2 425,1579.0 430,1577.6 435,1576.0 440,1574.3 445,1572.5 450,1570.4 455,1568.2 460,1565.9 465,1563.3 470,1560.6 475,1557.7 480,1554.6 485,1551.4 490,1548.0 495,1544.5 500,1540.8 505,1537.0 510,1533.1 515,1529.1 520,1525.0 525,1520.7 530,1516.4 535,1512.1 540,1507.7 545,1503.2 550,1498.8 555,1494.3 560,1489.9 565,1485.4 570,1481.0 575,1476.7 580,1472.4 585,1468.2"/><polyline points="290,1602.3 295,1600.9 300,1599.6 305,1598.5 310,1597.5 315,1596.7 320,1595.9 325,1595.3 330,1594.8 335,1594.3 340,1593.9 345,1593.6 350,1593.3 355,1593.0 360,1592.7 365,1592.5 370,1592.2 375,1591.8 380,1591.5 385,1591.0 390,1590.5 395,1589.9 400,1589.2 405,1588.4 410,1587.5 415,1586.5 420,1585.3 425,1583.9 430,1582.4 435,1580.8 440,1578.9 445,1576.9 450,1574.8 455,1572.4 460,1569.9 465,1567.2 470,1564.4 475,1561.3 480,1558.2 485,1554.8 490,1551.3 495,1547.7 500,1543.9 505,1540.1 510,1536.1 515,1532.0 520,1527.8 525,1523.5 530,1519.2 535,1514.8 540,1510.4 545,1506.0 550,1501.5 555,1497.1 560,1492.7 565,1488.4 570,1484.0 575,1479.8 580,1475.6 585,1471.6"/><polyline points="77,1350.0 81,1352.9 85,1355.8 89,1358.6 93,1361.5 97,1364.3 101,1367.0 105,1369.8 109,1372.5 113,1375.1 117,1377.6 121,1380.1 125,1382.5 129,1384.9 133,1387.1 137,1389.2 141,1391.3 145,1393.2 149,1395.1 153,1396.8 157,1398.4 161,1399.9 165,1401.2 169,1402.5 173,1403.6 177,1404.6 181,1405.5 185,1406.2 189,1406.8 193,1407.3 197,1407.6 201,1407.8 205,1407.9 209,1407.8 213,1407.7 217,1407.4 221,1407.0 225,1406.4 229,1405.8 233,1405.1 237,1404.2 241,1403.3 245,1402.2 249,1401.1 253,1399.9 257,1398.6 261,1397.2 265,1395.8 269,1394.3 273,1392.8"/><polyline points="77,1363.0 81,1365.8 85,1368.6 89,1371.4 93,1374.2 97,1376.9 101,1379.5 105,1382.1 109,1384.6 113,1387.1 117,1389.4 121,1391.7 125,1393.9 129,1396.0 133,1397.9 137,1399.8 141,1401.6 145,1403.2 149,1404.8 153,1406.2 157,1407.5 161,1408.6 165,1409.7 169,1410.6 173,1411.4 177,1412.0 181,1412.5 185,1412.9 189,1413.2 193,1413.3 197,1413.3 201,1413.2 205,1412.9 209,1412.6 213,1412.1 217,1411.5 221,1410.8 225,1410.0 229,1409.1 233,1408.0 237,1406.9 241,1405.8 245,1404.5 249,1403.2 253,1401.8 257,1400.3 261,1398.8 265,1397.2 269,1395.6 273,1394.0"/><polyline points="77,1375.8 81,1378.6 85,1381.3 89,1384.0 93,1386.6 97,1389.1 101,1391.6 105,1394.0 109,1396.3 113,1398.5 117,1400.6 121,1402.6 125,1404.5 129,1406.4 133,1408.0 137,1409.6 141,1411.1 145,1412.4 149,1413.6 153,1414.7 157,1415.7 161,1416.5 165,1417.2 169,1417.8 173,1418.2 177,1418.5 181,1418.7 185,1418.7 189,1418.7 193,1418.5 197,1418.1 201,1417.7 205,1417.1 209,1416.5 213,1415.7 217,1414.8 221,1413.9 225,1412.8 229,1411.6 233,1410.4 237,1409.1 241,1407.7 245,1406.3 249,1404.8 253,1403.3 257,1401.7 261,1400.1 265,1398.4 269,1396.7 273,1395.1"/><polyline points="77,1388.4 81,1391.0 85,1393.6 89,1396.1 93,1398.5 97,1400.8 101,1403.1 105,1405.3 109,1407.3 113,1409.3 117,1411.1 121,1412.9 125,1414.5 129,1416.0 133,1417.4 137,1418.6 141,1419.8 145,1420.8 149,1421.6 153,1422.4 157,1423.0 161,1423.5 165,1423.8 169,1424.1 173,1424.2 177,1424.1 181,1424.0 185,1423.7 189,1423.3 193,1422.8 197,1422.2 201,1421.4 205,1420.6 209,1419.7 213,1418.6 217,1417.5 221,1416.3 225,1415.0 229,1413.7 233,1412.3 237,1410.8 241,1409.3 245,1407.7 249,1406.1 253,1404.5 257,1402.8 261,1401.1 265,1399.4 269,1397.8 273,1396.1"/><polyline points="77,1400.6 81,1403.0 85,1405.4 89,1407.7 93,1409.9 97,1412.0 101,1414.0 105,1415.9 109,1417.6 113,1419.3 117,1420.9 121,1422.3 125,1423.6 129,1424.8 133,1425.8 137,1426.7 141,1427.5 145,1428.2 149,1428.7 153,1429.1 157,1429.4 161,1429.6 165,1429.6 169,1429.5 173,1429.2 177,1428.9 181,1428.4 185,1427.8 189,1427.1 193,1426.3 197,1425.4 201,1424.5 205,1423.4 209,1422.2 213,1420.9 217,1419.6 221,1418.2 225,1416.8 229,1415.3 233,1413.7 237,1412.1 241,1410.5 245,1408.8 249,1407.2 253,1405.5 257,1403.8 261,1402.1 265,1400.5 269,1398.8 273,1397.2"/><polyline points="77,1412.3 81,1414.5 85,1416.6 89,1418.7 93,1420.6 97,1422.4 101,1424.1 105,1425.7 109,1427.2 113,1428.5 117,1429.8 121,1430.9 125,1431.8 129,1432.7 133,1433.4 137,1434.0 141,1434.4 145,1434.7 149,1434.9 153,1435.0 157,1434.9 161,1434.8 165,1434.5 169,1434.0 173,1433.5 177,1432.8 181,1432.1 185,1431.2 189,1430.3 193,1429.2 197,1428.1 201,1426.8 205,1425.5 209,1424.2 213,1422.8 217,1421.3 221,1419.7 225,1418.2 229,1416.5 233,1414.9 237,1413.2 241,1411.5 245,1409.9 249,1408.2 253,1406.5 257,1404.8 261,1403.2 265,1401.6 269,1400.0 273,1398.5"/><polyline points="77,1423.3 81,1425.3 85,1427.2 89,1428.9 93,1430.6 97,1432.1 101,1433.5 105,1434.7 109,1435.9 113,1436.9 117,1437.8 121,1438.6 125,1439.2 129,1439.7 133,1440.1 137,1440.3 141,1440.4 145,1440.4 149,1440.3 153,1440.0 157,1439.6 161,1439.1 165,1438.5 169,1437.8 173,1437.0 177,1436.1 181,1435.0 185,1433.9 189,1432.7 193,1431.5 197,1430.1 201,1428.7 205,1427.3 209,1425.7 213,1424.2 217,1422.6 221,1420.9 225,1419.3 229,1417.6 233,1415.9 237,1414.2 241,1412.6 245,1410.9 249,1409.2 253,1407.6 257,1406.0 261,1404.5 265,1403.0 269,1401.6 273,1400.2"/><polyline points="77,1433.7 81,1435.4 85,1436.9 89,1438.4 93,1439.7 97,1440.9 101,1442.0 105,1442.9 109,1443.7 113,1444.4 117,1444.9 121,1445.4 125,1445.7 129,1445.8 133,1445.9 137,1445.8 141,1445.5 145,1445.2 149,1444.8 153,1444.2 157,1443.5 161,1442.7 165,1441.8 169,1440.9 173,1439.8 177,1438.6 181,1437.4 185,1436.1 189,1434.7 193,1433.2 197,1431.7 201,1430.2 205,1428.6 209,1427.0 213,1425.3 217,1423.7 221,1422.0 225,1420.3 229,1418.6 233,1416.9 237,1415.3 241,1413.7 245,1412.1 249,1410.5 253,1409.0 257,1407.5 261,1406.1 265,1404.8 269,1403.6 273,1402.4"/><polyline points="77,1443.3 81,1444.6 85,1445.9 89,1447.0 93,1448.0 97,1448.9 101,1449.6 105,1450.2 109,1450.7 113,1451.0 117,1451.2 121,1451.3 125,1451.2 129,1451.1 133,1450.8 137,1450.4 141,1449.8 145,1449.2 149,1448.5 153,1447.6 157,1446.7 161,1445.6 165,1444.5 169,1443.3 173,1442.0 177,1440.6 181,1439.2 185,1437.7 189,1436.2 193,1434.6 197,1433.0 201,1431.4 205,1429.7 209,1428.0 213,1426.3 217,1424.7 221,1423.0 225,1421.3 229,1419.7 233,1418.1 237,1416.5 241,1415.0 245,1413.5 249,1412.1 253,1410.7 257,1409.4 261,1408.2 265,1407.1 269,1406.1 273,1405.1"/><polyline points="77,1452.0 81,1453.1 85,1454.0 89,1454.8 93,1455.4 97,1455.9 101,1456.3 105,1456.6 109,1456.7 113,1456.7 117,1456.6 121,1456.3 125,1456.0 129,1455.5 133,1454.9 137,1454.2 141,1453.4 145,1452.5 149,1451.4 153,1450.3 157,1449.2 161,1447.9 165,1446.6 169,1445.2 173,1443.7 177,1442.2 181,1440.6 185,1439.0 189,1437.4 193,1435.8 197,1434.1 201,1432.4 205,1430.7 209,1429.0 213,1427.4 217,1425.7 221,1424.1 225,1422.5 229,1421.0 233,1419.5 237,1418.0 241,1416.6 245,1415.3 249,1414.1 253,1412.9 257,1411.9 261,1410.9 265,1410.0 269,1409.2 273,1408.6"/><polyline points="77,1459.9 81,1460.6 85,1461.2 89,1461.6 93,1461.9 97,1462.1 101,1462.1 105,1462.1 109,1461.9 113,1461.5 117,1461.1 121,1460.5 125,1459.9 129,1459.1 133,1458.2 137,1457.3 141,1456.2 145,1455.0 149,1453.8 153,1452.5 157,1451.1 161,1449.7 165,1448.2 169,1446.7 173,1445.1 177,1443.5 181,1441.8 185,1440.1 189,1438.5 193,1436.8 197,1435.1 201,1433.4 205,1431.8 209,1430.1 213,1428.5 217,1427.0 221,1425.5 225,1424.0 229,1422.6 233,1421.2 237,1420.0 241,1418.8 245,1417.7 249,1416.7 253,1415.8 257,1414.9 261,1414.2 265,1413.6 269,1413.1 273,1412.8"/><polyline points="77,1466.9 81,1467.2 85,1467.5 89,1467.6 93,1467.5 97,1467.4 101,1467.1 105,1466.7 109,1466.2 113,1465.6 117,1464.8 121,1464.0 125,1463.1 129,1462.0 133,1460.9 137,1459.7 141,1458.4 145,1457.1 149,1455.7 153,1454.2 157,1452.7 161,1451.1 165,1449.5 169,1447.9 173,1446.2 177,1444.5 181,1442.8 185,1441.2 189,1439.5 193,1437.8 197,1436.2 201,1434.6 205,1433.0 209,1431.4 213,1430.0 217,1428.5 221,1427.2 225,1425.9 229,1424.7 233,1423.5 237,1422.5 241,1421.5 245,1420.7 249,1419.9 253,1419.3 257,1418.7 261,1418.3 265,1418.0 269,1417.8 273,1417.8"/><polyline points="77,1473.0 81,1473.0 85,1472.9 89,1472.6 93,1472.3 97,1471.8 101,1471.2 105,1470.5 109,1469.7 113,1468.8 117,1467.9 121,1466.8 125,1465.6 129,1464.3 133,1463.0 137,1461.6 141,1460.2 145,1458.7 149,1457.1 153,1455.5 157,1453.9 161,1452.2 165,1450.6 169,1448.9 173,1447.2 177,1445.5 181,1443.9 185,1442.2 189,1440.6 193,1439.0 197,1437.4 201,1435.9 205,1434.5 209,1433.1 213,1431.8 217,1430.5 221,1429.4 225,1428.3 229,1427.3 233,1426.4 237,1425.6 241,1424.9 245,1424.3 249,1423.9 253,1423.5 257,1423.3 261,1423.2 265,1423.2 269,1423.4 273,1423.7"/><polyline points="77,1478.2 81,1477.9 85,1477.4 89,1476.9 93,1476.2 97,1475.5 101,1474.6 105,1473.7 109,1472.6 113,1471.5 117,1470.2 121,1468.9 125,1467.6 129,1466.2 133,1464.7 137,1463.1 141,1461.6 145,1459.9 149,1458.3 153,1456.6 157,1454.9 161,1453.3 165,1451.6 169,1449.9 173,1448.2 177,1446.6 181,1445.0 185,1443.4 189,1441.9 193,1440.4 197,1439.0 201,1437.7 205,1436.4 209,1435.2 213,1434.1 217,1433.1 221,1432.1 225,1431.3 229,1430.6 233,1430.0 237,1429.5 241,1429.1 245,1428.8 249,1428.6 253,1428.6 257,1428.7 261,1429.0 265,1429.3 269,1429.8 273,1430.4"/><polyline points="77,1482.5 81,1481.9 85,1481.2 89,1480.4 93,1479.5 97,1478.4 101,1477.3 105,1476.1 109,1474.9 113,1473.5 117,1472.1 121,1470.7 125,1469.1 129,1467.6 133,1466.0 137,1464.3 141,1462.7 145,1461.0 149,1459.3 153,1457.6 157,1456.0 161,1454.3 165,1452.6 169,1451.0 173,1449.4 177,1447.9 181,1446.4 185,1445.0 189,1443.6 193,1442.3 197,1441.1 201,1439.9 205,1438.9 209,1437.9 213,1437.0 217,1436.3 221,1435.6 225,1435.1 229,1434.6 233,1434.3 237,1434.1 241,1434.0 245,1434.1 249,1434.3 253,1434.6 257,1435.0 261,1435.6 265,1436.3 269,1437.1 273,1438.1"/><polyline points="77,1486.1 81,1485.2 85,1484.3 89,1483.2 93,1482.0 97,1480.8 101,1479.5 105,1478.1 109,1476.6 113,1475.1 117,1473.6 121,1472.0 125,1470.4 129,1468.7 133,1467.1 137,1465.4 141,1463.7 145,1462.0 149,1460.3 153,1458.7 157,1457.1 161,1455.5 165,1453.9 169,1452.4 173,1450.9 177,1449.5 181,1448.2 185,1447.0 189,1445.8 193,1444.7 197,1443.7 201,1442.8 205,1442.0 209,1441.3 213,1440.7 217,1440.2 221,1439.8 225,1439.6 229,1439.5 233,1439.5 237,1439.6 241,1439.9 245,1440.3 249,1440.8 253,1441.5 257,1442.2 261,1443.2 265,1444.2 269,1445.4 273,1446.7"/><polyline points="77,1489.0 81,1487.9 85,1486.7 89,1485.4 93,1484.0 97,1482.6 101,1481.1 105,1479.6 109,1478.0 113,1476.4 117,1474.8 121,1473.1 125,1471.4 129,1469.7 133,1468.1 137,1466.4 141,1464.7 145,1463.1 149,1461.5 153,1459.9 157,1458.4 161,1456.9 165,1455.5 169,1454.1 173,1452.8 177,1451.6 181,1450.5 185,1449.5 189,1448.5 193,1447.7 197,1446.9 201,1446.3 205,1445.8 209,1445.4 213,1445.1 217,1444.9 221,1444.9 225,1445.0 229,1445.2 233,1445.5 237,1446.0 241,1446.6 245,1447.4 249,1448.2 253,1449.2 257,1450.3 261,1451.6 265,1453.0 269,1454.4 273,1456.1"/><polyline points="77,1491.3 81,1490.0 85,1488.6 89,1487.1 93,1485.6 97,1484.0 101,1482.4 105,1480.8 109,1479.2 113,1477.5 117,1475.8 121,1474.1 125,1472.4 129,1470.8 133,1469.1 137,1467.5 141,1465.9 145,1464.4 149,1462.9 153,1461.4 157,1460.0 161,1458.7 165,1457.5 169,1456.3 173,1455.3 177,1454.3 181,1453.4 185,1452.6 189,1452.0 193,1451.4 197,1450.9 201,1450.6 205,1450.4 209,1450.3 213,1450.4 217,1450.5 221,1450.8 225,1451.2 229,1451.8 233,1452.5 237,1453.3 241,1454.2 245,1455.3 249,1456.5 253,1457.9 257,1459.3 261,1460.9 265,1462.6 269,1464.4 273,1466.3"/><polyline points="77,1493.1 81,1491.6 85,1490.1 89,1488.5 93,1486.9 97,1485.2 101,1483.5 105,1481.9 109,1480.2 113,1478.5 117,1476.8 121,1475.2 125,1473.5 129,1471.9 133,1470.4 137,1468.9 141,1467.4 145,1466.0 149,1464.6 153,1463.4 157,1462.2 161,1461.1 165,1460.1 169,1459.2 173,1458.3 177,1457.6 181,1457.0 185,1456.5 189,1456.2 193,1455.9 197,1455.8 201,1455.8 205,1455.9 209,1456.1 213,1456.5 217,1457.0 221,1457.6 225,1458.4 229,1459.3 233,1460.3 237,1461.5 241,1462.8 245,1464.2 249,1465.7 253,1467.3 257,1469.1 261,1471.0 265,1472.9 269,1475.0 273,1477.2"/><polyline points="77,1494.5 81,1492.9 85,1491.3 89,1489.6 93,1487.9 97,1486.2 101,1484.6 105,1482.9 109,1481.2 113,1479.6 117,1478.0 121,1476.4 125,1474.8 129,1473.4 133,1471.9 137,1470.6 141,1469.3 145,1468.1 149,1466.9 153,1465.9 157,1464.9 161,1464.1 165,1463.3 169,1462.7 173,1462.1 177,1461.7 181,1461.4 185,1461.2 189,1461.2 193,1461.2 197,1461.4 201,1461.8 205,1462.2 209,1462.8 213,1463.5 217,1464.4 221,1465.4 225,1466.5 229,1467.7 233,1469.1 237,1470.5 241,1472.1 245,1473.8 249,1475.7 253,1477.6 257,1479.6 261,1481.8 265,1484.0 269,1486.3 273,1488.7"/><polyline points="470.0,1480.0 474.1,1477.2 478.3,1474.4 482.4,1471.5 486.6,1468.5 490.7,1465.3 494.8,1461.9 499.0,1458.2 503.1,1454.3 507.2,1450.0 511.4,1445.4 515.5,1440.4 519.7,1435.1 523.8,1429.4 527.9,1423.2 532.1,1416.7 536.2,1409.7 540.3,1402.3 544.5,1394.6 548.6,1386.4 552.8,1377.9 556.9,1369.1 561.0,1359.9 565.2,1350.5 569.3,1340.8 573.4,1330.9 577.6,1320.8 581.7,1310.6 585.9,1300.3 590.0,1290.0" stroke="#b0b0b0"/><polyline points="472.5,1478.5 476.6,1475.7 480.6,1472.9 484.7,1470.1 488.7,1467.0 492.8,1463.9 496.8,1460.5 500.9,1456.8 504.9,1452.9 509.0,1448.7 513.0,1444.2 517.1,1439.3 521.1,1434.0 525.2,1428.3 529.2,1422.3 533.3,1415.9 537.3,1409.0 541.4,1401.8 545.4,1394.1 549.5,1386.1 553.5,1377.8 557.6,1369.1 561.6,1360.1 565.7,1350.8 569.7,1341.3 573.8,1331.6 577.8,1321.7 581.9,1311.7 585.9,1301.6 590.0,1291.5" stroke="#b0b0b0"/><polyline points="475.0,1477.0 479.0,1474.3 482.9,1471.5 486.9,1468.6 490.9,1465.6 494.8,1462.4 498.8,1459.1 502.8,1455.5 506.7,1451.6 510.7,1447.4 514.7,1442.9 518.6,1438.1 522.6,1432.9 526.6,1427.3 530.5,1421.4 534.5,1415.0 538.4,1408.3 542.4,1401.2 546.4,1393.7 550.3,1385.8 554.3,1377.6 558.3,1369.1 562.2,1360.3 566.2,1351.2 570.2,1341.9 574.1,1332.3 578.1,1322.7 582.1,1312.8 586.0,1302.9 590.0,1293.0" stroke="#b0b0b0"/><polyline points="477.5,1475.5 481.4,1472.8 485.3,1470.0 489.1,1467.1 493.0,1464.1 496.9,1461.0 500.8,1457.6 504.7,1454.1 508.5,1450.2 512.4,1446.1 516.3,1441.7 520.2,1436.9 524.1,1431.8 527.9,1426.3 531.8,1420.4 535.7,1414.2 539.6,1407.6 543.4,1400.6 547.3,1393.2 551.2,1385.5 555.1,1377.5 559.0,1369.1 562.8,1360.5 566.7,1351.5 570.6,1342.4 574.5,1333.1 578.4,1323.6 582.2,1313.9 586.1,1304.2 590.0,1294.5" stroke="#b0b0b0"/><polyline points="480.0,1474.0 483.8,1471.3 487.6,1468.5 491.4,1465.6 495.2,1462.7 499.0,1459.6 502.8,1456.2 506.6,1452.7 510.3,1448.9 514.1,1444.8 517.9,1440.5 521.7,1435.7 525.5,1430.7 529.3,1425.3 533.1,1419.5 536.9,1413.4 540.7,1406.9 544.5,1400.0 548.3,1392.8 552.1,1385.2 555.9,1377.3 559.7,1369.1 563.4,1360.6 567.2,1351.9 571.0,1342.9 574.8,1333.8 578.6,1324.5 582.4,1315.0 586.2,1305.5 590.0,1296.0" stroke="#b0b0b0"/><polyline points="482.5,1472.5 486.2,1469.8 489.9,1467.0 493.6,1464.2 497.3,1461.2 501.0,1458.1 504.7,1454.8 508.4,1451.3 512.2,1447.6 515.9,1443.5 519.6,1439.2 523.3,1434.6 527.0,1429.6 530.7,1424.3 534.4,1418.6 538.1,1412.6 541.8,1406.2 545.5,1399.4 549.2,1392.3 552.9,1384.9 556.6,1377.2 560.3,1369.1 564.1,1360.8 567.8,1352.2 571.5,1343.5 575.2,1334.5 578.9,1325.4 582.6,1316.2 586.3,1306.8 590.0,1297.5" stroke="#b0b0b0"/><polyline points="485.0,1471.0 488.6,1468.3 492.2,1465.5 495.9,1462.7 499.5,1459.8 503.1,1456.7 506.7,1453.4 510.3,1449.9 514.0,1446.2 517.6,1442.2 521.2,1438.0 524.8,1433.4 528.4,1428.5 532.1,1423.3 535.7,1417.7 539.3,1411.7 542.9,1405.5 546.6,1398.8 550.2,1391.9 553.8,1384.6 557.4,1377.0 561.0,1369.1 564.7,1361.0 568.3,1352.6 571.9,1344.0 575.5,1335.2 579.1,1326.3 582.8,1317.3 586.4,1308.1 590.0,1299.0" stroke="#b0b0b0"/><polyline points="487.5,1469.5 491.0,1466.8 494.6,1464.1 498.1,1461.2 501.6,1458.3 505.2,1455.2 508.7,1452.0 512.2,1448.6 515.8,1444.9 519.3,1441.0 522.8,1436.7 526.4,1432.2 529.9,1427.4 533.4,1422.2 537.0,1416.7 540.5,1410.9 544.1,1404.8 547.6,1398.3 551.1,1391.4 554.7,1384.3 558.2,1376.8 561.7,1369.1 565.3,1361.2 568.8,1352.9 572.3,1344.5 575.9,1335.9 579.4,1327.2 582.9,1318.4 586.5,1309.4 590.0,1300.5" stroke="#b0b0b0"/><polyline points="490.0,1468.0 493.4,1465.3 496.9,1462.6 500.3,1459.8 503.8,1456.9 507.2,1453.8 510.7,1450.6 514.1,1447.2 517.6,1443.5 521.0,1439.7 524.5,1435.5 527.9,1431.0 531.4,1426.3 534.8,1421.2 538.3,1415.8 541.7,1410.1 545.2,1404.0 548.6,1397.7 552.1,1391.0 555.5,1384.0 559.0,1376.7 562.4,1369.1 565.9,1361.3 569.3,1353.3 572.8,1345.1 576.2,1336.7 579.7,1328.1 583.1,1319.5 586.6,1310.8 590.0,1302.0" stroke="#b0b0b0"/><polyline points="492.5,1466.5 495.9,1463.8 499.2,1461.1 502.6,1458.3 505.9,1455.4 509.3,1452.4 512.7,1449.2 516.0,1445.8 519.4,1442.2 522.8,1438.4 526.1,1434.3 529.5,1429.9 532.8,1425.2 536.2,1420.2 539.6,1414.9 542.9,1409.3 546.3,1403.3 549.7,1397.1 553.0,1390.5 556.4,1383.7 559.7,1376.5 563.1,1369.1 566.5,1361.5 569.8,1353.6 573.2,1345.6 576.6,1337.4 579.9,1329.0 583.3,1320.6 586.6,1312.1 590.0,1303.5" stroke="#b0b0b0"/><polyline points="495.0,1465.0 498.3,1462.3 501.6,1459.6 504.8,1456.8 508.1,1454.0 511.4,1450.9 514.7,1447.8 517.9,1444.4 521.2,1440.9 524.5,1437.1 527.8,1433.0 531.0,1428.7 534.3,1424.1 537.6,1419.2 540.9,1414.0 544.1,1408.5 547.4,1402.6 550.7,1396.5 554.0,1390.1 557.2,1383.4 560.5,1376.4 563.8,1369.1 567.1,1361.7 570.3,1354.0 573.6,1346.1 576.9,1338.1 580.2,1329.9 583.4,1321.7 586.7,1313.4 590.0,1305.0" stroke="#b0b0b0"/><polyline points="497.5,1463.5 500.7,1460.8 503.9,1458.1 507.1,1455.4 510.3,1452.5 513.4,1449.5 516.6,1446.4 519.8,1443.1 523.0,1439.5 526.2,1435.8 529.4,1431.8 532.6,1427.5 535.8,1423.0 539.0,1418.2 542.2,1413.0 545.3,1407.6 548.5,1401.9 551.7,1395.9 554.9,1389.6 558.1,1383.1 561.3,1376.2 564.5,1369.2 567.7,1361.8 570.9,1354.3 574.1,1346.7 577.2,1338.8 580.4,1330.8 583.6,1322.8 586.8,1314.7 590.0,1306.5" stroke="#b0b0b0"/><polyline points="500.0,1462.0 503.1,1459.3 506.2,1456.6 509.3,1453.9 512.4,1451.0 515.5,1448.1 518.6,1445.0 521.7,1441.7 524.8,1438.2 527.9,1434.5 531.0,1430.5 534.1,1426.3 537.2,1421.9 540.3,1417.1 543.4,1412.1 546.6,1406.8 549.7,1401.2 552.8,1395.3 555.9,1389.2 559.0,1382.7 562.1,1376.1 565.2,1369.2 568.3,1362.0 571.4,1354.7 574.5,1347.2 577.6,1339.5 580.7,1331.8 583.8,1323.9 586.9,1316.0 590.0,1308.0" stroke="#b0b0b0"/><polyline points="502.5,1460.5 505.5,1457.8 508.5,1455.2 511.6,1452.4 514.6,1449.6 517.6,1446.6 520.6,1443.6 523.6,1440.3 526.6,1436.9 529.7,1433.2 532.7,1429.3 535.7,1425.2 538.7,1420.8 541.7,1416.1 544.7,1411.2 547.8,1406.0 550.8,1400.5 553.8,1394.7 556.8,1388.7 559.8,1382.4 562.8,1375.9 565.9,1369.2 568.9,1362.2 571.9,1355.0 574.9,1347.7 577.9,1340.2 580.9,1332.7 584.0,1325.0 587.0,1317.3 590.0,1309.5" stroke="#b0b0b0"/><polyline points="505.0,1459.0 507.9,1456.4 510.9,1453.7 513.8,1451.0 516.7,1448.1 519.7,1445.2 522.6,1442.1 525.5,1438.9 528.4,1435.5 531.4,1431.9 534.3,1428.1 537.2,1424.0 540.2,1419.7 543.1,1415.1 546.0,1410.3 549.0,1405.2 551.9,1399.8 554.8,1394.2 557.8,1388.3 560.7,1382.1 563.6,1375.8 566.6,1369.2 569.5,1362.4 572.4,1355.4 575.3,1348.2 578.3,1341.0 581.2,1333.6 584.1,1326.1 587.1,1318.6 590.0,1311.0" stroke="#b0b0b0"/><polyline points="507.5,1457.5 510.3,1454.9 513.2,1452.2 516.0,1449.5 518.9,1446.7 521.7,1443.8 524.6,1440.7 527.4,1437.5 530.3,1434.2 533.1,1430.6 535.9,1426.8 538.8,1422.8 541.6,1418.6 544.5,1414.1 547.3,1409.3 550.2,1404.3 553.0,1399.1 555.9,1393.6 558.7,1387.8 561.6,1381.8 564.4,1375.6 567.2,1369.2 570.1,1362.5 572.9,1355.7 575.8,1348.8 578.6,1341.7 581.5,1334.5 584.3,1327.2 587.2,1319.9 590.0,1312.5" stroke="#b0b0b0"/><polyline points="510.0,1456.0 512.8,1453.4 515.5,1450.7 518.3,1448.0 521.0,1445.2 523.8,1442.3 526.6,1439.3 529.3,1436.2 532.1,1432.8 534.8,1429.3 537.6,1425.6 540.3,1421.6 543.1,1417.5 545.9,1413.1 548.6,1408.4 551.4,1403.5 554.1,1398.4 556.9,1393.0 559.7,1387.4 562.4,1381.5 565.2,1375.5 567.9,1369.2 570.7,1362.7 573.4,1356.1 576.2,1349.3 579.0,1342.4 581.7,1335.4 584.5,1328.3 587.2,1321.2 590.0,1314.0" stroke="#b0b0b0"/><polyline points="512.5,1454.5 515.2,1451.9 517.8,1449.2 520.5,1446.5 523.2,1443.8 525.9,1440.9 528.5,1437.9 531.2,1434.8 533.9,1431.5 536.6,1428.0 539.2,1424.3 541.9,1420.5 544.6,1416.4 547.2,1412.0 549.9,1407.5 552.6,1402.7 555.3,1397.7 557.9,1392.4 560.6,1386.9 563.3,1381.2 565.9,1375.3 568.6,1369.2 571.3,1362.9 574.0,1356.4 576.6,1349.8 579.3,1343.1 582.0,1336.3 584.7,1329.4 587.3,1322.5 590.0,1315.5" stroke="#b0b0b0"/><polyline points="515.0,1453.0 517.6,1450.4 520.2,1447.8 522.8,1445.1 525.3,1442.3 527.9,1439.5 530.5,1436.5 533.1,1433.4 535.7,1430.2 538.3,1426.7 540.9,1423.1 543.4,1419.3 546.0,1415.3 548.6,1411.0 551.2,1406.6 553.8,1401.9 556.4,1397.0 559.0,1391.8 561.6,1386.5 564.1,1380.9 566.7,1375.1 569.3,1369.2 571.9,1363.1 574.5,1356.8 577.1,1350.4 579.7,1343.8 582.2,1337.2 584.8,1330.5 587.4,1323.8 590.0,1317.0" stroke="#b0b0b0"/><polyline points="517.5,1451.5 520.0,1448.9 522.5,1446.3 525.0,1443.6 527.5,1440.9 530.0,1438.0 532.5,1435.1 535.0,1432.0 537.5,1428.8 540.0,1425.4 542.5,1421.9 545.0,1418.1 547.5,1414.2 550.0,1410.0 552.5,1405.6 555.0,1401.1 557.5,1396.3 560.0,1391.2 562.5,1386.0 565.0,1380.6 567.5,1375.0 570.0,1369.2 572.5,1363.2 575.0,1357.1 577.5,1350.9 580.0,1344.6 582.5,1338.1 585.0,1331.6 587.5,1325.1 590.0,1318.5" stroke="#b0b0b0"/><polyline points="520.0,1450.0 522.4,1447.4 524.8,1444.8 527.2,1442.1 529.7,1439.4 532.1,1436.6 534.5,1433.7 536.9,1430.7 539.3,1427.5 541.7,1424.1 544.1,1420.6 546.6,1416.9 549.0,1413.1 551.4,1409.0 553.8,1404.7 556.2,1400.2 558.6,1395.5 561.0,1390.7 563.4,1385.6 565.9,1380.3 568.3,1374.8 570.7,1369.2 573.1,1363.4 575.5,1357.5 577.9,1351.4 580.3,1345.3 582.8,1339.0 585.2,1332.7 587.6,1326.4 590.0,1320.0" stroke="#b0b0b0"/><polyline points="522.5,1448.5 524.8,1445.9 527.2,1443.3 529.5,1440.7 531.8,1438.0 534.1,1435.2 536.5,1432.3 538.8,1429.3 541.1,1426.1 543.4,1422.8 545.8,1419.4 548.1,1415.8 550.4,1412.0 552.8,1408.0 555.1,1403.8 557.4,1399.4 559.7,1394.8 562.1,1390.1 564.4,1385.1 566.7,1380.0 569.1,1374.7 571.4,1369.2 573.7,1363.6 576.0,1357.8 578.4,1352.0 580.7,1346.0 583.0,1339.9 585.3,1333.8 587.7,1327.7 590.0,1321.5" stroke="#b0b0b0"/><polyline points="525.0,1447.0 527.2,1444.4 529.5,1441.8 531.7,1439.2 534.0,1436.5 536.2,1433.7 538.4,1430.9 540.7,1427.9 542.9,1424.8 545.2,1421.6 547.4,1418.2 549.7,1414.6 551.9,1410.9 554.1,1407.0 556.4,1402.9 558.6,1398.6 560.9,1394.1 563.1,1389.5 565.3,1384.7 567.6,1379.7 569.8,1374.5 572.1,1369.2 574.3,1363.8 576.6,1358.2 578.8,1352.5 581.0,1346.7 583.3,1340.9 585.5,1334.9 587.8,1329.0 590.0,1323.0" stroke="#b0b0b0"/><polyline points="527.5,1445.5 529.7,1442.9 531.8,1440.4 534.0,1437.7 536.1,1435.1 538.3,1432.3 540.4,1429.5 542.6,1426.5 544.7,1423.5 546.9,1420.3 549.1,1416.9 551.2,1413.4 553.4,1409.8 555.5,1405.9 557.7,1401.9 559.8,1397.8 562.0,1393.4 564.1,1388.9 566.3,1384.2 568.4,1379.4 570.6,1374.4 572.8,1369.2 574.9,1363.9 577.1,1358.5 579.2,1353.0 581.4,1347.4 583.5,1341.8 585.7,1336.0 587.8,1330.3 590.0,1324.5" stroke="#b0b0b0"/><polyline points="530.0,1444.0 532.1,1441.4 534.1,1438.9 536.2,1436.3 538.3,1433.6 540.3,1430.9 542.4,1428.1 544.5,1425.1 546.6,1422.1 548.6,1419.0 550.7,1415.7 552.8,1412.2 554.8,1408.7 556.9,1404.9 559.0,1401.0 561.0,1396.9 563.1,1392.7 565.2,1388.3 567.2,1383.8 569.3,1379.1 571.4,1374.2 573.4,1369.2 575.5,1364.1 577.6,1358.9 579.7,1353.6 581.7,1348.2 583.8,1342.7 585.9,1337.1 587.9,1331.6 590.0,1326.0" stroke="#b0b0b0"/><polyline points="532.5,1442.5 534.5,1440.0 536.5,1437.4 538.4,1434.8 540.4,1432.1 542.4,1429.4 544.4,1426.6 546.4,1423.8 548.4,1420.8 550.3,1417.7 552.3,1414.4 554.3,1411.1 556.3,1407.6 558.3,1403.9 560.3,1400.1 562.2,1396.1 564.2,1392.0 566.2,1387.7 568.2,1383.3 570.2,1378.8 572.2,1374.1 574.1,1369.2 576.1,1364.3 578.1,1359.2 580.1,1354.1 582.1,1348.9 584.1,1343.6 586.0,1338.3 588.0,1332.9 590.0,1327.5" stroke="#b0b0b0"/><polyline points="535.0,1441.0 536.9,1438.5 538.8,1435.9 540.7,1433.3 542.6,1430.7 544.5,1428.0 546.4,1425.2 548.3,1422.4 550.2,1419.4 552.1,1416.4 554.0,1413.2 555.9,1409.9 557.8,1406.5 559.7,1402.9 561.6,1399.2 563.4,1395.3 565.3,1391.3 567.2,1387.1 569.1,1382.9 571.0,1378.4 572.9,1373.9 574.8,1369.2 576.7,1364.5 578.6,1359.6 580.5,1354.6 582.4,1349.6 584.3,1344.5 586.2,1339.4 588.1,1334.2 590.0,1329.0" stroke="#b0b0b0"/><polyline points="537.5,1439.5 539.3,1437.0 541.1,1434.4 542.9,1431.9 544.7,1429.2 546.6,1426.6 548.4,1423.8 550.2,1421.0 552.0,1418.1 553.8,1415.1 555.6,1412.0 557.4,1408.7 559.2,1405.4 561.0,1401.9 562.8,1398.2 564.7,1394.5 566.5,1390.6 568.3,1386.6 570.1,1382.4 571.9,1378.1 573.7,1373.7 575.5,1369.2 577.3,1364.6 579.1,1359.9 580.9,1355.2 582.8,1350.3 584.6,1345.4 586.4,1340.5 588.2,1335.5 590.0,1330.5" stroke="#b0b0b0"/><polyline points="540.0,1438.0 541.7,1435.5 543.4,1432.9 545.2,1430.4 546.9,1427.8 548.6,1425.1 550.3,1422.4 552.1,1419.6 553.8,1416.8 555.5,1413.8 557.2,1410.7 559.0,1407.5 560.7,1404.3 562.4,1400.8 564.1,1397.3 565.9,1393.7 567.6,1389.9 569.3,1386.0 571.0,1382.0 572.8,1377.8 574.5,1373.6 576.2,1369.2 577.9,1364.8 579.7,1360.3 581.4,1355.7 583.1,1351.0 584.8,1346.3 586.6,1341.6 588.3,1336.8 590.0,1332.0" stroke="#b0b0b0"/><polyline points="542.5,1436.5 544.1,1434.0 545.8,1431.5 547.4,1428.9 549.1,1426.3 550.7,1423.7 552.3,1421.0 554.0,1418.3 555.6,1415.4 557.2,1412.5 558.9,1409.5 560.5,1406.4 562.2,1403.2 563.8,1399.8 565.4,1396.4 567.1,1392.8 568.7,1389.2 570.3,1385.4 572.0,1381.5 573.6,1377.5 575.3,1373.4 576.9,1369.2 578.5,1365.0 580.2,1360.6 581.8,1356.2 583.4,1351.7 585.1,1347.2 586.7,1342.7 588.4,1338.1 590.0,1333.5" stroke="#b0b0b0"/><polyline points="77.0,1470.0 87.0,1471.5 97.0,1473.0 107.0,1474.4 117.0,1475.7 127.0,1477.0 137.0,1478.1 147.0,1479.1 157.0,1480.0 167.0,1480.6 177.0,1481.1 187.0,1481.4 197.0,1481.5 207.0,1481.4 217.0,1481.0 227.0,1480.4 237.0,1479.6 247.0,1478.6 257.0,1477.4 267.0,1475.9 277.0,1474.3 287.0,1472.5 297.0,1470.6 307.0,1468.5 317.0,1466.2 327.0,1463.9 337.0,1461.5 347.0,1459.0 357.0,1456.5 367.0,1454.1 377.0,1451.6 387.0,1449.1 397.0,1446.8 407.0,1444.5 417.0,1442.3 427.0,1440.3 437.0,1438.4 447.0,1436.7 457.0,1435.1 467.0,1433.8 477.0,1432.6 487.0,1431.7 497.0,1431.0 507.0,1430.5 517.0,1430.3 527.0,1430.2 537.0,1430.4 547.0,1430.8 557.0,1431.4 567.0,1432.1 577.0,1433.0 587.0,1434.1 597.0,1435.3 607.0,1436.6 617.0,1438.0" stroke="#707070"/><polyline points="77.0,1477.5 87.0,1478.9 97.0,1480.2 107.0,1481.4 117.0,1482.5 127.0,1483.5 137.0,1484.3 147.0,1484.9 157.0,1485.3 167.0,1485.6 177.0,1485.6 187.0,1485.4 197.0,1485.0 207.0,1484.4 217.0,1483.5 227.0,1482.4 237.0,1481.2 247.0,1479.7 257.0,1478.0 267.0,1476.2 277.0,1474.2 287.0,1472.0 297.0,1469.8 307.0,1467.4 317.0,1465.0 327.0,1462.5 337.0,1460.0 347.0,1457.6 357.0,1455.1 367.0,1452.7 377.0,1450.3 387.0,1448.0 397.0,1445.9 407.0,1443.9 417.0,1442.1 427.0,1440.4 437.0,1438.9 447.0,1437.6 457.0,1436.5 467.0,1435.6 477.0,1435.0 487.0,1434.6 497.0,1434.4 507.0,1434.4 517.0,1434.6 527.0,1435.0 537.0,1435.7 547.0,1436.5 557.0,1437.4 567.0,1438.5 577.0,1439.7 587.0,1441.0 597.0,1442.5 607.0,1443.9 617.0,1445.4" stroke="#707070"/><polyline points="77.0,1484.6 87.0,1485.8 97.0,1486.9 107.0,1487.8 117.0,1488.6 127.0,1489.2 137.0,1489.6 147.0,1489.7 157.0,1489.7 167.0,1489.5 177.0,1489.0 187.0,1488.3 197.0,1487.4 207.0,1486.3 217.0,1484.9 227.0,1483.4 237.0,1481.7 247.0,1479.8 257.0,1477.8 267.0,1475.6 277.0,1473.3 287.0,1471.0 297.0,1468.5 307.0,1466.0 317.0,1463.5 327.0,1461.1 337.0,1458.6 347.0,1456.2 357.0,1453.9 367.0,1451.6 377.0,1449.5 387.0,1447.6 397.0,1445.7 407.0,1444.1 417.0,1442.7 427.0,1441.4 437.0,1440.4 447.0,1439.6 457.0,1439.0 467.0,1438.6 477.0,1438.5 487.0,1438.5 497.0,1438.8 507.0,1439.3 517.0,1440.0 527.0,1440.8 537.0,1441.8 547.0,1442.9 557.0,1444.2 567.0,1445.5 577.0,1446.9 587.0,1448.4 597.0,1449.9 607.0,1451.4 617.0,1452.9" stroke="#707070"/><polyline points="77.0,1491.3 87.0,1492.2 97.0,1492.9 107.0,1493.4 117.0,1493.7 127.0,1493.9 137.0,1493.8 147.0,1493.5 157.0,1493.0 167.0,1492.2 177.0,1491.2 187.0,1490.1 197.0,1488.7 207.0,1487.1 217.0,1485.4 227.0,1483.4 237.0,1481.4 247.0,1479.2 257.0,1476.9 267.0,1474.5 277.0,1472.0 287.0,1469.5 297.0,1467.0 307.0,1464.6 317.0,1462.1 327.0,1459.7 337.0,1457.4 347.0,1455.2 357.0,1453.1 367.0,1451.2 377.0,1449.4 387.0,1447.9 397.0,1446.5 407.0,1445.3 417.0,1444.3 427.0,1443.5 437.0,1443.0 447.0,1442.7 457.0,1442.6 467.0,1442.7 477.0,1443.1 487.0,1443.6 497.0,1444.3 507.0,1445.2 517.0,1446.2 527.0,1447.4 537.0,1448.6 547.0,1450.0 557.0,1451.4 567.0,1452.9 577.0,1454.4 587.0,1455.9 597.0,1457.4 607.0,1458.8 617.0,1460.1" stroke="#707070"/><polyline points="77.0,1497.1 87.0,1497.6 97.0,1497.9 107.0,1498.0 117.0,1497.9 127.0,1497.5 137.0,1496.9 147.0,1496.1 157.0,1495.1 167.0,1493.9 177.0,1492.4 187.0,1490.8 197.0,1489.0 207.0,1487.1 217.0,1485.0 227.0,1482.7 237.0,1480.4 247.0,1478.0 257.0,1475.5 267.0,1473.0 277.0,1470.6 287.0,1468.1 297.0,1465.6 307.0,1463.3 317.0,1461.0 327.0,1458.8 337.0,1456.8 347.0,1454.9 357.0,1453.2 367.0,1451.6 377.0,1450.3 387.0,1449.1 397.0,1448.2 407.0,1447.5 417.0,1447.0 427.0,1446.8 437.0,1446.7 447.0,1446.9 457.0,1447.3 467.0,1447.9 477.0,1448.6 487.0,1449.5 497.0,1450.6 507.0,1451.8 517.0,1453.1 527.0,1454.5 537.0,1455.9 547.0,1457.4 557.0,1458.9 567.0,1460.4 577.0,1461.8 587.0,1463.2 597.0,1464.5 607.0,1465.7 617.0,1466.8" stroke="#707070"/><polyline points="77.0,1502.1 87.0,1502.1 97.0,1501.9 107.0,1501.5 117.0,1500.9 127.0,1500.0 137.0,1498.9 147.0,1497.7 157.0,1496.2 167.0,1494.5 177.0,1492.7 187.0,1490.7 197.0,1488.5 207.0,1486.3 217.0,1483.9 227.0,1481.5 237.0,1479.0 247.0,1476.5 257.0,1474.1 267.0,1471.6 277.0,1469.2 287.0,1466.8 297.0,1464.5 307.0,1462.4 317.0,1460.4 327.0,1458.6 337.0,1456.9 347.0,1455.4 357.0,1454.1 367.0,1453.0 377.0,1452.1 387.0,1451.5 397.0,1451.1 407.0,1450.9 417.0,1450.9 427.0,1451.1 437.0,1451.5 447.0,1452.2 457.0,1453.0 467.0,1453.9 477.0,1455.0 487.0,1456.2 497.0,1457.5 507.0,1459.0 517.0,1460.4 527.0,1461.9 537.0,1463.4 547.0,1464.9 557.0,1466.3 567.0,1467.7 577.0,1469.0 587.0,1470.2 597.0,1471.2 607.0,1472.1 617.0,1472.8" stroke="#707070"/><polyline points="77.0,1506.0 87.0,1505.5 97.0,1504.8 107.0,1503.9 117.0,1502.8 127.0,1501.4 137.0,1499.9 147.0,1498.2 157.0,1496.3 167.0,1494.3 177.0,1492.1 187.0,1489.8 197.0,1487.5 207.0,1485.0 217.0,1482.5 227.0,1480.0 237.0,1477.6 247.0,1475.1 257.0,1472.7 267.0,1470.4 277.0,1468.1 287.0,1466.0 297.0,1464.1 307.0,1462.2 317.0,1460.6 327.0,1459.2 337.0,1457.9 347.0,1456.9 357.0,1456.1 367.0,1455.5 377.0,1455.1 387.0,1455.0 397.0,1455.0 407.0,1455.3 417.0,1455.8 427.0,1456.5 437.0,1457.3 447.0,1458.3 457.0,1459.4 467.0,1460.7 477.0,1462.0 487.0,1463.4 497.0,1464.9 507.0,1466.4 517.0,1467.9 527.0,1469.4 537.0,1470.8 547.0,1472.2 557.0,1473.4 567.0,1474.6 577.0,1475.6 587.0,1476.4 597.0,1477.1 607.0,1477.6 617.0,1477.9" stroke="#707070"/><polyline points="77.0,1508.7 87.0,1507.7 97.0,1506.6 107.0,1505.2 117.0,1503.6 127.0,1501.9 137.0,1499.9 147.0,1497.9 157.0,1495.7 167.0,1493.4 177.0,1491.0 187.0,1488.5 197.0,1486.0 207.0,1483.5 217.0,1481.1 227.0,1478.6 237.0,1476.2 247.0,1473.9 257.0,1471.7 267.0,1469.6 277.0,1467.7 287.0,1465.9 297.0,1464.4 307.0,1463.0 317.0,1461.8 327.0,1460.8 337.0,1460.0 347.0,1459.5 357.0,1459.2 367.0,1459.1 377.0,1459.2 387.0,1459.6 397.0,1460.1 407.0,1460.8 417.0,1461.7 427.0,1462.7 437.0,1463.9 447.0,1465.1 457.0,1466.5 467.0,1467.9 477.0,1469.4 487.0,1470.9 497.0,1472.4 507.0,1473.9 517.0,1475.3 527.0,1476.6 537.0,1477.8 547.0,1478.9 557.0,1479.9 567.0,1480.7 577.0,1481.4 587.0,1481.8 597.0,1482.1 607.0,1482.1 617.0,1481.9" stroke="#707070"/><polyline points="77.0,1510.4 87.0,1508.9 97.0,1507.3 107.0,1505.5 117.0,1503.6 127.0,1501.5 137.0,1499.2 147.0,1496.9 157.0,1494.5 167.0,1492.0 177.0,1489.5 187.0,1487.1 197.0,1484.6 207.0,1482.1 217.0,1479.8 227.0,1477.5 237.0,1475.3 247.0,1473.3 257.0,1471.4 267.0,1469.7 277.0,1468.1 287.0,1466.8 297.0,1465.6 307.0,1464.7 317.0,1464.0 327.0,1463.5 337.0,1463.3 347.0,1463.2 357.0,1463.4 367.0,1463.8 377.0,1464.4 387.0,1465.1 397.0,1466.0 407.0,1467.1 417.0,1468.3 427.0,1469.6 437.0,1471.0 447.0,1472.4 457.0,1473.9 467.0,1475.4 477.0,1476.9 487.0,1478.3 497.0,1479.7 507.0,1481.0 517.0,1482.2 527.0,1483.3 537.0,1484.3 547.0,1485.0 557.0,1485.6 567.0,1486.0 577.0,1486.2 587.0,1486.2 597.0,1485.9 607.0,1485.5 617.0,1484.8" stroke="#707070"/><polyline points="77.0,1511.0 87.0,1509.2 97.0,1507.2 107.0,1505.0 117.0,1502.8 127.0,1500.4 137.0,1498.0 147.0,1495.5 157.0,1493.0 167.0,1490.6 177.0,1488.1 187.0,1485.7 197.0,1483.3 207.0,1481.0 217.0,1478.9 227.0,1476.9 237.0,1475.1 247.0,1473.4 257.0,1471.9 267.0,1470.6 277.0,1469.5 287.0,1468.6 297.0,1468.0 307.0,1467.6 317.0,1467.4 327.0,1467.4 337.0,1467.6 347.0,1468.0 357.0,1468.7 367.0,1469.5 377.0,1470.4 387.0,1471.5 397.0,1472.7 407.0,1474.0 417.0,1475.5 427.0,1476.9 437.0,1478.4 447.0,1479.9 457.0,1481.4 467.0,1482.8 477.0,1484.2 487.0,1485.5 497.0,1486.7 507.0,1487.7 517.0,1488.6 527.0,1489.3 537.0,1489.9 547.0,1490.2 557.0,1490.3 567.0,1490.3 577.0,1490.0 587.0,1489.5 597.0,1488.7 607.0,1487.8 617.0,1486.6" stroke="#707070"/><polyline points="77.0,1510.8 87.0,1508.6 97.0,1506.3 107.0,1504.0 117.0,1501.5 127.0,1499.0 137.0,1496.5 147.0,1494.1 157.0,1491.6 167.0,1489.2 177.0,1486.9 187.0,1484.6 197.0,1482.5 207.0,1480.6 217.0,1478.7 227.0,1477.1 237.0,1475.7 247.0,1474.4 257.0,1473.4 267.0,1472.6 277.0,1472.0 287.0,1471.6 297.0,1471.5 307.0,1471.5 317.0,1471.8 327.0,1472.3 337.0,1473.0 347.0,1473.8 357.0,1474.8 367.0,1475.9 377.0,1477.2 387.0,1478.5 397.0,1479.9 407.0,1481.4 417.0,1482.9 427.0,1484.4 437.0,1485.9 447.0,1487.3 457.0,1488.7 467.0,1489.9 477.0,1491.1 487.0,1492.1 497.0,1492.9 507.0,1493.6 517.0,1494.1 527.0,1494.4 537.0,1494.5 547.0,1494.3 557.0,1494.0 567.0,1493.4 577.0,1492.6 587.0,1491.6 597.0,1490.4 607.0,1489.0 617.0,1487.4" stroke="#707070"/><polyline points="77.0,1509.9 87.0,1507.5 97.0,1505.0 107.0,1502.5 117.0,1500.0 127.0,1497.6 137.0,1495.1 147.0,1492.7 157.0,1490.4 167.0,1488.2 177.0,1486.1 187.0,1484.2 197.0,1482.4 207.0,1480.9 217.0,1479.5 227.0,1478.3 237.0,1477.3 247.0,1476.5 257.0,1476.0 267.0,1475.7 277.0,1475.6 287.0,1475.7 297.0,1476.1 307.0,1476.6 317.0,1477.3 327.0,1478.2 337.0,1479.2 347.0,1480.4 357.0,1481.6 367.0,1483.0 377.0,1484.4 387.0,1485.9 397.0,1487.4 407.0,1488.9 417.0,1490.4 427.0,1491.8 437.0,1493.1 447.0,1494.3 457.0,1495.4 467.0,1496.4 477.0,1497.2 487.0,1497.9 497.0,1498.3 507.0,1498.6 517.0,1498.6 527.0,1498.4 537.0,1498.0 547.0,1497.4 557.0,1496.5 567.0,1495.5 577.0,1494.2 587.0,1492.7 597.0,1491.1 607.0,1489.2 617.0,1487.2" stroke="#707070"/><polyline points="77.0,1508.5 87.0,1506.0 97.0,1503.6 107.0,1501.1 117.0,1498.6 127.0,1496.3 137.0,1494.0 147.0,1491.8 157.0,1489.8 167.0,1487.9 177.0,1486.2 187.0,1484.6 197.0,1483.3 207.0,1482.1 217.0,1481.2 227.0,1480.5 237.0,1480.0 247.0,1479.8 257.0,1479.7 267.0,1479.9 277.0,1480.3 287.0,1480.9 297.0,1481.6 307.0,1482.5 317.0,1483.6 327.0,1484.8 337.0,1486.1 347.0,1487.5 357.0,1488.9 367.0,1490.4 377.0,1491.9 387.0,1493.4 397.0,1494.8 407.0,1496.2 417.0,1497.5 427.0,1498.7 437.0,1499.8 447.0,1500.8 457.0,1501.5 467.0,1502.1 477.0,1502.5 487.0,1502.7 497.0,1502.7 507.0,1502.4 517.0,1502.0 527.0,1501.3 537.0,1500.4 547.0,1499.3 557.0,1498.0 567.0,1496.5 577.0,1494.7 587.0,1492.9 597.0,1490.9 607.0,1488.7 617.0,1486.4" stroke="#707070"/><polyline points="77.0,1507.1 87.0,1504.6 97.0,1502.2 107.0,1499.8 117.0,1497.5 127.0,1495.4 137.0,1493.4 147.0,1491.6 157.0,1489.9 167.0,1488.4 177.0,1487.1 187.0,1486.0 197.0,1485.1 207.0,1484.5 217.0,1484.1 227.0,1483.9 237.0,1483.9 247.0,1484.1 257.0,1484.5 267.0,1485.2 277.0,1486.0 287.0,1486.9 297.0,1488.0 307.0,1489.2 317.0,1490.5 327.0,1492.0 337.0,1493.4 347.0,1494.9 357.0,1496.4 367.0,1497.9 377.0,1499.3 387.0,1500.7 397.0,1502.0 407.0,1503.2 417.0,1504.2 427.0,1505.1 437.0,1505.8 447.0,1506.4 457.0,1506.7 467.0,1506.8 477.0,1506.8 487.0,1506.5 497.0,1506.0 507.0,1505.2 517.0,1504.3 527.0,1503.1 537.0,1501.7 547.0,1500.2 557.0,1498.4 567.0,1496.5 577.0,1494.4 587.0,1492.3 597.0,1490.0 607.0,1487.6 617.0,1485.1" stroke="#707070"/><polyline points="77.0,1505.7 87.0,1503.4 97.0,1501.1 107.0,1499.0 117.0,1497.1 127.0,1495.2 137.0,1493.6 147.0,1492.2 157.0,1490.9 167.0,1489.9 177.0,1489.1 187.0,1488.5 197.0,1488.1 207.0,1488.0 217.0,1488.0 227.0,1488.3 237.0,1488.8 247.0,1489.5 257.0,1490.3 267.0,1491.3 277.0,1492.4 287.0,1493.7 297.0,1495.0 307.0,1496.4 317.0,1497.9 327.0,1499.4 337.0,1500.9 347.0,1502.4 357.0,1503.8 367.0,1505.2 377.0,1506.4 387.0,1507.6 397.0,1508.6 407.0,1509.4 417.0,1510.1 427.0,1510.6 437.0,1510.9 447.0,1511.0 457.0,1510.8 467.0,1510.5 477.0,1509.9 487.0,1509.1 497.0,1508.1 507.0,1506.9 517.0,1505.5 527.0,1503.9 537.0,1502.1 547.0,1500.1 557.0,1498.0 567.0,1495.8 577.0,1493.5 587.0,1491.1 597.0,1488.6 607.0,1486.1 617.0,1483.6" stroke="#707070"/><polyline points="77.0,1504.7 87.0,1502.6 97.0,1500.7 107.0,1498.9 117.0,1497.4 127.0,1496.0 137.0,1494.8 147.0,1493.8 157.0,1493.0 167.0,1492.5 177.0,1492.2 187.0,1492.1 197.0,1492.2 207.0,1492.6 217.0,1493.1 227.0,1493.8 237.0,1494.7 247.0,1495.7 257.0,1496.9 267.0,1498.1 277.0,1499.5 287.0,1500.9 297.0,1502.4 307.0,1503.9 317.0,1505.4 327.0,1506.9 337.0,1508.3 347.0,1509.6 357.0,1510.8 367.0,1511.9 377.0,1512.9 387.0,1513.7 397.0,1514.4 407.0,1514.8 417.0,1515.1 427.0,1515.1 437.0,1514.9 447.0,1514.5 457.0,1513.9 467.0,1513.0 477.0,1512.0 487.0,1510.7 497.0,1509.2 507.0,1507.6 517.0,1505.7 527.0,1503.7 537.0,1501.6 547.0,1499.4 557.0,1497.0 567.0,1494.6 577.0,1492.1 587.0,1489.6 597.0,1487.1 607.0,1484.7 617.0,1482.2" stroke="#707070"/><polyline points="77.0,1504.4 87.0,1502.7 97.0,1501.1 107.0,1499.8 117.0,1498.6 127.0,1497.7 137.0,1497.0 147.0,1496.5 157.0,1496.3 167.0,1496.2 177.0,1496.4 187.0,1496.8 197.0,1497.4 207.0,1498.1 217.0,1499.0 227.0,1500.1 237.0,1501.3 247.0,1502.6 257.0,1504.0 267.0,1505.4 277.0,1506.9 287.0,1508.4 297.0,1509.9 307.0,1511.3 317.0,1512.7 327.0,1514.0 337.0,1515.2 347.0,1516.3 357.0,1517.3 367.0,1518.0 377.0,1518.6 387.0,1519.0 397.0,1519.2 407.0,1519.2 417.0,1518.9 427.0,1518.5 437.0,1517.8 447.0,1516.9 457.0,1515.8 467.0,1514.5 477.0,1513.0 487.0,1511.2 497.0,1509.4 507.0,1507.4 517.0,1505.2 527.0,1502.9 537.0,1500.6 547.0,1498.1 557.0,1495.6 567.0,1493.1 577.0,1490.7 587.0,1488.2 597.0,1485.8 607.0,1483.4 617.0,1481.2" stroke="#707070"/><polyline points="77.0,1504.9 87.0,1503.6 97.0,1502.5 107.0,1501.6 117.0,1501.0 127.0,1500.6 137.0,1500.4 147.0,1500.4 157.0,1500.6 167.0,1501.0 177.0,1501.7 187.0,1502.5 197.0,1503.4 207.0,1504.5 217.0,1505.7 227.0,1507.0 237.0,1508.5 247.0,1509.9 257.0,1511.4 267.0,1512.9 277.0,1514.4 287.0,1515.8 297.0,1517.2 307.0,1518.5 317.0,1519.7 327.0,1520.7 337.0,1521.6 347.0,1522.3 357.0,1522.9 367.0,1523.2 377.0,1523.3 387.0,1523.3 397.0,1523.0 407.0,1522.5 417.0,1521.7 427.0,1520.8 437.0,1519.6 447.0,1518.2 457.0,1516.7 467.0,1514.9 477.0,1513.0 487.0,1510.9 497.0,1508.8 507.0,1506.5 517.0,1504.1 527.0,1501.6 537.0,1499.1 547.0,1496.6 557.0,1494.2 567.0,1491.7 577.0,1489.3 587.0,1487.0 597.0,1484.8 607.0,1482.7 617.0,1480.8" stroke="#707070"/><polyline points="77.0,1506.4 87.0,1505.6 97.0,1505.0 107.0,1504.6 117.0,1504.5 127.0,1504.5 137.0,1504.8 147.0,1505.3 157.0,1506.0 167.0,1506.8 177.0,1507.8 187.0,1508.9 197.0,1510.2 207.0,1511.5 217.0,1512.9 227.0,1514.4 237.0,1515.9 247.0,1517.4 257.0,1518.9 267.0,1520.3 277.0,1521.7 287.0,1522.9 297.0,1524.1 307.0,1525.1 317.0,1525.9 327.0,1526.6 337.0,1527.1 347.0,1527.4 357.0,1527.5 367.0,1527.3 377.0,1527.0 387.0,1526.4 397.0,1525.6 407.0,1524.6 417.0,1523.4 427.0,1522.0 437.0,1520.4 447.0,1518.6 457.0,1516.6 467.0,1514.5 477.0,1512.3 487.0,1510.0 497.0,1507.6 507.0,1505.1 517.0,1502.6 527.0,1500.1 537.0,1497.7 547.0,1495.2 557.0,1492.8 567.0,1490.6 577.0,1488.4 587.0,1486.3 597.0,1484.4 607.0,1482.7 617.0,1481.2" stroke="#707070"/><polyline points="77.0,1509.0 87.0,1508.7 97.0,1508.6 107.0,1508.7 117.0,1509.1 127.0,1509.6 137.0,1510.3 147.0,1511.2 157.0,1512.2 167.0,1513.4 177.0,1514.6 187.0,1516.0 197.0,1517.4 207.0,1518.9 217.0,1520.4 227.0,1521.9 237.0,1523.4 247.0,1524.8 257.0,1526.1 267.0,1527.3 277.0,1528.4 287.0,1529.4 297.0,1530.2 307.0,1530.9 317.0,1531.3 327.0,1531.6 337.0,1531.6 347.0,1531.4 357.0,1531.0 367.0,1530.4 377.0,1529.5 387.0,1528.5 397.0,1527.2 407.0,1525.7 417.0,1524.1 427.0,1522.2 437.0,1520.2 447.0,1518.1 457.0,1515.9 467.0,1513.5 477.0,1511.1 487.0,1508.6 497.0,1506.1 507.0,1503.6 517.0,1501.2 527.0,1498.7 537.0,1496.4 547.0,1494.1 557.0,1492.0 567.0,1490.0 577.0,1488.1 587.0,1486.4 597.0,1484.9 607.0,1483.6 617.0,1482.5" stroke="#707070"/><polyline points="77.0,1512.7 87.0,1512.9 97.0,1513.3 107.0,1513.9 117.0,1514.6 127.0,1515.5 137.0,1516.6 147.0,1517.8 157.0,1519.1 167.0,1520.5 177.0,1521.9 187.0,1523.4 197.0,1524.9 207.0,1526.4 217.0,1527.8 227.0,1529.2 237.0,1530.5 247.0,1531.7 257.0,1532.8 267.0,1533.8 277.0,1534.5 287.0,1535.1 297.0,1535.5 307.0,1535.7 317.0,1535.7 327.0,1535.4 337.0,1535.0 347.0,1534.3 357.0,1533.4 367.0,1532.3 377.0,1531.0 387.0,1529.5 397.0,1527.7 407.0,1525.9 417.0,1523.9 427.0,1521.7 437.0,1519.4 447.0,1517.1 457.0,1514.6 467.0,1512.1 477.0,1509.6 487.0,1507.2 497.0,1504.7 507.0,1502.3 517.0,1499.9 527.0,1497.7 537.0,1495.6 547.0,1493.6 557.0,1491.8 567.0,1490.2 577.0,1488.7 587.0,1487.5 597.0,1486.4 607.0,1485.6 617.0,1485.0" stroke="#707070"/><polyline points="77.0,1517.5 87.0,1518.2 97.0,1519.0 107.0,1519.9 117.0,1521.0 127.0,1522.2 137.0,1523.5 147.0,1525.0 157.0,1526.4 167.0,1527.9 177.0,1529.4 187.0,1530.9 197.0,1532.3 207.0,1533.7 217.0,1535.0 227.0,1536.2 237.0,1537.2 247.0,1538.1 257.0,1538.8 267.0,1539.4 277.0,1539.7 287.0,1539.8 297.0,1539.8 307.0,1539.5 317.0,1539.0 327.0,1538.2 337.0,1537.3 347.0,1536.1 357.0,1534.7 367.0,1533.2 377.0,1531.4 387.0,1529.5 397.0,1527.4 407.0,1525.3 417.0,1523.0 427.0,1520.6 437.0,1518.1 447.0,1515.6 457.0,1513.1 467.0,1510.7 477.0,1508.2 487.0,1505.8 497.0,1503.5 507.0,1501.3 517.0,1499.2 527.0,1497.3 537.0,1495.5 547.0,1493.9 557.0,1492.5 567.0,1491.3 577.0,1490.3 587.0,1489.6 597.0,1489.0 607.0,1488.7 617.0,1488.6" stroke="#707070"/></g>
<!-- printer -->
<polygon points="92.3,1279 114.7,1279 114.7,1500 92.3,1493" fill="#1b79a3"/>
<polygon points="114.7,1279 134.7,1279 134.7,1507 114.7,1500" fill="#0f3f60"/>
<polygon points="118,1503 349,1471 349,1484 136,1516 118,1511" fill="#1a1a1a"/>
<path d="M99,1206.5 L252.5,1206.5 L252.5,1279 L93.2,1279 L93.2,1213 Q93.2,1206.5 99,1206.5 Z" fill="url(#topg)"/>
<rect x="252.5" y="1213" width="67" height="66" fill="#2a2c30"/>
<rect x="254.4" y="1215" width="64.2" height="62.8" fill="#27324a"/>
<rect x="257" y="1217" width="59.5" height="58" fill="#e6e9ec"/>
<rect x="257" y="1217" width="7" height="58" fill="#2b3856"/>
<rect x="264" y="1217" width="52.5" height="6" fill="#3a4560"/>
<rect x="270" y="1232" width="4" height="14" fill="#3aa35a"/><rect x="275" y="1230" width="4" height="16" fill="#3b6fb8"/><rect x="280" y="1231" width="4" height="15" fill="#8a8f96"/>
<rect x="295" y="1228" width="12" height="3" fill="#9aa0a8"/><rect x="295" y="1236" width="12" height="3" fill="#c04040"/><rect x="295" y="1244" width="12" height="3" fill="#9aa0a8"/><rect x="295" y="1252" width="12" height="3" fill="#c05050"/>
<rect x="268" y="1256" width="20" height="2" fill="#9aa0a8"/><rect x="268" y="1262" width="26" height="2" fill="#9aa0a8"/>
<rect x="318.6" y="1216" width="30.7" height="63" fill="#e3e4e6"/>
<circle cx="326" cy="1222" r="2.5" fill="#c02020"/>
<polygon points="134.7,1279 248,1279 248,1487.3 134.7,1503" fill="url(#bodyg)"/>
<polygon points="248,1279 349.3,1279 349.3,1473 248,1487.3" fill="#eceef0"/>
<line x1="134.7" y1="1339.5" x2="248" y2="1339.5" stroke="#3a3d42" stroke-width="1"/>
<line x1="248" y1="1279" x2="248" y2="1487" stroke="#50545a" stroke-width="1"/>
<line x1="248" y1="1319.7" x2="335.7" y2="1319.7" stroke="#50545a" stroke-width="1"/>
<line x1="248" y1="1336" x2="335.7" y2="1336" stroke="#50545a" stroke-width="1"/>
<line x1="335.7" y1="1279" x2="335.7" y2="1475" stroke="#9a9da2" stroke-width="1"/>
<line x1="93" y1="1279" x2="349" y2="1279" stroke="#8c8f94" stroke-width="1.2"/>
<rect x="159.5" y="1296.2" width="65" height="25.6" rx="2" fill="#15241a"/>
<rect x="162" y="1299" width="40" height="18" fill="#1f4a2a" opacity="0.7"/>
<rect x="238.5" y="1309" width="3.5" height="23.5" fill="#6b6e73"/>
<circle cx="244" cy="1311" r="2.2" fill="#fafafa"/>
<rect x="123.2" y="1217" width="11.5" height="10.8" fill="#233a8c"/>
<text x="304" y="1342" font-family="Liberation Sans" font-size="6" fill="#888">3D</text>
<!-- bottle -->
<path d="M422.4,1298 L495.1,1298 L495.1,1455 Q495.1,1464 486,1464 L431,1464 Q422.4,1464 422.4,1455 Z" fill="url(#bottleg)"/>
<rect x="432.7" y="1273.5" width="55.6" height="24.8" rx="3" fill="#2e68c8"/>
<rect x="430" y="1292" width="61" height="7" rx="2" fill="#3a76d4"/>
<rect x="425.3" y="1333.4" width="69.4" height="97.1" fill="#0c0c0c"/>
<g fill="#7a7a7a"><rect x="431" y="1352" width="58" height="1"/><rect x="433" y="1355" width="50" height="1"/><rect x="431" y="1359" width="58" height="1"/><rect x="433" y="1362" width="50" height="1"/></g>
<rect x="440" y="1368" width="38" height="5" fill="none" stroke="#666" stroke-width="0.6"/>
<g fill="#ddd"><circle cx="457" cy="1382" r="2.5"/><path d="M455,1385 L459,1385 L462,1395 L466,1402 L463,1403 L458,1396 L452,1403 L449,1401 L454,1394 Z"/><path d="M459,1387 L470,1383 L471,1385 L460,1390 Z"/><circle cx="472" cy="1382" r="2.5" fill="none" stroke="#ddd" stroke-width="1"/></g>
<text x="453" y="1418" font-family="Liberation Sans" font-weight="700" font-size="6.5" fill="#ccc">5 kg</text>
<!-- metal disc -->
<circle cx="409" cy="1427.3" r="44" fill="url(#disc)"/>
<g opacity="0.8"><circle cx="383.1" cy="1402.1" r="1.3" fill="#d0d0d0"/><circle cx="369.2" cy="1436.0" r="4.2" fill="#e8e8e8"/><circle cx="430.8" cy="1446.1" r="2.5" fill="#3a3a3a"/><circle cx="425.8" cy="1439.8" r="2.5" fill="#3a3a3a"/><circle cx="425.2" cy="1462.9" r="1.7" fill="#5a5a5a"/><circle cx="413.6" cy="1412.3" r="2.7" fill="#d0d0d0"/><circle cx="436.9" cy="1457.9" r="1.9" fill="#e8e8e8"/><circle cx="418.0" cy="1468.0" r="2.2" fill="#3a3a3a"/><circle cx="438.9" cy="1419.9" r="1.8" fill="#3a3a3a"/><circle cx="427.3" cy="1423.6" r="2.2" fill="#5a5a5a"/><circle cx="398.0" cy="1440.4" r="2.1" fill="#3a3a3a"/><circle cx="390.3" cy="1460.4" r="1.2" fill="#d0d0d0"/><circle cx="398.3" cy="1405.3" r="2.4" fill="#b0b0b0"/><circle cx="396.9" cy="1460.2" r="2.8" fill="#3a3a3a"/><circle cx="406.2" cy="1417.7" r="4.3" fill="#e8e8e8"/><circle cx="392.3" cy="1448.1" r="3.8" fill="#d0d0d0"/><circle cx="387.7" cy="1451.1" r="2.7" fill="#e8e8e8"/><circle cx="400.3" cy="1395.3" r="1.6" fill="#3a3a3a"/><circle cx="409.9" cy="1465.3" r="2.3" fill="#5a5a5a"/><circle cx="390.4" cy="1451.4" r="1.6" fill="#5a5a5a"/><circle cx="408.6" cy="1389.8" r="1.3" fill="#b0b0b0"/><circle cx="421.0" cy="1423.1" r="2.9" fill="#b0b0b0"/><circle cx="398.5" cy="1439.6" r="4.2" fill="#b0b0b0"/><circle cx="386.5" cy="1420.7" r="2.2" fill="#b0b0b0"/><circle cx="419.0" cy="1395.6" r="4.5" fill="#b0b0b0"/><circle cx="413.9" cy="1435.2" r="3.0" fill="#d0d0d0"/><circle cx="392.0" cy="1438.7" r="2.3" fill="#d0d0d0"/><circle cx="409.0" cy="1461.2" r="1.4" fill="#3a3a3a"/><circle cx="415.6" cy="1423.5" r="2.3" fill="#5a5a5a"/><circle cx="420.1" cy="1467.4" r="4.3" fill="#d0d0d0"/><circle cx="383.5" cy="1400.1" r="1.8" fill="#e8e8e8"/><circle cx="401.9" cy="1434.6" r="2.2" fill="#5a5a5a"/><circle cx="368.8" cy="1439.5" r="4.4" fill="#3a3a3a"/><circle cx="380.9" cy="1435.7" r="2.8" fill="#b0b0b0"/><circle cx="402.2" cy="1453.1" r="1.6" fill="#3a3a3a"/><circle cx="422.4" cy="1399.8" r="3.3" fill="#3a3a3a"/><circle cx="384.6" cy="1427.4" r="2.8" fill="#e8e8e8"/><circle cx="378.0" cy="1424.3" r="2.4" fill="#d0d0d0"/><circle cx="417.3" cy="1391.3" r="3.4" fill="#d0d0d0"/><circle cx="410.5" cy="1402.0" r="4.0" fill="#b0b0b0"/><circle cx="405.1" cy="1468.7" r="4.4" fill="#b0b0b0"/><circle cx="399.5" cy="1442.3" r="2.8" fill="#e8e8e8"/><circle cx="412.6" cy="1403.6" r="2.7" fill="#b0b0b0"/><circle cx="422.7" cy="1396.4" r="2.3" fill="#b0b0b0"/><circle cx="386.7" cy="1398.9" r="2.4" fill="#5a5a5a"/><circle cx="430.6" cy="1394.6" r="4.4" fill="#5a5a5a"/><circle cx="438.1" cy="1419.1" r="4.4" fill="#d0d0d0"/><circle cx="417.0" cy="1451.3" r="2.1" fill="#5a5a5a"/><circle cx="439.3" cy="1443.7" r="1.8" fill="#5a5a5a"/><circle cx="415.1" cy="1395.9" r="2.2" fill="#5a5a5a"/><circle cx="372.1" cy="1414.5" r="3.6" fill="#b0b0b0"/><circle cx="425.5" cy="1430.2" r="3.3" fill="#5a5a5a"/><circle cx="424.4" cy="1460.5" r="3.3" fill="#3a3a3a"/><circle cx="436.9" cy="1434.8" r="1.7" fill="#3a3a3a"/><circle cx="419.9" cy="1418.5" r="2.8" fill="#3a3a3a"/><circle cx="383.2" cy="1419.2" r="2.5" fill="#b0b0b0"/><circle cx="384.4" cy="1406.5" r="3.6" fill="#3a3a3a"/><circle cx="391.5" cy="1445.0" r="4.0" fill="#b0b0b0"/><circle cx="432.3" cy="1401.4" r="2.4" fill="#d0d0d0"/><circle cx="441.1" cy="1434.7" r="2.2" fill="#e8e8e8"/><circle cx="368.2" cy="1424.1" r="4.4" fill="#b0b0b0"/><circle cx="420.3" cy="1402.6" r="3.3" fill="#d0d0d0"/><circle cx="398.2" cy="1438.9" r="2.5" fill="#d0d0d0"/><circle cx="390.5" cy="1430.0" r="3.2" fill="#3a3a3a"/><circle cx="385.4" cy="1459.3" r="2.5" fill="#e8e8e8"/><circle cx="390.5" cy="1463.0" r="1.7" fill="#d0d0d0"/><circle cx="381.8" cy="1398.5" r="2.6" fill="#5a5a5a"/><circle cx="438.2" cy="1423.0" r="4.4" fill="#5a5a5a"/><circle cx="379.0" cy="1455.5" r="3.2" fill="#3a3a3a"/><circle cx="406.4" cy="1468.8" r="2.0" fill="#5a5a5a"/></g>
<g fill="#fff"><rect x="522.80" y="1460.80" width="2.37" height="2.37"/><rect x="524.97" y="1460.80" width="2.37" height="2.37"/><rect x="527.14" y="1460.80" width="2.37" height="2.37"/><rect x="529.30" y="1460.80" width="2.37" height="2.37"/><rect x="531.47" y="1460.80" width="2.37" height="2.37"/><rect x="533.64" y="1460.80" width="2.37" height="2.37"/><rect x="535.81" y="1460.80" width="2.37" height="2.37"/><rect x="540.14" y="1460.80" width="2.37" height="2.37"/><rect x="542.31" y="1460.80" width="2.37" height="2.37"/><rect x="544.48" y="1460.80" width="2.37" height="2.37"/><rect x="546.65" y="1460.80" width="2.37" height="2.37"/><rect x="548.82" y="1460.80" width="2.37" height="2.37"/><rect x="553.15" y="1460.80" width="2.37" height="2.37"/><rect x="555.32" y="1460.80" width="2.37" height="2.37"/><rect x="561.82" y="1460.80" width="2.37" height="2.37"/><rect x="563.99" y="1460.80" width="2.37" height="2.37"/><rect x="566.16" y="1460.80" width="2.37" height="2.37"/><rect x="568.33" y="1460.80" width="2.37" height="2.37"/><rect x="570.50" y="1460.80" width="2.37" height="2.37"/><rect x="572.66" y="1460.80" width="2.37" height="2.37"/><rect x="574.83" y="1460.80" width="2.37" height="2.37"/><rect x="522.80" y="1462.97" width="2.37" height="2.37"/><rect x="535.81" y="1462.97" width="2.37" height="2.37"/><rect x="540.14" y="1462.97" width="2.37" height="2.37"/><rect x="542.31" y="1462.97" width="2.37" height="2.37"/><rect x="544.48" y="1462.97" width="2.37" height="2.37"/><rect x="548.82" y="1462.97" width="2.37" height="2.37"/><rect x="550.98" y="1462.97" width="2.37" height="2.37"/><rect x="555.32" y="1462.97" width="2.37" height="2.37"/><rect x="557.49" y="1462.97" width="2.37" height="2.37"/><rect x="561.82" y="1462.97" width="2.37" height="2.37"/><rect x="574.83" y="1462.97" width="2.37" height="2.37"/><rect x="522.80" y="1465.14" width="2.37" height="2.37"/><rect x="527.14" y="1465.14" width="2.37" height="2.37"/><rect x="529.30" y="1465.14" width="2.37" height="2.37"/><rect x="531.47" y="1465.14" width="2.37" height="2.37"/><rect x="535.81" y="1465.14" width="2.37" height="2.37"/><rect x="546.65" y="1465.14" width="2.37" height="2.37"/><rect x="555.32" y="1465.14" width="2.37" height="2.37"/><rect x="561.82" y="1465.14" width="2.37" height="2.37"/><rect x="566.16" y="1465.14" width="2.37" height="2.37"/><rect x="568.33" y="1465.14" width="2.37" height="2.37"/><rect x="570.50" y="1465.14" width="2.37" height="2.37"/><rect x="574.83" y="1465.14" width="2.37" height="2.37"/><rect x="522.80" y="1467.30" width="2.37" height="2.37"/><rect x="527.14" y="1467.30" width="2.37" height="2.37"/><rect x="529.30" y="1467.30" width="2.37" height="2.37"/><rect x="531.47" y="1467.30" width="2.37" height="2.37"/><rect x="535.81" y="1467.30" width="2.37" height="2.37"/><rect x="537.98" y="1467.30" width="2.37" height="2.37"/><rect x="542.31" y="1467.30" width="2.37" height="2.37"/><rect x="544.48" y="1467.30" width="2.37" height="2.37"/><rect x="546.65" y="1467.30" width="2.37" height="2.37"/><rect x="550.98" y="1467.30" width="2.37" height="2.37"/><rect x="553.15" y="1467.30" width="2.37" height="2.37"/><rect x="561.82" y="1467.30" width="2.37" height="2.37"/><rect x="566.16" y="1467.30" width="2.37" height="2.37"/><rect x="568.33" y="1467.30" width="2.37" height="2.37"/><rect x="570.50" y="1467.30" width="2.37" height="2.37"/><rect x="574.83" y="1467.30" width="2.37" height="2.37"/><rect x="522.80" y="1469.47" width="2.37" height="2.37"/><rect x="527.14" y="1469.47" width="2.37" height="2.37"/><rect x="529.30" y="1469.47" width="2.37" height="2.37"/><rect x="531.47" y="1469.47" width="2.37" height="2.37"/><rect x="535.81" y="1469.47" width="2.37" height="2.37"/><rect x="537.98" y="1469.47" width="2.37" height="2.37"/><rect x="540.14" y="1469.47" width="2.37" height="2.37"/><rect x="555.32" y="1469.47" width="2.37" height="2.37"/><rect x="561.82" y="1469.47" width="2.37" height="2.37"/><rect x="566.16" y="1469.47" width="2.37" height="2.37"/><rect x="568.33" y="1469.47" width="2.37" height="2.37"/><rect x="570.50" y="1469.47" width="2.37" height="2.37"/><rect x="574.83" y="1469.47" width="2.37" height="2.37"/><rect x="522.80" y="1471.64" width="2.37" height="2.37"/><rect x="535.81" y="1471.64" width="2.37" height="2.37"/><rect x="537.98" y="1471.64" width="2.37" height="2.37"/><rect x="540.14" y="1471.64" width="2.37" height="2.37"/><rect x="542.31" y="1471.64" width="2.37" height="2.37"/><rect x="548.82" y="1471.64" width="2.37" height="2.37"/><rect x="550.98" y="1471.64" width="2.37" height="2.37"/><rect x="553.15" y="1471.64" width="2.37" height="2.37"/><rect x="555.32" y="1471.64" width="2.37" height="2.37"/><rect x="557.49" y="1471.64" width="2.37" height="2.37"/><rect x="561.82" y="1471.64" width="2.37" height="2.37"/><rect x="574.83" y="1471.64" width="2.37" height="2.37"/><rect x="522.80" y="1473.81" width="2.37" height="2.37"/><rect x="524.97" y="1473.81" width="2.37" height="2.37"/><rect x="527.14" y="1473.81" width="2.37" height="2.37"/><rect x="529.30" y="1473.81" width="2.37" height="2.37"/><rect x="531.47" y="1473.81" width="2.37" height="2.37"/><rect x="533.64" y="1473.81" width="2.37" height="2.37"/><rect x="535.81" y="1473.81" width="2.37" height="2.37"/><rect x="537.98" y="1473.81" width="2.37" height="2.37"/><rect x="548.82" y="1473.81" width="2.37" height="2.37"/><rect x="550.98" y="1473.81" width="2.37" height="2.37"/><rect x="553.15" y="1473.81" width="2.37" height="2.37"/><rect x="561.82" y="1473.81" width="2.37" height="2.37"/><rect x="563.99" y="1473.81" width="2.37" height="2.37"/><rect x="566.16" y="1473.81" width="2.37" height="2.37"/><rect x="568.33" y="1473.81" width="2.37" height="2.37"/><rect x="570.50" y="1473.81" width="2.37" height="2.37"/><rect x="572.66" y="1473.81" width="2.37" height="2.37"/><rect x="574.83" y="1473.81" width="2.37" height="2.37"/><rect x="524.97" y="1475.98" width="2.37" height="2.37"/><rect x="529.30" y="1475.98" width="2.37" height="2.37"/><rect x="531.47" y="1475.98" width="2.37" height="2.37"/><rect x="533.64" y="1475.98" width="2.37" height="2.37"/><rect x="535.81" y="1475.98" width="2.37" height="2.37"/><rect x="537.98" y="1475.98" width="2.37" height="2.37"/><rect x="544.48" y="1475.98" width="2.37" height="2.37"/><rect x="553.15" y="1475.98" width="2.37" height="2.37"/><rect x="555.32" y="1475.98" width="2.37" height="2.37"/><rect x="557.49" y="1475.98" width="2.37" height="2.37"/><rect x="559.66" y="1475.98" width="2.37" height="2.37"/><rect x="561.82" y="1475.98" width="2.37" height="2.37"/><rect x="570.50" y="1475.98" width="2.37" height="2.37"/><rect x="522.80" y="1478.14" width="2.37" height="2.37"/><rect x="533.64" y="1478.14" width="2.37" height="2.37"/><rect x="535.81" y="1478.14" width="2.37" height="2.37"/><rect x="540.14" y="1478.14" width="2.37" height="2.37"/><rect x="546.65" y="1478.14" width="2.37" height="2.37"/><rect x="548.82" y="1478.14" width="2.37" height="2.37"/><rect x="555.32" y="1478.14" width="2.37" height="2.37"/><rect x="557.49" y="1478.14" width="2.37" height="2.37"/><rect x="559.66" y="1478.14" width="2.37" height="2.37"/><rect x="566.16" y="1478.14" width="2.37" height="2.37"/><rect x="574.83" y="1478.14" width="2.37" height="2.37"/><rect x="524.97" y="1480.31" width="2.37" height="2.37"/><rect x="527.14" y="1480.31" width="2.37" height="2.37"/><rect x="537.98" y="1480.31" width="2.37" height="2.37"/><rect x="544.48" y="1480.31" width="2.37" height="2.37"/><rect x="546.65" y="1480.31" width="2.37" height="2.37"/><rect x="548.82" y="1480.31" width="2.37" height="2.37"/><rect x="550.98" y="1480.31" width="2.37" height="2.37"/><rect x="555.32" y="1480.31" width="2.37" height="2.37"/><rect x="557.49" y="1480.31" width="2.37" height="2.37"/><rect x="559.66" y="1480.31" width="2.37" height="2.37"/><rect x="563.99" y="1480.31" width="2.37" height="2.37"/><rect x="566.16" y="1480.31" width="2.37" height="2.37"/><rect x="572.66" y="1480.31" width="2.37" height="2.37"/><rect x="529.30" y="1482.48" width="2.37" height="2.37"/><rect x="531.47" y="1482.48" width="2.37" height="2.37"/><rect x="533.64" y="1482.48" width="2.37" height="2.37"/><rect x="535.81" y="1482.48" width="2.37" height="2.37"/><rect x="540.14" y="1482.48" width="2.37" height="2.37"/><rect x="542.31" y="1482.48" width="2.37" height="2.37"/><rect x="548.82" y="1482.48" width="2.37" height="2.37"/><rect x="557.49" y="1482.48" width="2.37" height="2.37"/><rect x="561.82" y="1482.48" width="2.37" height="2.37"/><rect x="563.99" y="1482.48" width="2.37" height="2.37"/><rect x="522.80" y="1484.65" width="2.37" height="2.37"/><rect x="533.64" y="1484.65" width="2.37" height="2.37"/><rect x="537.98" y="1484.65" width="2.37" height="2.37"/><rect x="548.82" y="1484.65" width="2.37" height="2.37"/><rect x="557.49" y="1484.65" width="2.37" height="2.37"/><rect x="559.66" y="1484.65" width="2.37" height="2.37"/><rect x="561.82" y="1484.65" width="2.37" height="2.37"/><rect x="563.99" y="1484.65" width="2.37" height="2.37"/><rect x="566.16" y="1484.65" width="2.37" height="2.37"/><rect x="568.33" y="1484.65" width="2.37" height="2.37"/><rect x="522.80" y="1486.82" width="2.37" height="2.37"/><rect x="529.30" y="1486.82" width="2.37" height="2.37"/><rect x="535.81" y="1486.82" width="2.37" height="2.37"/><rect x="540.14" y="1486.82" width="2.37" height="2.37"/><rect x="542.31" y="1486.82" width="2.37" height="2.37"/><rect x="548.82" y="1486.82" width="2.37" height="2.37"/><rect x="550.98" y="1486.82" width="2.37" height="2.37"/><rect x="555.32" y="1486.82" width="2.37" height="2.37"/><rect x="557.49" y="1486.82" width="2.37" height="2.37"/><rect x="559.66" y="1486.82" width="2.37" height="2.37"/><rect x="563.99" y="1486.82" width="2.37" height="2.37"/><rect x="568.33" y="1486.82" width="2.37" height="2.37"/><rect x="570.50" y="1486.82" width="2.37" height="2.37"/><rect x="572.66" y="1486.82" width="2.37" height="2.37"/><rect x="524.97" y="1488.98" width="2.37" height="2.37"/><rect x="533.64" y="1488.98" width="2.37" height="2.37"/><rect x="535.81" y="1488.98" width="2.37" height="2.37"/><rect x="537.98" y="1488.98" width="2.37" height="2.37"/><rect x="542.31" y="1488.98" width="2.37" height="2.37"/><rect x="544.48" y="1488.98" width="2.37" height="2.37"/><rect x="546.65" y="1488.98" width="2.37" height="2.37"/><rect x="553.15" y="1488.98" width="2.37" height="2.37"/><rect x="555.32" y="1488.98" width="2.37" height="2.37"/><rect x="563.99" y="1488.98" width="2.37" height="2.37"/><rect x="566.16" y="1488.98" width="2.37" height="2.37"/><rect x="570.50" y="1488.98" width="2.37" height="2.37"/><rect x="572.66" y="1488.98" width="2.37" height="2.37"/><rect x="527.14" y="1491.15" width="2.37" height="2.37"/><rect x="531.47" y="1491.15" width="2.37" height="2.37"/><rect x="535.81" y="1491.15" width="2.37" height="2.37"/><rect x="537.98" y="1491.15" width="2.37" height="2.37"/><rect x="544.48" y="1491.15" width="2.37" height="2.37"/><rect x="546.65" y="1491.15" width="2.37" height="2.37"/><rect x="550.98" y="1491.15" width="2.37" height="2.37"/><rect x="553.15" y="1491.15" width="2.37" height="2.37"/><rect x="555.32" y="1491.15" width="2.37" height="2.37"/><rect x="557.49" y="1491.15" width="2.37" height="2.37"/><rect x="559.66" y="1491.15" width="2.37" height="2.37"/><rect x="561.82" y="1491.15" width="2.37" height="2.37"/><rect x="563.99" y="1491.15" width="2.37" height="2.37"/><rect x="568.33" y="1491.15" width="2.37" height="2.37"/><rect x="572.66" y="1491.15" width="2.37" height="2.37"/><rect x="574.83" y="1491.15" width="2.37" height="2.37"/><rect x="522.80" y="1493.32" width="2.37" height="2.37"/><rect x="524.97" y="1493.32" width="2.37" height="2.37"/><rect x="527.14" y="1493.32" width="2.37" height="2.37"/><rect x="533.64" y="1493.32" width="2.37" height="2.37"/><rect x="535.81" y="1493.32" width="2.37" height="2.37"/><rect x="540.14" y="1493.32" width="2.37" height="2.37"/><rect x="544.48" y="1493.32" width="2.37" height="2.37"/><rect x="546.65" y="1493.32" width="2.37" height="2.37"/><rect x="550.98" y="1493.32" width="2.37" height="2.37"/><rect x="559.66" y="1493.32" width="2.37" height="2.37"/><rect x="568.33" y="1493.32" width="2.37" height="2.37"/><rect x="570.50" y="1493.32" width="2.37" height="2.37"/><rect x="572.66" y="1493.32" width="2.37" height="2.37"/><rect x="574.83" y="1493.32" width="2.37" height="2.37"/><rect x="522.80" y="1495.49" width="2.37" height="2.37"/><rect x="527.14" y="1495.49" width="2.37" height="2.37"/><rect x="529.30" y="1495.49" width="2.37" height="2.37"/><rect x="531.47" y="1495.49" width="2.37" height="2.37"/><rect x="540.14" y="1495.49" width="2.37" height="2.37"/><rect x="542.31" y="1495.49" width="2.37" height="2.37"/><rect x="544.48" y="1495.49" width="2.37" height="2.37"/><rect x="546.65" y="1495.49" width="2.37" height="2.37"/><rect x="548.82" y="1495.49" width="2.37" height="2.37"/><rect x="550.98" y="1495.49" width="2.37" height="2.37"/><rect x="553.15" y="1495.49" width="2.37" height="2.37"/><rect x="561.82" y="1495.49" width="2.37" height="2.37"/><rect x="566.16" y="1495.49" width="2.37" height="2.37"/><rect x="568.33" y="1495.49" width="2.37" height="2.37"/><rect x="570.50" y="1495.49" width="2.37" height="2.37"/><rect x="572.66" y="1495.49" width="2.37" height="2.37"/><rect x="574.83" y="1495.49" width="2.37" height="2.37"/><rect x="537.98" y="1497.66" width="2.37" height="2.37"/><rect x="540.14" y="1497.66" width="2.37" height="2.37"/><rect x="542.31" y="1497.66" width="2.37" height="2.37"/><rect x="544.48" y="1497.66" width="2.37" height="2.37"/><rect x="559.66" y="1497.66" width="2.37" height="2.37"/><rect x="561.82" y="1497.66" width="2.37" height="2.37"/><rect x="566.16" y="1497.66" width="2.37" height="2.37"/><rect x="572.66" y="1497.66" width="2.37" height="2.37"/><rect x="522.80" y="1499.82" width="2.37" height="2.37"/><rect x="524.97" y="1499.82" width="2.37" height="2.37"/><rect x="527.14" y="1499.82" width="2.37" height="2.37"/><rect x="529.30" y="1499.82" width="2.37" height="2.37"/><rect x="531.47" y="1499.82" width="2.37" height="2.37"/><rect x="533.64" y="1499.82" width="2.37" height="2.37"/><rect x="535.81" y="1499.82" width="2.37" height="2.37"/><rect x="553.15" y="1499.82" width="2.37" height="2.37"/><rect x="555.32" y="1499.82" width="2.37" height="2.37"/><rect x="557.49" y="1499.82" width="2.37" height="2.37"/><rect x="559.66" y="1499.82" width="2.37" height="2.37"/><rect x="561.82" y="1499.82" width="2.37" height="2.37"/><rect x="574.83" y="1499.82" width="2.37" height="2.37"/><rect x="522.80" y="1501.99" width="2.37" height="2.37"/><rect x="535.81" y="1501.99" width="2.37" height="2.37"/><rect x="540.14" y="1501.99" width="2.37" height="2.37"/><rect x="542.31" y="1501.99" width="2.37" height="2.37"/><rect x="544.48" y="1501.99" width="2.37" height="2.37"/><rect x="548.82" y="1501.99" width="2.37" height="2.37"/><rect x="555.32" y="1501.99" width="2.37" height="2.37"/><rect x="557.49" y="1501.99" width="2.37" height="2.37"/><rect x="559.66" y="1501.99" width="2.37" height="2.37"/><rect x="570.50" y="1501.99" width="2.37" height="2.37"/><rect x="572.66" y="1501.99" width="2.37" height="2.37"/><rect x="574.83" y="1501.99" width="2.37" height="2.37"/><rect x="522.80" y="1504.16" width="2.37" height="2.37"/><rect x="527.14" y="1504.16" width="2.37" height="2.37"/><rect x="529.30" y="1504.16" width="2.37" height="2.37"/><rect x="531.47" y="1504.16" width="2.37" height="2.37"/><rect x="535.81" y="1504.16" width="2.37" height="2.37"/><rect x="542.31" y="1504.16" width="2.37" height="2.37"/><rect x="546.65" y="1504.16" width="2.37" height="2.37"/><rect x="548.82" y="1504.16" width="2.37" height="2.37"/><rect x="550.98" y="1504.16" width="2.37" height="2.37"/><rect x="555.32" y="1504.16" width="2.37" height="2.37"/><rect x="561.82" y="1504.16" width="2.37" height="2.37"/><rect x="563.99" y="1504.16" width="2.37" height="2.37"/><rect x="570.50" y="1504.16" width="2.37" height="2.37"/><rect x="572.66" y="1504.16" width="2.37" height="2.37"/><rect x="574.83" y="1504.16" width="2.37" height="2.37"/><rect x="522.80" y="1506.33" width="2.37" height="2.37"/><rect x="527.14" y="1506.33" width="2.37" height="2.37"/><rect x="529.30" y="1506.33" width="2.37" height="2.37"/><rect x="531.47" y="1506.33" width="2.37" height="2.37"/><rect x="535.81" y="1506.33" width="2.37" height="2.37"/><rect x="546.65" y="1506.33" width="2.37" height="2.37"/><rect x="550.98" y="1506.33" width="2.37" height="2.37"/><rect x="553.15" y="1506.33" width="2.37" height="2.37"/><rect x="555.32" y="1506.33" width="2.37" height="2.37"/><rect x="557.49" y="1506.33" width="2.37" height="2.37"/><rect x="559.66" y="1506.33" width="2.37" height="2.37"/><rect x="561.82" y="1506.33" width="2.37" height="2.37"/><rect x="563.99" y="1506.33" width="2.37" height="2.37"/><rect x="566.16" y="1506.33" width="2.37" height="2.37"/><rect x="568.33" y="1506.33" width="2.37" height="2.37"/><rect x="572.66" y="1506.33" width="2.37" height="2.37"/><rect x="522.80" y="1508.50" width="2.37" height="2.37"/><rect x="527.14" y="1508.50" width="2.37" height="2.37"/><rect x="529.30" y="1508.50" width="2.37" height="2.37"/><rect x="531.47" y="1508.50" width="2.37" height="2.37"/><rect x="535.81" y="1508.50" width="2.37" height="2.37"/><rect x="537.98" y="1508.50" width="2.37" height="2.37"/><rect x="544.48" y="1508.50" width="2.37" height="2.37"/><rect x="546.65" y="1508.50" width="2.37" height="2.37"/><rect x="548.82" y="1508.50" width="2.37" height="2.37"/><rect x="550.98" y="1508.50" width="2.37" height="2.37"/><rect x="553.15" y="1508.50" width="2.37" height="2.37"/><rect x="557.49" y="1508.50" width="2.37" height="2.37"/><rect x="561.82" y="1508.50" width="2.37" height="2.37"/><rect x="563.99" y="1508.50" width="2.37" height="2.37"/><rect x="568.33" y="1508.50" width="2.37" height="2.37"/><rect x="570.50" y="1508.50" width="2.37" height="2.37"/><rect x="522.80" y="1510.66" width="2.37" height="2.37"/><rect x="535.81" y="1510.66" width="2.37" height="2.37"/><rect x="540.14" y="1510.66" width="2.37" height="2.37"/><rect x="546.65" y="1510.66" width="2.37" height="2.37"/><rect x="548.82" y="1510.66" width="2.37" height="2.37"/><rect x="553.15" y="1510.66" width="2.37" height="2.37"/><rect x="555.32" y="1510.66" width="2.37" height="2.37"/><rect x="557.49" y="1510.66" width="2.37" height="2.37"/><rect x="559.66" y="1510.66" width="2.37" height="2.37"/><rect x="566.16" y="1510.66" width="2.37" height="2.37"/><rect x="570.50" y="1510.66" width="2.37" height="2.37"/><rect x="574.83" y="1510.66" width="2.37" height="2.37"/><rect x="522.80" y="1512.83" width="2.37" height="2.37"/><rect x="524.97" y="1512.83" width="2.37" height="2.37"/><rect x="527.14" y="1512.83" width="2.37" height="2.37"/><rect x="529.30" y="1512.83" width="2.37" height="2.37"/><rect x="531.47" y="1512.83" width="2.37" height="2.37"/><rect x="533.64" y="1512.83" width="2.37" height="2.37"/><rect x="535.81" y="1512.83" width="2.37" height="2.37"/><rect x="540.14" y="1512.83" width="2.37" height="2.37"/><rect x="542.31" y="1512.83" width="2.37" height="2.37"/><rect x="544.48" y="1512.83" width="2.37" height="2.37"/><rect x="546.65" y="1512.83" width="2.37" height="2.37"/><rect x="548.82" y="1512.83" width="2.37" height="2.37"/><rect x="550.98" y="1512.83" width="2.37" height="2.37"/><rect x="553.15" y="1512.83" width="2.37" height="2.37"/><rect x="555.32" y="1512.83" width="2.37" height="2.37"/><rect x="563.99" y="1512.83" width="2.37" height="2.37"/><rect x="566.16" y="1512.83" width="2.37" height="2.37"/><rect x="570.50" y="1512.83" width="2.37" height="2.37"/><rect x="572.66" y="1512.83" width="2.37" height="2.37"/><rect x="574.83" y="1512.83" width="2.37" height="2.37"/></g>
<g fill="none" stroke="#c0c0c0" stroke-width="4.6" stroke-linejoin="round">
<path d="M96.5,1155.8 V1135.5 Q96.5,1130.6 101.5,1130.6 H117.1 Q122.1,1130.6 122.1,1135.5 V1155.8 M96.5,1144 H122.1"/>
<path d="M133.2,1155.8 V1130.6 H154.7 Q159.7,1130.6 159.7,1135.5 V1138.6 Q159.7,1143.5 154.7,1143.5 H133.2 M149.5,1143.5 L159.7,1155.8"/>
<path d="M165.7,1130.6 H197 M181.35,1130.6 V1155.8"/>
<path d="M202.4,1128.3 V1155.8"/>
<path d="M230.5,1130.6 H217 Q212.1,1130.6 212.1,1135.5 V1148.6 Q212.1,1153.5 217,1153.5 H230.5"/>
<path d="M268,1155.8 V1130.6 L292.7,1155.8 V1128.3 M268,1128.3 V1133"/>
</g>
<path d="M244.3,1130.6 H241.7 Q236.8,1130.6 236.8,1135.5 V1148.6 Q236.8,1153.5 241.7,1153.5 H254.8 Q259.7,1153.5 259.7,1148.6 V1135.5 Q259.7,1130.6 254.8,1130.6 H252.2" fill="none" stroke="#2b9ad8" stroke-width="4.6"/>
<rect x="246.3" y="1124.6" width="4" height="10.5" fill="#e39a3a"/>
</svg>
<div class="t S" style="top:72.72px;font-size:53.5px;line-height:53.5px;color:#fff;font-weight:700;left:90.30px;transform-origin:0 0;transform:scaleX(0.7138);text-shadow:0 0 2px rgba(90,10,10,0.55);">EXCLUSIVE WAGE REPORT</div>
<div class="t R" style="top:205.69px;font-size:17px;line-height:17px;color:#777;font-style:italic;left:77.00px;transform-origin:0 0;transform:scaleX(0.9881);">Continued</div>
<div class="t R" style="top:233.46px;font-size:16.8px;line-height:16.8px;color:#151515;left:87.30px;transform-origin:0 0;">larger labs have been three</div>
<div class="t R" style="top:253.33px;font-size:16.8px;line-height:16.8px;color:#151515;left:87.30px;transform-origin:0 0;">times more likely to expand</div>
<div class="t R" style="top:273.20px;font-size:16.8px;line-height:16.8px;color:#151515;left:87.30px;transform-origin:0 0;">their benefits package to attract</div>
<div class="t R" style="top:293.07px;font-size:16.8px;line-height:16.8px;color:#151515;left:87.30px;transform-origin:0 0;">new employees or retain current</div>
<div class="t R" style="top:312.94px;font-size:16.8px;line-height:16.8px;color:#151515;left:87.30px;transform-origin:0 0;">staff. “We’ve enhanced our bonus</div>
<div class="t R" style="top:332.81px;font-size:16.8px;line-height:16.8px;color:#151515;left:87.30px;transform-origin:0 0;">plan and are offering more paid</div>
<div class="t R" style="top:352.68px;font-size:16.8px;line-height:16.8px;color:#151515;left:87.30px;transform-origin:0 0;">time off, higher 401(k) match and</div>
<div class="t R" style="top:372.55px;font-size:16.8px;line-height:16.8px;color:#151515;left:87.30px;transform-origin:0 0;">vacation time that starts sooner. It</div>
<div class="t R" style="top:392.42px;font-size:16.8px;line-height:16.8px;color:#151515;left:87.30px;transform-origin:0 0;">was a big expense but important</div>
<div class="t R" style="top:412.29px;font-size:16.8px;line-height:16.8px;color:#151515;left:87.30px;transform-origin:0 0;">for morale and retention!” says</div>
<div class="t R" style="top:432.16px;font-size:16.8px;line-height:16.8px;color:#151515;left:87.30px;transform-origin:0 0;">Arlen Hurt, Chief Clinical Officer</div>
<div class="t R" style="top:452.03px;font-size:16.8px;line-height:16.8px;color:#151515;left:87.30px;transform-origin:0 0;">at the 235-employee Specialty</div>
<div class="t R" style="top:471.90px;font-size:16.8px;line-height:16.8px;color:#151515;left:87.30px;transform-origin:0 0;">Appliances, Cumming, GA.</div>
<div class="t S" style="top:517.07px;font-size:18.5px;line-height:18.5px;color:#c5553b;font-weight:700;left:87.50px;transform-origin:0 0;transform:scaleX(0.9348);">How’s Business</div>
<div class="t R" style="top:552.16px;font-size:16.8px;line-height:16.8px;color:#151515;left:87.30px;transform-origin:0 0;">While some respondents</div>
<div class="t R" style="top:572.00px;font-size:16.8px;line-height:16.8px;color:#151515;left:87.30px;transform-origin:0 0;">acknowledge economic pres-</div>
<div class="t R" style="top:591.84px;font-size:16.8px;line-height:16.8px;color:#151515;left:87.30px;transform-origin:0 0;">sures, overall, there’s encourag-</div>
<div class="t R" style="top:611.68px;font-size:16.8px;line-height:16.8px;color:#151515;left:87.30px;transform-origin:0 0;">ing news about how labs are</div>
<div class="t R" style="top:631.52px;font-size:16.8px;line-height:16.8px;color:#151515;left:87.30px;transform-origin:0 0;">faring: 71% of respondents rate</div>
<div class="t R" style="top:651.36px;font-size:16.8px;line-height:16.8px;color:#151515;left:87.30px;transform-origin:0 0;">the current state of their business</div>
<div class="t R" style="top:671.20px;font-size:16.8px;line-height:16.8px;color:#151515;left:87.30px;transform-origin:0 0;">as “good” or “booming.” “Right</div>
<div class="t R" style="top:691.04px;font-size:16.8px;line-height:16.8px;color:#151515;left:87.30px;transform-origin:0 0;">now we’re  exactly where we</div>
<div class="t R" style="top:710.88px;font-size:16.8px;line-height:16.8px;color:#151515;left:87.30px;transform-origin:0 0;">want to be and have been for</div>
<div class="t R" style="top:730.72px;font-size:16.8px;line-height:16.8px;color:#151515;left:87.30px;transform-origin:0 0;">two years and I will try my best</div>
<div class="t R" style="top:750.56px;font-size:16.8px;line-height:16.8px;color:#151515;left:87.30px;transform-origin:0 0;">to keep it that way! Business is</div>
<div class="t R" style="top:770.40px;font-size:16.8px;line-height:16.8px;color:#151515;left:87.30px;transform-origin:0 0;">great and the amount of work</div>
<div class="t R" style="top:213.46px;font-size:16.8px;line-height:16.8px;color:#151515;left:352.50px;transform-origin:0 0;">is perfect. We have a four-day</div>
<div class="t R" style="top:233.33px;font-size:16.8px;line-height:16.8px;color:#151515;left:352.50px;transform-origin:0 0;">work week and that will never</div>
<div class="t R" style="top:253.20px;font-size:16.8px;line-height:16.8px;color:#151515;left:352.50px;transform-origin:0 0;">change,” says Kendra Pascute,</div>
<div class="t R" style="top:273.07px;font-size:16.8px;line-height:16.8px;color:#151515;left:352.50px;transform-origin:0 0;">COO, Indiana Dental Designs,</div>
<div class="t R" style="top:292.94px;font-size:16.8px;line-height:16.8px;color:#151515;left:352.50px;transform-origin:0 0;">Grabill, IN.</div>
<div class="t R" style="top:312.81px;font-size:16.8px;line-height:16.8px;color:#151515;left:370.00px;transform-origin:0 0;">On the other hand, the 29%</div>
<div class="t R" style="top:332.68px;font-size:16.8px;line-height:16.8px;color:#151515;left:352.50px;transform-origin:0 0;">who say business is “poor” or</div>
<div class="t R" style="top:352.55px;font-size:16.8px;line-height:16.8px;color:#151515;left:352.50px;transform-origin:0 0;">“fair” are hampered by slow</div>
<div class="t R" style="top:372.42px;font-size:16.8px;line-height:16.8px;color:#151515;left:352.50px;transform-origin:0 0;">sales, inconsistent workflows,</div>
<div class="t R" style="top:392.29px;font-size:16.8px;line-height:16.8px;color:#151515;left:352.50px;transform-origin:0 0;">inflation, ongoing price pressure</div>
<div class="t R" style="top:412.16px;font-size:16.8px;line-height:16.8px;color:#151515;left:352.50px;transform-origin:0 0;">from dentists and economic</div>
<div class="t R" style="top:432.03px;font-size:16.8px;line-height:16.8px;color:#151515;left:352.50px;transform-origin:0 0;">uncertainty. Some of these</div>
<div class="t R" style="top:451.90px;font-size:16.8px;line-height:16.8px;color:#151515;left:352.50px;transform-origin:0 0;">owners and managers expressed</div>
<div class="t R" style="top:471.77px;font-size:16.8px;line-height:16.8px;color:#151515;left:352.50px;transform-origin:0 0;">frustration at being unable to pay</div>
<div class="t R" style="top:491.64px;font-size:16.8px;line-height:16.8px;color:#151515;left:352.50px;transform-origin:0 0;">their technicians higher wages.</div>
<div class="t R" style="top:511.51px;font-size:16.8px;line-height:16.8px;color:#151515;left:370.00px;transform-origin:0 0;">“Staying competitive in</div>
<div class="t R" style="top:531.38px;font-size:16.8px;line-height:16.8px;color:#151515;left:352.50px;transform-origin:0 0;">Washington state is tough. No</div>
<div class="t R" style="top:551.25px;font-size:16.8px;line-height:16.8px;color:#151515;left:352.50px;transform-origin:0 0;">one really wants to learn a trade</div>
<div class="t R" style="top:571.12px;font-size:16.8px;line-height:16.8px;color:#151515;left:352.50px;transform-origin:0 0;">when they can get paid more</div>
<div class="t R" style="top:590.99px;font-size:16.8px;line-height:16.8px;color:#151515;left:352.50px;transform-origin:0 0;">working at the mall,” says the</div>
<div class="t R" style="top:610.86px;font-size:16.8px;line-height:16.8px;color:#151515;left:352.50px;transform-origin:0 0;">owner of a small lab in the state.</div>
<div class="t R" style="top:630.73px;font-size:16.8px;line-height:16.8px;color:#151515;left:352.50px;transform-origin:0 0;">“Thankfully, the technicians</div>
<div class="t R" style="top:650.60px;font-size:16.8px;line-height:16.8px;color:#151515;left:352.50px;transform-origin:0 0;">we do have are pretty happy</div>
<div class="t R" style="top:670.47px;font-size:16.8px;line-height:16.8px;color:#151515;left:352.50px;transform-origin:0 0;">here—even though they are</div>
<div class="t R" style="top:690.34px;font-size:16.8px;line-height:16.8px;color:#151515;left:352.50px;transform-origin:0 0;">underpaid and they know</div>
<div class="t R" style="top:710.21px;font-size:16.8px;line-height:16.8px;color:#151515;left:352.50px;transform-origin:0 0;">it—because we offer a very</div>
<div class="t R" style="top:730.08px;font-size:16.8px;line-height:16.8px;color:#151515;left:352.50px;transform-origin:0 0;">laid-back and comfortable work</div>
<div class="t R" style="top:749.95px;font-size:16.8px;line-height:16.8px;color:#151515;left:352.50px;transform-origin:0 0;">environment.”</div>
<div class="t R" style="top:773.69px;font-size:17px;line-height:17px;color:#777;font-style:italic;right:612.00px;transform-origin:100% 0;transform:scaleX(0.9815);">Coverage continues</div>
<div class="t S" style="top:843.49px;font-size:25.9px;line-height:25.9px;color:#606060;left:332.20px;transform-origin:0 0;transform:translateX(-50%) scaleX(0.9904);transform-origin:50% 0;">What is the highest paid position</div>
<div class="t S" style="top:877.08px;font-size:25.9px;line-height:25.9px;color:#606060;left:332.10px;transform-origin:0 0;transform:translateX(-50%) scaleX(0.9902);transform-origin:50% 0;">in the laboratory? Implant technicians with</div>
<div class="t S" style="top:910.58px;font-size:25.9px;line-height:25.9px;color:#606060;left:332.65px;transform-origin:0 0;transform:translateX(-50%) scaleX(0.9649);transform-origin:50% 0;">16 or more years of experience who earn</div>
<div class="t S" style="top:944.18px;font-size:25.9px;line-height:25.9px;color:#606060;left:331.65px;transform-origin:0 0;transform:translateX(-50%) scaleX(0.9440);transform-origin:50% 0;">an average of $37.33 per hour.</div>
<div class="t S" style="top:1032.11px;font-size:16.7px;line-height:16.7px;color:#555;left:90.50px;transform-origin:0 0;transform:scaleX(0.9240);"><span style="color:#1a1a1a">Editor’s Note:</span> Special thanks to all of the respondents to LMT’s <i>2024</i></div>
<div class="t S" style="top:1051.61px;font-size:16.7px;line-height:16.7px;color:#555;left:90.50px;transform-origin:0 0;transform:scaleX(0.9379);"><i>Wage Survey;</i> we couldn’t do it without you!</div>
<div class="t S" style="top:204.30px;font-size:30px;line-height:30px;color:#111;font-weight:700;left:624.90px;transform-origin:0 0;transform:scaleX(0.8271);">Majority of Lab Operators Report</div>
<div class="t S" style="top:237.40px;font-size:30px;line-height:30px;color:#111;font-weight:700;left:624.90px;transform-origin:0 0;transform:scaleX(0.8119);">Good News on the State of their Business</div>
<div class="t S" style="top:709.20px;font-size:30px;line-height:30px;color:#111;font-weight:700;left:623.90px;transform-origin:0 0;transform:scaleX(0.8084);">Labor-Saving Efforts Top List</div>
<div class="t S" style="top:741.60px;font-size:30px;line-height:30px;color:#111;font-weight:700;left:623.90px;transform-origin:0 0;transform:scaleX(0.8144);">of Personnel Strategies</div>
<div class="t S" style="top:302.15px;font-size:19px;line-height:19px;color:#111;font-weight:700;left:866.25px;transform-origin:0 0;transform:translateX(-50%) scaleX(1.0391);transform-origin:50% 0;">23<span style="font-size:0.68em">%</span></div>
<div class="t S" style="top:325.77px;font-size:18.5px;line-height:18.5px;color:#555;left:865.65px;transform-origin:0 0;transform:translateX(-50%) scaleX(0.9860);transform-origin:50% 0;">Business is booming</div>
<div class="t S" style="top:400.55px;font-size:19px;line-height:19px;color:#111;font-weight:700;left:685.00px;transform-origin:0 0;transform:translateX(-50%) scaleX(1.0652);transform-origin:50% 0;">9<span style="font-size:0.68em">%</span></div>
<div class="t S" style="top:423.07px;font-size:18.5px;line-height:18.5px;color:#555;left:685.00px;transform-origin:0 0;transform:translateX(-50%) scaleX(0.9324);transform-origin:50% 0;">Business</div>
<div class="t S" style="top:445.77px;font-size:18.5px;line-height:18.5px;color:#555;left:685.30px;transform-origin:0 0;transform:translateX(-50%) scaleX(1.0084);transform-origin:50% 0;">is poor</div>
<div class="t S" style="top:454.40px;font-size:19px;line-height:19px;color:#111;font-weight:700;left:1060.00px;transform-origin:0 0;transform:translateX(-50%) scaleX(1.0575);transform-origin:50% 0;">48<span style="font-size:0.68em">%</span></div>
<div class="t S" style="top:478.07px;font-size:18.5px;line-height:18.5px;color:#555;left:1060.20px;transform-origin:0 0;transform:translateX(-50%) scaleX(0.9855);transform-origin:50% 0;">It’s good</div>
<div class="t S" style="top:558.65px;font-size:19px;line-height:19px;color:#111;font-weight:700;left:703.30px;transform-origin:0 0;transform:translateX(-50%) scaleX(1.0728);transform-origin:50% 0;">20<span style="font-size:0.68em">%</span></div>
<div class="t S" style="top:581.07px;font-size:18.5px;line-height:18.5px;color:#555;left:703.70px;transform-origin:0 0;transform:translateX(-50%) scaleX(0.9860);transform-origin:50% 0;">It’s fair</div>
<div class="t S" style="top:659.63px;font-size:12.2px;line-height:12.2px;color:#333;left:929.00px;transform-origin:0 0;transform:scaleX(0.8713);">SOURCE: LMT Research Dept. ©2024</div>
<div class="t S" style="top:802.67px;font-size:14.5px;line-height:14.5px;color:#555;right:391.80px;transform-origin:100% 0;transform:scaleX(1.0963);">Investing in new</div>
<div class="t S" style="top:820.47px;font-size:14.5px;line-height:14.5px;color:#555;right:391.80px;transform-origin:100% 0;transform:scaleX(1.0989);">labor-saving technology</div>
<div class="t S" style="top:805.80px;font-size:22px;line-height:22px;color:#111;font-weight:700;left:1072.00px;transform-origin:0 0;transform:scaleX(0.9510);">48<span style="font-size:0.7em">%</span></div>
<div class="t S" style="top:867.17px;font-size:14.5px;line-height:14.5px;color:#555;right:391.80px;transform-origin:100% 0;transform:scaleX(1.0680);">Increasing level</div>
<div class="t S" style="top:884.87px;font-size:14.5px;line-height:14.5px;color:#555;right:391.80px;transform-origin:100% 0;transform:scaleX(1.1242);">of training</div>
<div class="t S" style="top:866.50px;font-size:22px;line-height:22px;color:#111;font-weight:700;left:1029.00px;transform-origin:0 0;transform:scaleX(0.9483);">40<span style="font-size:0.7em">%</span></div>
<div class="t S" style="top:931.27px;font-size:14.5px;line-height:14.5px;color:#555;right:391.80px;transform-origin:100% 0;transform:scaleX(1.0625);">Increasing wages</div>
<div class="t S" style="top:927.10px;font-size:22px;line-height:22px;color:#111;font-weight:700;left:984.90px;transform-origin:0 0;transform:scaleX(0.9457);">30<span style="font-size:0.7em">%</span></div>
<div class="t S" style="top:984.47px;font-size:14.5px;line-height:14.5px;color:#555;right:391.80px;transform-origin:100% 0;transform:scaleX(1.1105);">Outsourcing work</div>
<div class="t S" style="top:1003.17px;font-size:14.5px;line-height:14.5px;color:#555;right:391.80px;transform-origin:100% 0;transform:scaleX(1.0192);">in the U.S.</div>
<div class="t S" style="top:988.30px;font-size:22px;line-height:22px;color:#111;font-weight:700;left:985.80px;transform-origin:0 0;transform:scaleX(0.9379);">30<span style="font-size:0.7em">%</span></div>
<div class="t S" style="top:1043.67px;font-size:14.5px;line-height:14.5px;color:#555;right:391.80px;transform-origin:100% 0;transform:scaleX(1.0431);">Raising prices</div>
<div class="t S" style="top:1061.67px;font-size:14.5px;line-height:14.5px;color:#555;right:391.80px;transform-origin:100% 0;transform:scaleX(1.0691);">to reduce caseload</div>
<div class="t S" style="top:1049.80px;font-size:22px;line-height:22px;color:#111;font-weight:700;left:922.40px;transform-origin:0 0;transform:scaleX(0.9038);">18<span style="font-size:0.7em">%</span></div>
<div class="t S" style="top:1103.97px;font-size:14.5px;line-height:14.5px;color:#555;right:391.80px;transform-origin:100% 0;transform:scaleX(1.1043);">Outsourcing work</div>
<div class="t S" style="top:1122.07px;font-size:14.5px;line-height:14.5px;color:#555;right:391.80px;transform-origin:100% 0;transform:scaleX(1.0112);">overseas</div>
<div class="t S" style="top:1110.60px;font-size:22px;line-height:22px;color:#111;font-weight:700;left:901.40px;transform-origin:0 0;transform:scaleX(0.9143);">15<span style="font-size:0.7em">%</span></div>
<div class="t S" style="top:1164.17px;font-size:14.5px;line-height:14.5px;color:#555;right:391.80px;transform-origin:100% 0;transform:scaleX(1.0723);">Accepting less work</div>
<div class="t S" style="top:1182.47px;font-size:14.5px;line-height:14.5px;color:#555;right:391.80px;transform-origin:100% 0;transform:scaleX(1.0691);">to reduce caseload</div>
<div class="t S" style="top:1171.80px;font-size:22px;line-height:22px;color:#111;font-weight:700;left:870.80px;transform-origin:0 0;transform:scaleX(0.9253);">8<span style="font-size:0.7em">%</span></div>
<div class="t S" style="top:1224.47px;font-size:14.5px;line-height:14.5px;color:#555;right:391.80px;transform-origin:100% 0;transform:scaleX(1.0708);">Enhancing my</div>
<div class="t S" style="top:1242.67px;font-size:14.5px;line-height:14.5px;color:#555;right:391.80px;transform-origin:100% 0;transform:scaleX(1.0790);">benefits package</div>
<div class="t S" style="top:1232.90px;font-size:22px;line-height:22px;color:#111;font-weight:700;left:867.50px;transform-origin:0 0;transform:scaleX(0.9253);">8<span style="font-size:0.7em">%</span></div>
<div class="t S" style="top:1297.77px;font-size:14.5px;line-height:14.5px;color:#555;right:88.00px;transform-origin:100% 0;transform:scaleX(0.9384);"><i>Respondents could check all that apply</i></div>
<div class="t S" style="top:1316.38px;font-size:14.5px;line-height:14.5px;color:#555;right:88.00px;transform-origin:100% 0;transform:scaleX(0.9293);"><i>so percentages don’t total 100.</i></div>
<div class="t S" style="top:1358.03px;font-size:12.2px;line-height:12.2px;color:#333;left:929.00px;transform-origin:0 0;transform:scaleX(0.8713);">SOURCE: LMT Research Dept. ©2024</div>
<div class="t S" style="top:1422.40px;font-size:24.7px;line-height:24.7px;color:#606060;left:866.70px;transform-origin:0 0;transform:translateX(-50%) scaleX(1.0052);transform-origin:50% 0;">42% of laboratories are giving raises</div>
<div class="t S" style="top:1453.01px;font-size:24.7px;line-height:24.7px;color:#606060;left:868.10px;transform-origin:0 0;transform:translateX(-50%) scaleX(1.0426);transform-origin:50% 0;"><i>and</i> year-end, production/sales/merit</div>
<div class="t S" style="top:1484.81px;font-size:24.7px;line-height:24.7px;color:#606060;left:865.75px;transform-origin:0 0;transform:translateX(-50%) scaleX(0.9975);transform-origin:50% 0;">bonuses this year.</div>
<div class="t S" style="top:1562.88px;font-size:12.5px;line-height:12.5px;color:#8c8c8c;left:482.90px;transform-origin:0 0;transform:scaleX(0.8292);"><b><i>LMT</i></b></div>
<div class="t S" style="top:1565.00px;font-size:10px;line-height:10px;color:#8c8c8c;left:512.50px;transform-origin:0 0;transform:translateX(-50%) scaleX(1.0000);transform-origin:50% 0;">•</div>
<div class="t S" style="top:1562.28px;font-size:13.2px;line-height:13.2px;color:#8c8c8c;left:520.80px;transform-origin:0 0;transform:scaleX(0.9697);">October 2024</div>
<div class="t S" style="top:1565.00px;font-size:10px;line-height:10px;color:#8c8c8c;left:606.25px;transform-origin:0 0;transform:translateX(-50%) scaleX(1.0000);transform-origin:50% 0;">•</div>
<div class="t S" style="top:1562.28px;font-size:13.2px;line-height:13.2px;color:#8c8c8c;left:614.60px;transform-origin:0 0;transform:scaleX(0.9428);">LMTmag.com</div>
<div class="t S" style="top:1562.03px;font-size:13.5px;line-height:13.5px;color:#8c8c8c;font-weight:700;left:701.70px;transform-origin:0 0;transform:scaleX(0.9979);">14</div>
<div class="t S" style="top:1163.09px;font-size:12.6px;line-height:12.6px;color:#adadad;left:93.40px;transform-origin:0 0;transform:scaleX(0.9259);letter-spacing:1.5px;-webkit-text-stroke:0.4px #adadad;">DENTAL&#8194;DIGITAL&#8194;SOLUTIONS</div>
<div class="t S" style="top:1140.82px;font-size:19.5px;line-height:19.5px;color:#cbc9c5;font-weight:700;left:382.00px;transform-origin:0 0;transform:scaleX(1.0655);">3D Metal Printer</div>
<div class="t S" style="top:1168.52px;font-size:19.5px;line-height:19.5px;color:#cbc9c5;font-weight:700;left:382.00px;transform-origin:0 0;transform:scaleX(1.0555);">3D Metal Powder</div>
<div class="t S" style="top:1195.22px;font-size:19.5px;line-height:19.5px;color:#cbc9c5;font-weight:700;left:382.00px;transform-origin:0 0;transform:scaleX(1.0300);">3D Printing Service</div>
<div class="t S" style="top:1221.82px;font-size:11.5px;line-height:11.5px;color:#2a2a2a;left:141.00px;transform-origin:0 0;transform:scaleX(0.9523);"><b>TruPrint</b> 1000</div>
<div class="t S" style="top:1339.72px;font-size:9.5px;line-height:9.5px;color:#fff;font-weight:700;left:429.00px;transform-origin:0 0;transform:scaleX(0.8674);">Kera®S-Powder</div>
<div class="t S" style="top:1507.13px;font-size:14.2px;line-height:14.2px;color:#e9a15e;font-weight:700;left:188.30px;transform-origin:0 0;transform:scaleX(0.9925);">Articon is exclusive dealer of TruPrint 1000</div>
<div class="t S" style="top:1449.05px;font-size:11px;line-height:11px;color:#fff;font-weight:700;left:524.00px;transform-origin:0 0;transform:scaleX(0.9244);">learn more</div>
<div class="t S" style="top:1518.12px;font-size:7.5px;line-height:7.5px;color:#ddd;font-weight:700;left:520.70px;transform-origin:0 0;transform:scaleX(0.9462);">www.articon.com</div>
</body></html>
